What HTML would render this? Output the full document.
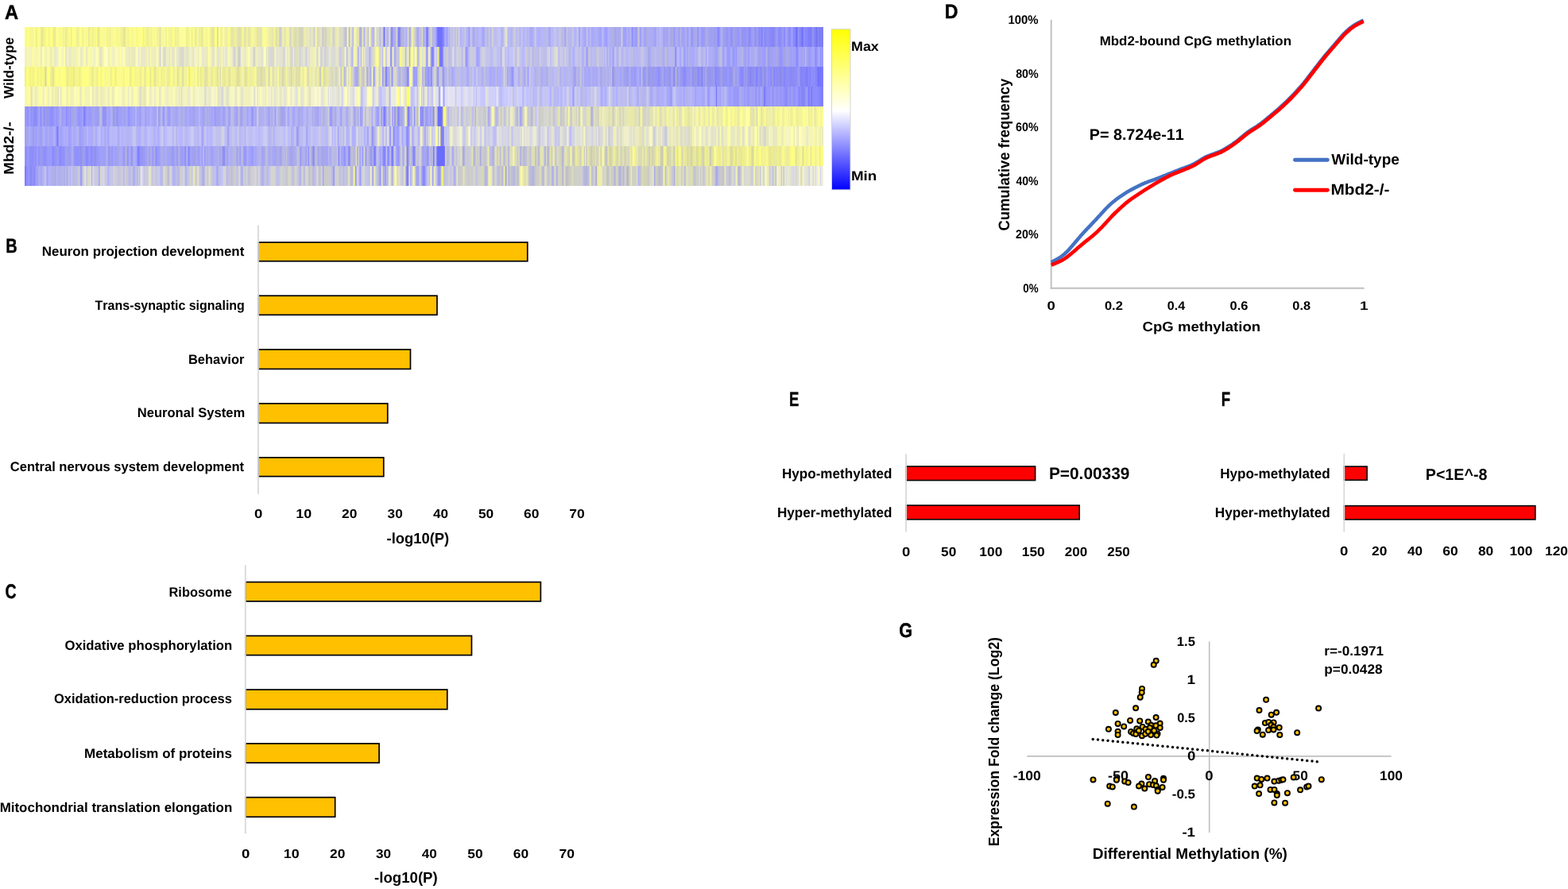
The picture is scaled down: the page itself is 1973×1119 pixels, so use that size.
<!DOCTYPE html>
<html><head><meta charset="utf-8"><title>Figure</title>
<style>html,body{margin:0;padding:0;background:#fff;width:1973px;height:1119px;overflow:hidden;}svg{display:block;}</style></head>
<body><svg width="1973" height="1119" viewBox="0 0 1973 1119">
<rect width="1973" height="1119" fill="#fff"/>
<defs><linearGradient id="h0" x1="0" x2="1" y1="0" y2="0"><stop offset="0.0010" stop-color="#ffff86"/><stop offset="0.0025" stop-color="#f7f78d"/><stop offset="0.0035" stop-color="#fdfd84"/><stop offset="0.0052" stop-color="#ffff82"/><stop offset="0.0070" stop-color="#f6f695"/><stop offset="0.0080" stop-color="#f7f791"/><stop offset="0.0090" stop-color="#f5f597"/><stop offset="0.0099" stop-color="#f5f598"/><stop offset="0.0109" stop-color="#f4f498"/><stop offset="0.0127" stop-color="#ffff90"/><stop offset="0.0149" stop-color="#eded88"/><stop offset="0.0167" stop-color="#fcfc86"/><stop offset="0.0184" stop-color="#fdfd92"/><stop offset="0.0199" stop-color="#f6f691"/><stop offset="0.0219" stop-color="#e4e496"/><stop offset="0.0244" stop-color="#f2f28c"/><stop offset="0.0269" stop-color="#fbfb8a"/><stop offset="0.0288" stop-color="#ffff80"/><stop offset="0.0308" stop-color="#f3f38a"/><stop offset="0.0328" stop-color="#ffff88"/><stop offset="0.0348" stop-color="#ffff80"/><stop offset="0.0371" stop-color="#e6e693"/><stop offset="0.0385" stop-color="#efef94"/><stop offset="0.0405" stop-color="#ffff8d"/><stop offset="0.0428" stop-color="#fbfb95"/><stop offset="0.0443" stop-color="#f8f888"/><stop offset="0.0463" stop-color="#fefe8f"/><stop offset="0.0485" stop-color="#f1f191"/><stop offset="0.0500" stop-color="#fbfb97"/><stop offset="0.0512" stop-color="#e9e999"/><stop offset="0.0530" stop-color="#f0f091"/><stop offset="0.0555" stop-color="#fafa8b"/><stop offset="0.0575" stop-color="#fbfb83"/><stop offset="0.0589" stop-color="#ebeba2"/><stop offset="0.0602" stop-color="#ffff8a"/><stop offset="0.0617" stop-color="#ffff85"/><stop offset="0.0632" stop-color="#ffff85"/><stop offset="0.0652" stop-color="#f4f48d"/><stop offset="0.0676" stop-color="#eded98"/><stop offset="0.0694" stop-color="#ffff87"/><stop offset="0.0706" stop-color="#fdfd93"/><stop offset="0.0716" stop-color="#fafa94"/><stop offset="0.0729" stop-color="#f2f28f"/><stop offset="0.0746" stop-color="#f7f79b"/><stop offset="0.0764" stop-color="#ffff90"/><stop offset="0.0778" stop-color="#f5f587"/><stop offset="0.0791" stop-color="#ffff92"/><stop offset="0.0806" stop-color="#e4e49b"/><stop offset="0.0826" stop-color="#fafa8b"/><stop offset="0.0846" stop-color="#f4f486"/><stop offset="0.0861" stop-color="#eded99"/><stop offset="0.0870" stop-color="#fcfc90"/><stop offset="0.0883" stop-color="#f3f393"/><stop offset="0.0900" stop-color="#ffff80"/><stop offset="0.0925" stop-color="#e2e296"/><stop offset="0.0948" stop-color="#f9f98e"/><stop offset="0.0970" stop-color="#fcfc91"/><stop offset="0.1000" stop-color="#f8f897"/><stop offset="0.1022" stop-color="#ffff80"/><stop offset="0.1035" stop-color="#e9e9a2"/><stop offset="0.1047" stop-color="#fdfd91"/><stop offset="0.1064" stop-color="#ebeb9c"/><stop offset="0.1087" stop-color="#fafa90"/><stop offset="0.1114" stop-color="#f8f89f"/><stop offset="0.1137" stop-color="#ffff80"/><stop offset="0.1149" stop-color="#fbfb92"/><stop offset="0.1159" stop-color="#f3f398"/><stop offset="0.1179" stop-color="#fafa92"/><stop offset="0.1201" stop-color="#f6f68e"/><stop offset="0.1224" stop-color="#efef9f"/><stop offset="0.1253" stop-color="#e2e28d"/><stop offset="0.1276" stop-color="#f9f999"/><stop offset="0.1298" stop-color="#f1f197"/><stop offset="0.1323" stop-color="#ffff83"/><stop offset="0.1348" stop-color="#f7f78d"/><stop offset="0.1368" stop-color="#f8f89a"/><stop offset="0.1383" stop-color="#ffff96"/><stop offset="0.1403" stop-color="#f8f880"/><stop offset="0.1420" stop-color="#f9f994"/><stop offset="0.1435" stop-color="#ffff81"/><stop offset="0.1455" stop-color="#fefe8a"/><stop offset="0.1477" stop-color="#ffff80"/><stop offset="0.1492" stop-color="#ecec94"/><stop offset="0.1502" stop-color="#fcfc80"/><stop offset="0.1512" stop-color="#f9f98a"/><stop offset="0.1525" stop-color="#f3f38f"/><stop offset="0.1542" stop-color="#ebeb96"/><stop offset="0.1567" stop-color="#f7f795"/><stop offset="0.1589" stop-color="#f3f394"/><stop offset="0.1602" stop-color="#f9f993"/><stop offset="0.1612" stop-color="#ffff80"/><stop offset="0.1627" stop-color="#f6f695"/><stop offset="0.1641" stop-color="#fdfd8d"/><stop offset="0.1656" stop-color="#f4f49d"/><stop offset="0.1681" stop-color="#f1f197"/><stop offset="0.1701" stop-color="#dedeaa"/><stop offset="0.1714" stop-color="#fafa90"/><stop offset="0.1733" stop-color="#f6f69d"/><stop offset="0.1756" stop-color="#fbfba8"/><stop offset="0.1773" stop-color="#eded96"/><stop offset="0.1788" stop-color="#ffff87"/><stop offset="0.1808" stop-color="#f6f68f"/><stop offset="0.1830" stop-color="#f1f1a1"/><stop offset="0.1848" stop-color="#f6f689"/><stop offset="0.1865" stop-color="#ffff8a"/><stop offset="0.1885" stop-color="#f3f38f"/><stop offset="0.1900" stop-color="#ebeb9b"/><stop offset="0.1910" stop-color="#fcfc82"/><stop offset="0.1920" stop-color="#eeee95"/><stop offset="0.1930" stop-color="#f0f09e"/><stop offset="0.1947" stop-color="#ffff9a"/><stop offset="0.1970" stop-color="#fbfb9c"/><stop offset="0.1992" stop-color="#fdfd9e"/><stop offset="0.2010" stop-color="#ffff94"/><stop offset="0.2022" stop-color="#f6f691"/><stop offset="0.2034" stop-color="#ebeb96"/><stop offset="0.2044" stop-color="#f2f2a1"/><stop offset="0.2054" stop-color="#f2f296"/><stop offset="0.2064" stop-color="#f5f597"/><stop offset="0.2079" stop-color="#ffff95"/><stop offset="0.2097" stop-color="#efef8b"/><stop offset="0.2116" stop-color="#ffff80"/><stop offset="0.2134" stop-color="#f1f1a1"/><stop offset="0.2146" stop-color="#e9e993"/><stop offset="0.2161" stop-color="#f8f891"/><stop offset="0.2174" stop-color="#f8f89f"/><stop offset="0.2189" stop-color="#ebeb9c"/><stop offset="0.2206" stop-color="#f1f194"/><stop offset="0.2223" stop-color="#e3e3a1"/><stop offset="0.2248" stop-color="#fcfc8e"/><stop offset="0.2271" stop-color="#f6f693"/><stop offset="0.2288" stop-color="#f8f894"/><stop offset="0.2308" stop-color="#ffff92"/><stop offset="0.2333" stop-color="#eded9b"/><stop offset="0.2363" stop-color="#e2e2a1"/><stop offset="0.2390" stop-color="#ffff80"/><stop offset="0.2407" stop-color="#ffff80"/><stop offset="0.2417" stop-color="#ccccaa"/><stop offset="0.2432" stop-color="#ffff91"/><stop offset="0.2452" stop-color="#f9f989"/><stop offset="0.2470" stop-color="#ecec99"/><stop offset="0.2485" stop-color="#fbfba4"/><stop offset="0.2497" stop-color="#fbfba0"/><stop offset="0.2509" stop-color="#f1f1a1"/><stop offset="0.2532" stop-color="#ededa5"/><stop offset="0.2562" stop-color="#ffff87"/><stop offset="0.2592" stop-color="#e5e5a6"/><stop offset="0.2616" stop-color="#e6e6a6"/><stop offset="0.2639" stop-color="#f3f393"/><stop offset="0.2666" stop-color="#e4e4b0"/><stop offset="0.2696" stop-color="#dedead"/><stop offset="0.2718" stop-color="#e8e8a6"/><stop offset="0.2736" stop-color="#ffff8a"/><stop offset="0.2753" stop-color="#e2e2aa"/><stop offset="0.2771" stop-color="#e5e5b2"/><stop offset="0.2788" stop-color="#f8f88e"/><stop offset="0.2810" stop-color="#e0e0af"/><stop offset="0.2830" stop-color="#efef9d"/><stop offset="0.2850" stop-color="#f8f89e"/><stop offset="0.2880" stop-color="#f3f3a3"/><stop offset="0.2902" stop-color="#efef8f"/><stop offset="0.2925" stop-color="#e1e1aa"/><stop offset="0.2945" stop-color="#e6e6b6"/><stop offset="0.2960" stop-color="#ddddba"/><stop offset="0.2975" stop-color="#f2f29e"/><stop offset="0.2992" stop-color="#ffff82"/><stop offset="0.3014" stop-color="#fafaa0"/><stop offset="0.3039" stop-color="#f7f7a1"/><stop offset="0.3064" stop-color="#ededa7"/><stop offset="0.3086" stop-color="#ececa7"/><stop offset="0.3109" stop-color="#e5e5af"/><stop offset="0.3131" stop-color="#f8f898"/><stop offset="0.3149" stop-color="#e1e19c"/><stop offset="0.3161" stop-color="#e2e2ae"/><stop offset="0.3178" stop-color="#eeeea1"/><stop offset="0.3196" stop-color="#c8c8ce"/><stop offset="0.3211" stop-color="#d1d1c9"/><stop offset="0.3223" stop-color="#e4e4aa"/><stop offset="0.3238" stop-color="#f0f0cb"/><stop offset="0.3258" stop-color="#e3e3a8"/><stop offset="0.3283" stop-color="#f4f4a2"/><stop offset="0.3308" stop-color="#f1f1a9"/><stop offset="0.3323" stop-color="#dbdbb5"/><stop offset="0.3333" stop-color="#d1d1cf"/><stop offset="0.3348" stop-color="#ededb7"/><stop offset="0.3372" stop-color="#e1e1ad"/><stop offset="0.3397" stop-color="#dadab0"/><stop offset="0.3420" stop-color="#e4e4b6"/><stop offset="0.3437" stop-color="#d7d7b3"/><stop offset="0.3452" stop-color="#d4d4c0"/><stop offset="0.3467" stop-color="#d6d6b5"/><stop offset="0.3482" stop-color="#d1d1bb"/><stop offset="0.3497" stop-color="#e9e9b2"/><stop offset="0.3517" stop-color="#eeeeb1"/><stop offset="0.3544" stop-color="#e4e4bd"/><stop offset="0.3561" stop-color="#eeeebe"/><stop offset="0.3574" stop-color="#d7d7cb"/><stop offset="0.3591" stop-color="#e8e8c2"/><stop offset="0.3614" stop-color="#e1e1c3"/><stop offset="0.3631" stop-color="#cacad2"/><stop offset="0.3649" stop-color="#ffffa6"/><stop offset="0.3666" stop-color="#dbdbb8"/><stop offset="0.3686" stop-color="#ddddbb"/><stop offset="0.3708" stop-color="#e5e5cc"/><stop offset="0.3721" stop-color="#e2e2c4"/><stop offset="0.3736" stop-color="#c4c4ce"/><stop offset="0.3753" stop-color="#dcdcbc"/><stop offset="0.3768" stop-color="#cfcfc6"/><stop offset="0.3783" stop-color="#d8d8ca"/><stop offset="0.3795" stop-color="#e5e5b3"/><stop offset="0.3815" stop-color="#dedec2"/><stop offset="0.3835" stop-color="#ebebb0"/><stop offset="0.3847" stop-color="#e9e9bb"/><stop offset="0.3870" stop-color="#c8c8e2"/><stop offset="0.3890" stop-color="#e6e6b1"/><stop offset="0.3902" stop-color="#e6e6b7"/><stop offset="0.3920" stop-color="#f3f3a9"/><stop offset="0.3935" stop-color="#e4e4c6"/><stop offset="0.3949" stop-color="#dadac5"/><stop offset="0.3974" stop-color="#dedec1"/><stop offset="0.3997" stop-color="#cfcfd4"/><stop offset="0.4014" stop-color="#c0c0dc"/><stop offset="0.4029" stop-color="#c0c0d4"/><stop offset="0.4046" stop-color="#ffff9e"/><stop offset="0.4066" stop-color="#b8b8e2"/><stop offset="0.4086" stop-color="#eeeeb9"/><stop offset="0.4111" stop-color="#b7b7ee"/><stop offset="0.4131" stop-color="#f8f8a7"/><stop offset="0.4151" stop-color="#f3f3a7"/><stop offset="0.4171" stop-color="#dcdcbf"/><stop offset="0.4183" stop-color="#e9e9b1"/><stop offset="0.4196" stop-color="#afafe0"/><stop offset="0.4218" stop-color="#b3b3e2"/><stop offset="0.4238" stop-color="#f9f9b0"/><stop offset="0.4250" stop-color="#9e9eff"/><stop offset="0.4265" stop-color="#d9d9cf"/><stop offset="0.4285" stop-color="#dfdfc5"/><stop offset="0.4305" stop-color="#c2c2cf"/><stop offset="0.4318" stop-color="#ffffaa"/><stop offset="0.4332" stop-color="#e7e7b1"/><stop offset="0.4352" stop-color="#b9b9f0"/><stop offset="0.4375" stop-color="#b7b7f4"/><stop offset="0.4392" stop-color="#ffff80"/><stop offset="0.4412" stop-color="#d4d4e0"/><stop offset="0.4434" stop-color="#d7d7d4"/><stop offset="0.4452" stop-color="#b7b7e9"/><stop offset="0.4467" stop-color="#d6d6cb"/><stop offset="0.4482" stop-color="#d2d2dc"/><stop offset="0.4504" stop-color="#7171ff"/><stop offset="0.4521" stop-color="#d7d7af"/><stop offset="0.4534" stop-color="#b7b7fa"/><stop offset="0.4551" stop-color="#b3b3f4"/><stop offset="0.4571" stop-color="#e4e4c3"/><stop offset="0.4596" stop-color="#8080fa"/><stop offset="0.4621" stop-color="#b1b1ec"/><stop offset="0.4641" stop-color="#ababff"/><stop offset="0.4661" stop-color="#dbdbbe"/><stop offset="0.4681" stop-color="#8080ff"/><stop offset="0.4696" stop-color="#8080ff"/><stop offset="0.4711" stop-color="#a8a8da"/><stop offset="0.4730" stop-color="#b8b8e5"/><stop offset="0.4745" stop-color="#afafe6"/><stop offset="0.4760" stop-color="#c3c3ef"/><stop offset="0.4780" stop-color="#ababfd"/><stop offset="0.4795" stop-color="#cbcbd0"/><stop offset="0.4805" stop-color="#e2e2ba"/><stop offset="0.4820" stop-color="#a0a0ff"/><stop offset="0.4837" stop-color="#c4c4cf"/><stop offset="0.4852" stop-color="#f3f3ac"/><stop offset="0.4875" stop-color="#ddddbb"/><stop offset="0.4900" stop-color="#c3c3d8"/><stop offset="0.4924" stop-color="#a2a2ff"/><stop offset="0.4947" stop-color="#c4c4dd"/><stop offset="0.4967" stop-color="#c0c0db"/><stop offset="0.4984" stop-color="#e0e0bf"/><stop offset="0.4997" stop-color="#9a9aff"/><stop offset="0.5016" stop-color="#c5c5e1"/><stop offset="0.5039" stop-color="#6e6eff"/><stop offset="0.5064" stop-color="#babae7"/><stop offset="0.5094" stop-color="#d9d9c0"/><stop offset="0.5113" stop-color="#b0b0e3"/><stop offset="0.5128" stop-color="#b8b8f1"/><stop offset="0.5151" stop-color="#a7a7ff"/><stop offset="0.5173" stop-color="#7070ff"/><stop offset="0.5188" stop-color="#7070ff"/><stop offset="0.5200" stop-color="#7070ff"/><stop offset="0.5220" stop-color="#7070ff"/><stop offset="0.5248" stop-color="#8a8aff"/><stop offset="0.5270" stop-color="#b2b2f6"/><stop offset="0.5283" stop-color="#9f9fff"/><stop offset="0.5295" stop-color="#a0a0ff"/><stop offset="0.5307" stop-color="#bbbbfb"/><stop offset="0.5322" stop-color="#b4b4db"/><stop offset="0.5337" stop-color="#c9c9e9"/><stop offset="0.5355" stop-color="#bbbbe8"/><stop offset="0.5372" stop-color="#cfcfe0"/><stop offset="0.5382" stop-color="#c4c4f0"/><stop offset="0.5392" stop-color="#bcbcde"/><stop offset="0.5407" stop-color="#d1d1cd"/><stop offset="0.5422" stop-color="#bbbbf6"/><stop offset="0.5442" stop-color="#d5d5de"/><stop offset="0.5462" stop-color="#a9a9f2"/><stop offset="0.5474" stop-color="#bdbdfd"/><stop offset="0.5491" stop-color="#b8b8ef"/><stop offset="0.5506" stop-color="#c3c3e5"/><stop offset="0.5519" stop-color="#c6c6e5"/><stop offset="0.5536" stop-color="#b4b4f6"/><stop offset="0.5554" stop-color="#b3b3f4"/><stop offset="0.5566" stop-color="#9494ff"/><stop offset="0.5576" stop-color="#b5b5f9"/><stop offset="0.5593" stop-color="#c9c9e9"/><stop offset="0.5611" stop-color="#afaff2"/><stop offset="0.5623" stop-color="#a3a3f7"/><stop offset="0.5646" stop-color="#bcbce2"/><stop offset="0.5666" stop-color="#b0b0f1"/><stop offset="0.5685" stop-color="#b7b7ff"/><stop offset="0.5715" stop-color="#b9b9f6"/><stop offset="0.5740" stop-color="#a2a2ff"/><stop offset="0.5758" stop-color="#aeaee9"/><stop offset="0.5772" stop-color="#c1c1ff"/><stop offset="0.5790" stop-color="#b9b9e7"/><stop offset="0.5805" stop-color="#b9b9e2"/><stop offset="0.5817" stop-color="#cacae0"/><stop offset="0.5837" stop-color="#b5b5ee"/><stop offset="0.5860" stop-color="#d7d7c8"/><stop offset="0.5882" stop-color="#babaf9"/><stop offset="0.5909" stop-color="#bfbfe8"/><stop offset="0.5929" stop-color="#c3c3fc"/><stop offset="0.5947" stop-color="#c7c7ee"/><stop offset="0.5966" stop-color="#babafc"/><stop offset="0.5984" stop-color="#b0b0e9"/><stop offset="0.6001" stop-color="#c4c4f5"/><stop offset="0.6019" stop-color="#deded4"/><stop offset="0.6036" stop-color="#e4e4ca"/><stop offset="0.6049" stop-color="#c3c3e3"/><stop offset="0.6061" stop-color="#b5b5f4"/><stop offset="0.6076" stop-color="#bdbdf8"/><stop offset="0.6093" stop-color="#b0b0fa"/><stop offset="0.6111" stop-color="#bfbfea"/><stop offset="0.6123" stop-color="#bebef8"/><stop offset="0.6138" stop-color="#d5d5ca"/><stop offset="0.6158" stop-color="#b6b6f5"/><stop offset="0.6180" stop-color="#c6c6e7"/><stop offset="0.6205" stop-color="#b3b3f4"/><stop offset="0.6223" stop-color="#c5c5f2"/><stop offset="0.6235" stop-color="#bebef0"/><stop offset="0.6255" stop-color="#b1b1f7"/><stop offset="0.6275" stop-color="#c1c1f3"/><stop offset="0.6290" stop-color="#b4b4ec"/><stop offset="0.6310" stop-color="#babafa"/><stop offset="0.6332" stop-color="#ababf2"/><stop offset="0.6357" stop-color="#aaaaf9"/><stop offset="0.6382" stop-color="#bbbbe8"/><stop offset="0.6397" stop-color="#cdcdf0"/><stop offset="0.6409" stop-color="#b2b2f9"/><stop offset="0.6422" stop-color="#b9b9ed"/><stop offset="0.6432" stop-color="#ababff"/><stop offset="0.6451" stop-color="#b4b4f0"/><stop offset="0.6474" stop-color="#b3b3ff"/><stop offset="0.6486" stop-color="#b8b8ff"/><stop offset="0.6501" stop-color="#b7b7e4"/><stop offset="0.6526" stop-color="#babaf4"/><stop offset="0.6553" stop-color="#b8b8ec"/><stop offset="0.6571" stop-color="#a3a3ff"/><stop offset="0.6583" stop-color="#aeaefb"/><stop offset="0.6596" stop-color="#bbbbe8"/><stop offset="0.6616" stop-color="#b8b8ff"/><stop offset="0.6643" stop-color="#c8c8e2"/><stop offset="0.6665" stop-color="#b9b9f2"/><stop offset="0.6685" stop-color="#bdbdf0"/><stop offset="0.6703" stop-color="#c6c6e0"/><stop offset="0.6720" stop-color="#c0c0e0"/><stop offset="0.6737" stop-color="#b3b3ed"/><stop offset="0.6750" stop-color="#c0c0f0"/><stop offset="0.6767" stop-color="#9e9ef1"/><stop offset="0.6790" stop-color="#c7c7e4"/><stop offset="0.6810" stop-color="#b6b6e3"/><stop offset="0.6825" stop-color="#babaf1"/><stop offset="0.6842" stop-color="#b5b5f4"/><stop offset="0.6859" stop-color="#c5c5dd"/><stop offset="0.6869" stop-color="#c7c7f6"/><stop offset="0.6882" stop-color="#b2b2ff"/><stop offset="0.6894" stop-color="#b3b3e6"/><stop offset="0.6907" stop-color="#b9b9ea"/><stop offset="0.6919" stop-color="#c6c6e9"/><stop offset="0.6931" stop-color="#bfbff4"/><stop offset="0.6949" stop-color="#9898ff"/><stop offset="0.6964" stop-color="#c5c5f1"/><stop offset="0.6981" stop-color="#b4b4f2"/><stop offset="0.7001" stop-color="#ababf9"/><stop offset="0.7023" stop-color="#a4a4fc"/><stop offset="0.7043" stop-color="#c7c7e0"/><stop offset="0.7053" stop-color="#b5b5ef"/><stop offset="0.7066" stop-color="#a4a4fd"/><stop offset="0.7083" stop-color="#bebef7"/><stop offset="0.7098" stop-color="#ababee"/><stop offset="0.7113" stop-color="#a7a7ff"/><stop offset="0.7128" stop-color="#ababf4"/><stop offset="0.7148" stop-color="#b0b0fa"/><stop offset="0.7178" stop-color="#adadf6"/><stop offset="0.7198" stop-color="#a4a4f4"/><stop offset="0.7215" stop-color="#a1a1ff"/><stop offset="0.7237" stop-color="#bbbbf5"/><stop offset="0.7252" stop-color="#adadff"/><stop offset="0.7267" stop-color="#a1a1ff"/><stop offset="0.7287" stop-color="#9c9cff"/><stop offset="0.7309" stop-color="#b2b2fd"/><stop offset="0.7337" stop-color="#b0b0f1"/><stop offset="0.7364" stop-color="#b1b1dd"/><stop offset="0.7382" stop-color="#acacf0"/><stop offset="0.7394" stop-color="#a3a3eb"/><stop offset="0.7416" stop-color="#ababf2"/><stop offset="0.7444" stop-color="#ababe5"/><stop offset="0.7464" stop-color="#acacf1"/><stop offset="0.7479" stop-color="#d5d5d2"/><stop offset="0.7491" stop-color="#a7a7fb"/><stop offset="0.7508" stop-color="#9f9fff"/><stop offset="0.7531" stop-color="#a1a1fd"/><stop offset="0.7548" stop-color="#b6b6e0"/><stop offset="0.7566" stop-color="#a1a1f7"/><stop offset="0.7581" stop-color="#b9b9ec"/><stop offset="0.7596" stop-color="#a7a7ff"/><stop offset="0.7610" stop-color="#8a8aff"/><stop offset="0.7630" stop-color="#a9a9f9"/><stop offset="0.7655" stop-color="#9494ff"/><stop offset="0.7673" stop-color="#aaaaf1"/><stop offset="0.7688" stop-color="#cacad2"/><stop offset="0.7710" stop-color="#9898ff"/><stop offset="0.7737" stop-color="#babaeb"/><stop offset="0.7760" stop-color="#a1a1ff"/><stop offset="0.7782" stop-color="#a8a8e3"/><stop offset="0.7802" stop-color="#b0b0ed"/><stop offset="0.7819" stop-color="#adadf1"/><stop offset="0.7834" stop-color="#acacf3"/><stop offset="0.7854" stop-color="#adadee"/><stop offset="0.7877" stop-color="#a9a9fa"/><stop offset="0.7889" stop-color="#a0a0fa"/><stop offset="0.7904" stop-color="#a3a3f8"/><stop offset="0.7921" stop-color="#bdbdea"/><stop offset="0.7936" stop-color="#acacf5"/><stop offset="0.7949" stop-color="#bbbbe8"/><stop offset="0.7961" stop-color="#b8b8fc"/><stop offset="0.7981" stop-color="#b4b4f3"/><stop offset="0.8003" stop-color="#a1a1f3"/><stop offset="0.8023" stop-color="#a8a8ed"/><stop offset="0.8048" stop-color="#a3a3f9"/><stop offset="0.8073" stop-color="#b5b5e1"/><stop offset="0.8090" stop-color="#a3a3f2"/><stop offset="0.8113" stop-color="#adadd9"/><stop offset="0.8135" stop-color="#9797ff"/><stop offset="0.8150" stop-color="#aeaeec"/><stop offset="0.8165" stop-color="#a9a9f2"/><stop offset="0.8180" stop-color="#aeaee5"/><stop offset="0.8192" stop-color="#9999fb"/><stop offset="0.8212" stop-color="#b3b3e5"/><stop offset="0.8235" stop-color="#a1a1f5"/><stop offset="0.8252" stop-color="#a1a1f9"/><stop offset="0.8269" stop-color="#a5a5f9"/><stop offset="0.8282" stop-color="#b2b2f0"/><stop offset="0.8294" stop-color="#9f9feb"/><stop offset="0.8309" stop-color="#a0a0fb"/><stop offset="0.8329" stop-color="#b6b6f4"/><stop offset="0.8352" stop-color="#9292f4"/><stop offset="0.8376" stop-color="#a6a6eb"/><stop offset="0.8399" stop-color="#a9a9f3"/><stop offset="0.8416" stop-color="#ababe7"/><stop offset="0.8431" stop-color="#8c8cf7"/><stop offset="0.8441" stop-color="#a4a4e6"/><stop offset="0.8456" stop-color="#aeaefc"/><stop offset="0.8471" stop-color="#9d9df3"/><stop offset="0.8491" stop-color="#9797ff"/><stop offset="0.8511" stop-color="#9e9ef3"/><stop offset="0.8523" stop-color="#a2a2ee"/><stop offset="0.8536" stop-color="#b0b0e2"/><stop offset="0.8551" stop-color="#a9a9ea"/><stop offset="0.8568" stop-color="#a0a0f8"/><stop offset="0.8583" stop-color="#a1a1f0"/><stop offset="0.8600" stop-color="#9f9ff0"/><stop offset="0.8618" stop-color="#a3a3f5"/><stop offset="0.8638" stop-color="#9d9de5"/><stop offset="0.8662" stop-color="#a0a0ff"/><stop offset="0.8680" stop-color="#8787fd"/><stop offset="0.8695" stop-color="#8b8bfc"/><stop offset="0.8715" stop-color="#ababf8"/><stop offset="0.8732" stop-color="#b0b0e7"/><stop offset="0.8752" stop-color="#9c9cf7"/><stop offset="0.8772" stop-color="#a0a0ec"/><stop offset="0.8784" stop-color="#9797ef"/><stop offset="0.8804" stop-color="#9595ff"/><stop offset="0.8824" stop-color="#a3a3e9"/><stop offset="0.8839" stop-color="#9393ff"/><stop offset="0.8854" stop-color="#9393f0"/><stop offset="0.8864" stop-color="#9494f3"/><stop offset="0.8874" stop-color="#a7a7df"/><stop offset="0.8889" stop-color="#9f9fe9"/><stop offset="0.8914" stop-color="#9a9af1"/><stop offset="0.8941" stop-color="#9595fd"/><stop offset="0.8963" stop-color="#a3a3f6"/><stop offset="0.8986" stop-color="#9393eb"/><stop offset="0.9008" stop-color="#9494ff"/><stop offset="0.9026" stop-color="#9191f6"/><stop offset="0.9045" stop-color="#9d9def"/><stop offset="0.9065" stop-color="#8f8ff5"/><stop offset="0.9080" stop-color="#8a8af1"/><stop offset="0.9093" stop-color="#9393ff"/><stop offset="0.9110" stop-color="#9d9df7"/><stop offset="0.9130" stop-color="#a1a1eb"/><stop offset="0.9150" stop-color="#8d8df6"/><stop offset="0.9172" stop-color="#9e9ef8"/><stop offset="0.9197" stop-color="#8b8bf0"/><stop offset="0.9220" stop-color="#8f8ff8"/><stop offset="0.9232" stop-color="#7b7bff"/><stop offset="0.9249" stop-color="#9a9af6"/><stop offset="0.9267" stop-color="#8989f9"/><stop offset="0.9282" stop-color="#8c8cf4"/><stop offset="0.9304" stop-color="#9292f8"/><stop offset="0.9331" stop-color="#8a8af8"/><stop offset="0.9354" stop-color="#8989fb"/><stop offset="0.9371" stop-color="#8282f4"/><stop offset="0.9391" stop-color="#8e8eef"/><stop offset="0.9406" stop-color="#9595f1"/><stop offset="0.9421" stop-color="#9f9ff0"/><stop offset="0.9443" stop-color="#8787ff"/><stop offset="0.9468" stop-color="#8d8df9"/><stop offset="0.9496" stop-color="#9c9cef"/><stop offset="0.9516" stop-color="#8484fb"/><stop offset="0.9528" stop-color="#a5a5f2"/><stop offset="0.9550" stop-color="#9a9aff"/><stop offset="0.9570" stop-color="#8d8df0"/><stop offset="0.9585" stop-color="#8a8afb"/><stop offset="0.9605" stop-color="#a4a4fc"/><stop offset="0.9627" stop-color="#8a8aff"/><stop offset="0.9647" stop-color="#8787fc"/><stop offset="0.9660" stop-color="#7171f8"/><stop offset="0.9670" stop-color="#6b6bff"/><stop offset="0.9687" stop-color="#9696f8"/><stop offset="0.9707" stop-color="#8888eb"/><stop offset="0.9722" stop-color="#8484ff"/><stop offset="0.9737" stop-color="#6b6bff"/><stop offset="0.9759" stop-color="#9393fa"/><stop offset="0.9779" stop-color="#8585ff"/><stop offset="0.9792" stop-color="#8a8afe"/><stop offset="0.9809" stop-color="#7f7fff"/><stop offset="0.9824" stop-color="#7d7df8"/><stop offset="0.9834" stop-color="#8282f2"/><stop offset="0.9844" stop-color="#7a7aff"/><stop offset="0.9854" stop-color="#8484ee"/><stop offset="0.9864" stop-color="#9494f4"/><stop offset="0.9879" stop-color="#8d8df3"/><stop offset="0.9896" stop-color="#8383ff"/><stop offset="0.9916" stop-color="#7474f5"/><stop offset="0.9936" stop-color="#8484f4"/><stop offset="0.9948" stop-color="#8888f5"/><stop offset="0.9958" stop-color="#7171f8"/><stop offset="0.9968" stop-color="#8989f4"/><stop offset="0.9981" stop-color="#7777fc"/><stop offset="1.0000" stop-color="#8787ef"/></linearGradient><linearGradient id="h1" x1="0" x2="1" y1="0" y2="0"><stop offset="0.0007" stop-color="#f5f5b0"/><stop offset="0.0022" stop-color="#f1f1bc"/><stop offset="0.0037" stop-color="#f7f7ab"/><stop offset="0.0057" stop-color="#f5f5bf"/><stop offset="0.0085" stop-color="#f2f2b9"/><stop offset="0.0107" stop-color="#ffff96"/><stop offset="0.0129" stop-color="#f3f3bd"/><stop offset="0.0152" stop-color="#f9f9a5"/><stop offset="0.0164" stop-color="#f1f1bb"/><stop offset="0.0182" stop-color="#ffffa6"/><stop offset="0.0199" stop-color="#f2f2b6"/><stop offset="0.0211" stop-color="#eaeab3"/><stop offset="0.0229" stop-color="#ffffb7"/><stop offset="0.0249" stop-color="#f9f9ae"/><stop offset="0.0271" stop-color="#efefb2"/><stop offset="0.0291" stop-color="#fbfbb2"/><stop offset="0.0308" stop-color="#f7f7b5"/><stop offset="0.0333" stop-color="#ebebac"/><stop offset="0.0353" stop-color="#f4f4b2"/><stop offset="0.0366" stop-color="#f6f6b9"/><stop offset="0.0381" stop-color="#e5e5bf"/><stop offset="0.0393" stop-color="#ececc4"/><stop offset="0.0405" stop-color="#ececc6"/><stop offset="0.0425" stop-color="#f5f5c2"/><stop offset="0.0443" stop-color="#ffffb6"/><stop offset="0.0453" stop-color="#ffffb4"/><stop offset="0.0465" stop-color="#f4f4ba"/><stop offset="0.0482" stop-color="#f6f6ba"/><stop offset="0.0505" stop-color="#ffffad"/><stop offset="0.0522" stop-color="#ddddba"/><stop offset="0.0537" stop-color="#f6f6c5"/><stop offset="0.0562" stop-color="#e7e7c6"/><stop offset="0.0584" stop-color="#ededbe"/><stop offset="0.0602" stop-color="#f2f2b4"/><stop offset="0.0619" stop-color="#eeeec1"/><stop offset="0.0637" stop-color="#efefba"/><stop offset="0.0654" stop-color="#f5f5ab"/><stop offset="0.0669" stop-color="#f3f3bb"/><stop offset="0.0684" stop-color="#fcfcb5"/><stop offset="0.0699" stop-color="#efefc2"/><stop offset="0.0711" stop-color="#e7e7cb"/><stop offset="0.0724" stop-color="#ededc6"/><stop offset="0.0739" stop-color="#f5f5b2"/><stop offset="0.0754" stop-color="#ffffa5"/><stop offset="0.0766" stop-color="#f4f4c3"/><stop offset="0.0781" stop-color="#e5e5c3"/><stop offset="0.0796" stop-color="#fafab0"/><stop offset="0.0816" stop-color="#fafaab"/><stop offset="0.0841" stop-color="#f6f6af"/><stop offset="0.0858" stop-color="#f7f7be"/><stop offset="0.0870" stop-color="#efefc9"/><stop offset="0.0885" stop-color="#f1f1bf"/><stop offset="0.0900" stop-color="#fdfdc3"/><stop offset="0.0913" stop-color="#fdfdb2"/><stop offset="0.0928" stop-color="#f8f8ab"/><stop offset="0.0945" stop-color="#e2e2c0"/><stop offset="0.0962" stop-color="#e4e4bf"/><stop offset="0.0980" stop-color="#efefba"/><stop offset="0.1002" stop-color="#ffffac"/><stop offset="0.1030" stop-color="#fefed1"/><stop offset="0.1050" stop-color="#f2f2b5"/><stop offset="0.1067" stop-color="#f2f2ba"/><stop offset="0.1087" stop-color="#ffffa4"/><stop offset="0.1099" stop-color="#efefc8"/><stop offset="0.1114" stop-color="#f1f1bb"/><stop offset="0.1132" stop-color="#f6f6ba"/><stop offset="0.1154" stop-color="#fcfcc0"/><stop offset="0.1184" stop-color="#f5f5b4"/><stop offset="0.1206" stop-color="#ffffa3"/><stop offset="0.1219" stop-color="#f3f3c3"/><stop offset="0.1236" stop-color="#fcfcb5"/><stop offset="0.1258" stop-color="#fcfcbb"/><stop offset="0.1276" stop-color="#eaeab3"/><stop offset="0.1291" stop-color="#eeeec7"/><stop offset="0.1311" stop-color="#e8e8c0"/><stop offset="0.1333" stop-color="#f1f1b8"/><stop offset="0.1348" stop-color="#e9e9b2"/><stop offset="0.1360" stop-color="#e8e8c6"/><stop offset="0.1383" stop-color="#eaeab6"/><stop offset="0.1403" stop-color="#fdfdbc"/><stop offset="0.1415" stop-color="#fbfbbc"/><stop offset="0.1428" stop-color="#e6e6d9"/><stop offset="0.1447" stop-color="#f8f8bf"/><stop offset="0.1470" stop-color="#e2e2d2"/><stop offset="0.1482" stop-color="#ebebc1"/><stop offset="0.1495" stop-color="#e9e9c3"/><stop offset="0.1507" stop-color="#e7e7d5"/><stop offset="0.1522" stop-color="#efefb0"/><stop offset="0.1537" stop-color="#f3f3c0"/><stop offset="0.1552" stop-color="#efefc2"/><stop offset="0.1567" stop-color="#e5e5c2"/><stop offset="0.1577" stop-color="#fefeb6"/><stop offset="0.1589" stop-color="#eeeec2"/><stop offset="0.1612" stop-color="#eeeebe"/><stop offset="0.1636" stop-color="#ececb5"/><stop offset="0.1659" stop-color="#fafabf"/><stop offset="0.1681" stop-color="#efefbf"/><stop offset="0.1699" stop-color="#d0d0dd"/><stop offset="0.1719" stop-color="#ffffb9"/><stop offset="0.1746" stop-color="#d6d6cb"/><stop offset="0.1766" stop-color="#e0e0c4"/><stop offset="0.1778" stop-color="#ebebc5"/><stop offset="0.1796" stop-color="#f0f0c7"/><stop offset="0.1816" stop-color="#e5e5c1"/><stop offset="0.1833" stop-color="#f7f7b5"/><stop offset="0.1845" stop-color="#e7e7d3"/><stop offset="0.1863" stop-color="#e5e5be"/><stop offset="0.1883" stop-color="#efefbf"/><stop offset="0.1895" stop-color="#ffffbc"/><stop offset="0.1905" stop-color="#e3e3c4"/><stop offset="0.1918" stop-color="#ececca"/><stop offset="0.1935" stop-color="#ddddd1"/><stop offset="0.1957" stop-color="#ddddc4"/><stop offset="0.1985" stop-color="#d6d6d9"/><stop offset="0.2010" stop-color="#ededbc"/><stop offset="0.2034" stop-color="#e0e0c9"/><stop offset="0.2057" stop-color="#e8e8c9"/><stop offset="0.2074" stop-color="#f0f0cb"/><stop offset="0.2094" stop-color="#f0f0bb"/><stop offset="0.2112" stop-color="#e3e3c2"/><stop offset="0.2131" stop-color="#f2f2d3"/><stop offset="0.2154" stop-color="#f4f4bf"/><stop offset="0.2169" stop-color="#f3f3ca"/><stop offset="0.2179" stop-color="#e8e8bc"/><stop offset="0.2194" stop-color="#fafabf"/><stop offset="0.2209" stop-color="#fafab7"/><stop offset="0.2223" stop-color="#ebebc5"/><stop offset="0.2238" stop-color="#e3e3dd"/><stop offset="0.2253" stop-color="#ededc3"/><stop offset="0.2273" stop-color="#ebebb1"/><stop offset="0.2288" stop-color="#e6e6cf"/><stop offset="0.2306" stop-color="#ffffa5"/><stop offset="0.2328" stop-color="#f6f6b4"/><stop offset="0.2348" stop-color="#eaeac3"/><stop offset="0.2363" stop-color="#dfdfc8"/><stop offset="0.2375" stop-color="#e7e7d3"/><stop offset="0.2393" stop-color="#ffffa0"/><stop offset="0.2417" stop-color="#e1e1d1"/><stop offset="0.2442" stop-color="#eaeac4"/><stop offset="0.2462" stop-color="#ededb6"/><stop offset="0.2477" stop-color="#fafaba"/><stop offset="0.2490" stop-color="#e3e3cd"/><stop offset="0.2507" stop-color="#f2f2d3"/><stop offset="0.2524" stop-color="#dfdfd1"/><stop offset="0.2547" stop-color="#f7f7b9"/><stop offset="0.2572" stop-color="#f5f5c0"/><stop offset="0.2587" stop-color="#f2f2b3"/><stop offset="0.2604" stop-color="#e8e8d0"/><stop offset="0.2629" stop-color="#ccccd6"/><stop offset="0.2649" stop-color="#eaeac4"/><stop offset="0.2664" stop-color="#e6e6c2"/><stop offset="0.2681" stop-color="#cdcdc2"/><stop offset="0.2698" stop-color="#cbcbe0"/><stop offset="0.2713" stop-color="#f0f0c7"/><stop offset="0.2736" stop-color="#f0f0c4"/><stop offset="0.2766" stop-color="#e7e7c5"/><stop offset="0.2790" stop-color="#f8f8b2"/><stop offset="0.2813" stop-color="#ffffb4"/><stop offset="0.2830" stop-color="#ececc9"/><stop offset="0.2843" stop-color="#eeeec4"/><stop offset="0.2855" stop-color="#ececce"/><stop offset="0.2873" stop-color="#cececd"/><stop offset="0.2895" stop-color="#e9e9c6"/><stop offset="0.2910" stop-color="#f3f3ba"/><stop offset="0.2927" stop-color="#e7e7d7"/><stop offset="0.2950" stop-color="#eaeac3"/><stop offset="0.2967" stop-color="#e5e5ca"/><stop offset="0.2982" stop-color="#e0e0d9"/><stop offset="0.2999" stop-color="#ffffc3"/><stop offset="0.3017" stop-color="#ffffbe"/><stop offset="0.3029" stop-color="#e1e1c8"/><stop offset="0.3039" stop-color="#eeeec3"/><stop offset="0.3054" stop-color="#dfdfc7"/><stop offset="0.3079" stop-color="#d7d7db"/><stop offset="0.3104" stop-color="#d9d9d1"/><stop offset="0.3121" stop-color="#d8d8d1"/><stop offset="0.3136" stop-color="#f7f7c1"/><stop offset="0.3154" stop-color="#e5e5da"/><stop offset="0.3171" stop-color="#e3e3d0"/><stop offset="0.3183" stop-color="#e8e8c9"/><stop offset="0.3198" stop-color="#e3e3d6"/><stop offset="0.3223" stop-color="#e4e4cb"/><stop offset="0.3253" stop-color="#d2d2dd"/><stop offset="0.3275" stop-color="#f5f5ca"/><stop offset="0.3293" stop-color="#e5e5d4"/><stop offset="0.3313" stop-color="#f4f4b3"/><stop offset="0.3333" stop-color="#d7d7c5"/><stop offset="0.3353" stop-color="#d4d4dc"/><stop offset="0.3370" stop-color="#f3f3b5"/><stop offset="0.3385" stop-color="#cccce6"/><stop offset="0.3400" stop-color="#e7e7bc"/><stop offset="0.3412" stop-color="#d8d8ce"/><stop offset="0.3430" stop-color="#e5e5c6"/><stop offset="0.3447" stop-color="#cfcfd5"/><stop offset="0.3462" stop-color="#dbdbd2"/><stop offset="0.3487" stop-color="#e1e1d8"/><stop offset="0.3509" stop-color="#e4e4d0"/><stop offset="0.3527" stop-color="#cccce1"/><stop offset="0.3547" stop-color="#e8e8cf"/><stop offset="0.3561" stop-color="#ddddd3"/><stop offset="0.3576" stop-color="#ebebc7"/><stop offset="0.3601" stop-color="#ededba"/><stop offset="0.3624" stop-color="#efefae"/><stop offset="0.3641" stop-color="#f7f7c0"/><stop offset="0.3656" stop-color="#e1e1d6"/><stop offset="0.3671" stop-color="#d3d3d4"/><stop offset="0.3688" stop-color="#fcfcb6"/><stop offset="0.3701" stop-color="#ddddda"/><stop offset="0.3721" stop-color="#ceced8"/><stop offset="0.3741" stop-color="#e9e9be"/><stop offset="0.3758" stop-color="#cecedb"/><stop offset="0.3785" stop-color="#d7d7d5"/><stop offset="0.3805" stop-color="#dbdbe3"/><stop offset="0.3815" stop-color="#ebebc8"/><stop offset="0.3833" stop-color="#e2e2d2"/><stop offset="0.3850" stop-color="#dcdcd4"/><stop offset="0.3862" stop-color="#dadad6"/><stop offset="0.3880" stop-color="#d9d9d6"/><stop offset="0.3902" stop-color="#e5e5cf"/><stop offset="0.3920" stop-color="#e6e6cd"/><stop offset="0.3930" stop-color="#e0e0c3"/><stop offset="0.3940" stop-color="#d4d4d3"/><stop offset="0.3957" stop-color="#c9c9e6"/><stop offset="0.3979" stop-color="#d7d7cd"/><stop offset="0.3999" stop-color="#d6d6d3"/><stop offset="0.4019" stop-color="#fcfcb8"/><stop offset="0.4037" stop-color="#b9b9e7"/><stop offset="0.4049" stop-color="#dbdbd4"/><stop offset="0.4064" stop-color="#ebebc1"/><stop offset="0.4081" stop-color="#d8d8e7"/><stop offset="0.4104" stop-color="#b2b2f3"/><stop offset="0.4126" stop-color="#f4f4b5"/><stop offset="0.4138" stop-color="#f9f9a4"/><stop offset="0.4158" stop-color="#ececac"/><stop offset="0.4181" stop-color="#a8a8ff"/><stop offset="0.4198" stop-color="#ececcd"/><stop offset="0.4216" stop-color="#b4b4fa"/><stop offset="0.4228" stop-color="#fcfcb4"/><stop offset="0.4243" stop-color="#d3d3e4"/><stop offset="0.4258" stop-color="#ebebc4"/><stop offset="0.4278" stop-color="#cdcdd8"/><stop offset="0.4303" stop-color="#cfcfec"/><stop offset="0.4323" stop-color="#aeaeed"/><stop offset="0.4340" stop-color="#cecedc"/><stop offset="0.4357" stop-color="#d8d8c7"/><stop offset="0.4382" stop-color="#e2e2c4"/><stop offset="0.4410" stop-color="#ffff96"/><stop offset="0.4429" stop-color="#ffff80"/><stop offset="0.4447" stop-color="#cecedd"/><stop offset="0.4462" stop-color="#dbdbc9"/><stop offset="0.4472" stop-color="#dcdcc4"/><stop offset="0.4484" stop-color="#bbbbf5"/><stop offset="0.4497" stop-color="#f8f8b5"/><stop offset="0.4512" stop-color="#f3f3b5"/><stop offset="0.4529" stop-color="#bfbfe4"/><stop offset="0.4546" stop-color="#f1f1c9"/><stop offset="0.4561" stop-color="#e6e6d2"/><stop offset="0.4571" stop-color="#ffffa4"/><stop offset="0.4584" stop-color="#8989ff"/><stop offset="0.4599" stop-color="#aaaaf4"/><stop offset="0.4611" stop-color="#ffffb4"/><stop offset="0.4623" stop-color="#cfcfd6"/><stop offset="0.4638" stop-color="#a1a1ff"/><stop offset="0.4661" stop-color="#cdcdd0"/><stop offset="0.4686" stop-color="#bfbfe6"/><stop offset="0.4703" stop-color="#f7f78c"/><stop offset="0.4718" stop-color="#f7f78c"/><stop offset="0.4740" stop-color="#e7e7d1"/><stop offset="0.4763" stop-color="#e2e2c4"/><stop offset="0.4775" stop-color="#9e9eff"/><stop offset="0.4785" stop-color="#f6f6ac"/><stop offset="0.4795" stop-color="#d8d8d5"/><stop offset="0.4805" stop-color="#ffffa7"/><stop offset="0.4820" stop-color="#a4a4f5"/><stop offset="0.4837" stop-color="#ffff80"/><stop offset="0.4857" stop-color="#ffff94"/><stop offset="0.4877" stop-color="#dedec3"/><stop offset="0.4892" stop-color="#ffffab"/><stop offset="0.4904" stop-color="#ffff94"/><stop offset="0.4924" stop-color="#afaffa"/><stop offset="0.4944" stop-color="#d7d7c4"/><stop offset="0.4962" stop-color="#f8f8a7"/><stop offset="0.4982" stop-color="#e0e0d3"/><stop offset="0.5004" stop-color="#f1f1a8"/><stop offset="0.5024" stop-color="#d4d4e7"/><stop offset="0.5036" stop-color="#8383ff"/><stop offset="0.5054" stop-color="#d2d2e3"/><stop offset="0.5069" stop-color="#ffffa0"/><stop offset="0.5081" stop-color="#c8c8d2"/><stop offset="0.5103" stop-color="#7777ff"/><stop offset="0.5123" stop-color="#9696ff"/><stop offset="0.5138" stop-color="#dfdfd5"/><stop offset="0.5158" stop-color="#c4c4f9"/><stop offset="0.5178" stop-color="#fafa73"/><stop offset="0.5203" stop-color="#7373ff"/><stop offset="0.5228" stop-color="#7373ff"/><stop offset="0.5253" stop-color="#c4c4ef"/><stop offset="0.5278" stop-color="#c8c8d3"/><stop offset="0.5295" stop-color="#d0d0d5"/><stop offset="0.5310" stop-color="#bdbded"/><stop offset="0.5325" stop-color="#c1c1da"/><stop offset="0.5345" stop-color="#c0c0e9"/><stop offset="0.5365" stop-color="#e3e3e3"/><stop offset="0.5377" stop-color="#cecee4"/><stop offset="0.5397" stop-color="#bbbbfc"/><stop offset="0.5417" stop-color="#d9d9da"/><stop offset="0.5434" stop-color="#ccccd8"/><stop offset="0.5459" stop-color="#d1d1da"/><stop offset="0.5481" stop-color="#b6b6ef"/><stop offset="0.5504" stop-color="#dcdcdc"/><stop offset="0.5531" stop-color="#8f8fff"/><stop offset="0.5561" stop-color="#bcbcea"/><stop offset="0.5591" stop-color="#cecee0"/><stop offset="0.5616" stop-color="#c9c9dc"/><stop offset="0.5631" stop-color="#cdcde4"/><stop offset="0.5646" stop-color="#c3c3f3"/><stop offset="0.5661" stop-color="#a5a5fe"/><stop offset="0.5678" stop-color="#a4a4ff"/><stop offset="0.5700" stop-color="#b4b4eb"/><stop offset="0.5715" stop-color="#cdcdec"/><stop offset="0.5725" stop-color="#c8c8da"/><stop offset="0.5740" stop-color="#d5d5e2"/><stop offset="0.5760" stop-color="#cdcde5"/><stop offset="0.5785" stop-color="#c4c4e3"/><stop offset="0.5805" stop-color="#c5c5f3"/><stop offset="0.5825" stop-color="#c1c1e8"/><stop offset="0.5855" stop-color="#babaf6"/><stop offset="0.5879" stop-color="#cccce1"/><stop offset="0.5902" stop-color="#c9c9ef"/><stop offset="0.5927" stop-color="#bdbdf4"/><stop offset="0.5949" stop-color="#c3c3ec"/><stop offset="0.5969" stop-color="#ababf1"/><stop offset="0.5986" stop-color="#dcdce1"/><stop offset="0.6006" stop-color="#d4d4e9"/><stop offset="0.6026" stop-color="#babaff"/><stop offset="0.6039" stop-color="#cbcbee"/><stop offset="0.6054" stop-color="#b6b6f1"/><stop offset="0.6071" stop-color="#c5c5ef"/><stop offset="0.6091" stop-color="#c2c2ff"/><stop offset="0.6113" stop-color="#c4c4ff"/><stop offset="0.6128" stop-color="#d4d4e7"/><stop offset="0.6146" stop-color="#c0c0df"/><stop offset="0.6165" stop-color="#c7c7db"/><stop offset="0.6178" stop-color="#dddddf"/><stop offset="0.6195" stop-color="#cacae8"/><stop offset="0.6220" stop-color="#c0c0f4"/><stop offset="0.6243" stop-color="#b6b6ff"/><stop offset="0.6262" stop-color="#c0c0ff"/><stop offset="0.6282" stop-color="#cfcfdd"/><stop offset="0.6302" stop-color="#c0c0e3"/><stop offset="0.6327" stop-color="#c1c1e9"/><stop offset="0.6347" stop-color="#d4d4d5"/><stop offset="0.6359" stop-color="#b1b1e6"/><stop offset="0.6374" stop-color="#bebede"/><stop offset="0.6387" stop-color="#c1c1e6"/><stop offset="0.6402" stop-color="#bebeed"/><stop offset="0.6417" stop-color="#bcbcf7"/><stop offset="0.6434" stop-color="#bcbcdd"/><stop offset="0.6456" stop-color="#cdcde2"/><stop offset="0.6471" stop-color="#bfbff9"/><stop offset="0.6491" stop-color="#c1c1df"/><stop offset="0.6514" stop-color="#bebee9"/><stop offset="0.6526" stop-color="#babaf0"/><stop offset="0.6538" stop-color="#c7c7ed"/><stop offset="0.6556" stop-color="#cecef7"/><stop offset="0.6571" stop-color="#e2e2c8"/><stop offset="0.6583" stop-color="#bbbbf5"/><stop offset="0.6596" stop-color="#c8c8e3"/><stop offset="0.6606" stop-color="#cbcbec"/><stop offset="0.6616" stop-color="#cccce8"/><stop offset="0.6635" stop-color="#dadad3"/><stop offset="0.6665" stop-color="#e2e2db"/><stop offset="0.6690" stop-color="#babaf2"/><stop offset="0.6705" stop-color="#c9c9e6"/><stop offset="0.6723" stop-color="#ccccf0"/><stop offset="0.6747" stop-color="#c1c1e9"/><stop offset="0.6772" stop-color="#d2d2d6"/><stop offset="0.6790" stop-color="#bdbdee"/><stop offset="0.6800" stop-color="#cacae9"/><stop offset="0.6820" stop-color="#b0b0fa"/><stop offset="0.6842" stop-color="#bebee4"/><stop offset="0.6854" stop-color="#bdbdf1"/><stop offset="0.6874" stop-color="#acacff"/><stop offset="0.6904" stop-color="#c7c7f1"/><stop offset="0.6934" stop-color="#c0c0de"/><stop offset="0.6956" stop-color="#c2c2f4"/><stop offset="0.6971" stop-color="#c4c4df"/><stop offset="0.6986" stop-color="#adadff"/><stop offset="0.6999" stop-color="#b4b4e0"/><stop offset="0.7009" stop-color="#c1c1e9"/><stop offset="0.7021" stop-color="#c0c0ed"/><stop offset="0.7041" stop-color="#9797ff"/><stop offset="0.7058" stop-color="#bdbddd"/><stop offset="0.7073" stop-color="#c6c6d9"/><stop offset="0.7088" stop-color="#bfbfea"/><stop offset="0.7098" stop-color="#afaffb"/><stop offset="0.7108" stop-color="#c0c0f8"/><stop offset="0.7128" stop-color="#bcbced"/><stop offset="0.7148" stop-color="#bcbce2"/><stop offset="0.7160" stop-color="#c2c2dd"/><stop offset="0.7180" stop-color="#cbcbe0"/><stop offset="0.7203" stop-color="#bcbcf1"/><stop offset="0.7217" stop-color="#c1c1e4"/><stop offset="0.7232" stop-color="#bfbfdf"/><stop offset="0.7250" stop-color="#c0c0e9"/><stop offset="0.7265" stop-color="#b1b1f9"/><stop offset="0.7280" stop-color="#cecee3"/><stop offset="0.7292" stop-color="#a3a3ff"/><stop offset="0.7309" stop-color="#bebeee"/><stop offset="0.7332" stop-color="#aaaaf9"/><stop offset="0.7352" stop-color="#bdbded"/><stop offset="0.7369" stop-color="#9a9aff"/><stop offset="0.7392" stop-color="#c6c6f6"/><stop offset="0.7416" stop-color="#b5b5eb"/><stop offset="0.7431" stop-color="#aeaeef"/><stop offset="0.7446" stop-color="#cbcbdd"/><stop offset="0.7466" stop-color="#c3c3f1"/><stop offset="0.7486" stop-color="#b0b0f4"/><stop offset="0.7501" stop-color="#c0c0e9"/><stop offset="0.7513" stop-color="#c5c5e7"/><stop offset="0.7526" stop-color="#b8b8f5"/><stop offset="0.7536" stop-color="#bcbcf6"/><stop offset="0.7548" stop-color="#b3b3fd"/><stop offset="0.7566" stop-color="#bdbdf2"/><stop offset="0.7581" stop-color="#c3c3d9"/><stop offset="0.7593" stop-color="#b7b7fc"/><stop offset="0.7610" stop-color="#c2c2dd"/><stop offset="0.7625" stop-color="#b3b3f0"/><stop offset="0.7645" stop-color="#b6b6fb"/><stop offset="0.7675" stop-color="#b7b7eb"/><stop offset="0.7702" stop-color="#b8b8f4"/><stop offset="0.7720" stop-color="#c2c2ed"/><stop offset="0.7732" stop-color="#c7c7dc"/><stop offset="0.7747" stop-color="#c3c3f2"/><stop offset="0.7760" stop-color="#bbbbef"/><stop offset="0.7775" stop-color="#b6b6f5"/><stop offset="0.7789" stop-color="#babaef"/><stop offset="0.7799" stop-color="#b2b2f7"/><stop offset="0.7809" stop-color="#a8a8e6"/><stop offset="0.7824" stop-color="#a6a6f3"/><stop offset="0.7844" stop-color="#b0b0f1"/><stop offset="0.7862" stop-color="#bcbced"/><stop offset="0.7874" stop-color="#b3b3eb"/><stop offset="0.7891" stop-color="#bdbdef"/><stop offset="0.7914" stop-color="#b9b9ef"/><stop offset="0.7934" stop-color="#b4b4ef"/><stop offset="0.7949" stop-color="#babae3"/><stop offset="0.7966" stop-color="#b9b9e4"/><stop offset="0.7986" stop-color="#b1b1f2"/><stop offset="0.8003" stop-color="#a9a9f3"/><stop offset="0.8018" stop-color="#b9b9e9"/><stop offset="0.8036" stop-color="#bdbdd8"/><stop offset="0.8056" stop-color="#aaaafc"/><stop offset="0.8068" stop-color="#b8b8e8"/><stop offset="0.8088" stop-color="#b7b7f2"/><stop offset="0.8113" stop-color="#b7b7e8"/><stop offset="0.8128" stop-color="#bcbcd4"/><stop offset="0.8140" stop-color="#a7a7fe"/><stop offset="0.8153" stop-color="#8282ff"/><stop offset="0.8165" stop-color="#b2b2f6"/><stop offset="0.8182" stop-color="#bcbcfc"/><stop offset="0.8200" stop-color="#b3b3f3"/><stop offset="0.8212" stop-color="#9f9fff"/><stop offset="0.8225" stop-color="#babaf1"/><stop offset="0.8240" stop-color="#bcbceb"/><stop offset="0.8252" stop-color="#a7a7f3"/><stop offset="0.8267" stop-color="#9999ff"/><stop offset="0.8284" stop-color="#b0b0f8"/><stop offset="0.8299" stop-color="#a3a3ef"/><stop offset="0.8317" stop-color="#b6b6ec"/><stop offset="0.8332" stop-color="#a5a5ff"/><stop offset="0.8342" stop-color="#b2b2e1"/><stop offset="0.8362" stop-color="#a6a6ff"/><stop offset="0.8384" stop-color="#acacfa"/><stop offset="0.8399" stop-color="#b5b5ed"/><stop offset="0.8411" stop-color="#b0b0e9"/><stop offset="0.8431" stop-color="#b6b6f4"/><stop offset="0.8454" stop-color="#c8c8ee"/><stop offset="0.8473" stop-color="#b4b4e8"/><stop offset="0.8491" stop-color="#b3b3f1"/><stop offset="0.8503" stop-color="#b9b9f0"/><stop offset="0.8521" stop-color="#babaf5"/><stop offset="0.8536" stop-color="#a3a3fa"/><stop offset="0.8551" stop-color="#c8c8e9"/><stop offset="0.8565" stop-color="#ababfa"/><stop offset="0.8580" stop-color="#adadfc"/><stop offset="0.8600" stop-color="#aeaef6"/><stop offset="0.8625" stop-color="#ababed"/><stop offset="0.8655" stop-color="#9f9ffe"/><stop offset="0.8677" stop-color="#a4a4f9"/><stop offset="0.8697" stop-color="#b8b8d9"/><stop offset="0.8722" stop-color="#c0c0e4"/><stop offset="0.8745" stop-color="#a0a0f6"/><stop offset="0.8762" stop-color="#a5a5ff"/><stop offset="0.8777" stop-color="#b8b8ef"/><stop offset="0.8799" stop-color="#9a9aff"/><stop offset="0.8824" stop-color="#9b9bf4"/><stop offset="0.8849" stop-color="#adadff"/><stop offset="0.8876" stop-color="#9292f9"/><stop offset="0.8896" stop-color="#a5a5ff"/><stop offset="0.8911" stop-color="#9797f7"/><stop offset="0.8926" stop-color="#b4b4f5"/><stop offset="0.8939" stop-color="#a8a8f3"/><stop offset="0.8953" stop-color="#b5b5e4"/><stop offset="0.8968" stop-color="#a8a8f5"/><stop offset="0.8983" stop-color="#b9b9ee"/><stop offset="0.8998" stop-color="#aeaede"/><stop offset="0.9011" stop-color="#a4a4f7"/><stop offset="0.9028" stop-color="#9c9cf9"/><stop offset="0.9043" stop-color="#afaff0"/><stop offset="0.9053" stop-color="#a2a2ff"/><stop offset="0.9068" stop-color="#9d9df4"/><stop offset="0.9083" stop-color="#b0b0fe"/><stop offset="0.9098" stop-color="#a9a9f9"/><stop offset="0.9123" stop-color="#ababe8"/><stop offset="0.9152" stop-color="#b3b3f8"/><stop offset="0.9172" stop-color="#aeaef6"/><stop offset="0.9182" stop-color="#a3a3eb"/><stop offset="0.9202" stop-color="#a1a1f0"/><stop offset="0.9227" stop-color="#a5a5f6"/><stop offset="0.9244" stop-color="#9f9ffb"/><stop offset="0.9267" stop-color="#9999ff"/><stop offset="0.9292" stop-color="#b5b5e4"/><stop offset="0.9307" stop-color="#9d9dea"/><stop offset="0.9322" stop-color="#9898f9"/><stop offset="0.9341" stop-color="#a4a4f2"/><stop offset="0.9359" stop-color="#a1a1ea"/><stop offset="0.9371" stop-color="#a1a1f2"/><stop offset="0.9386" stop-color="#a4a4fe"/><stop offset="0.9401" stop-color="#a3a3f2"/><stop offset="0.9421" stop-color="#ababe5"/><stop offset="0.9451" stop-color="#9898f4"/><stop offset="0.9476" stop-color="#9393ff"/><stop offset="0.9496" stop-color="#9f9ffa"/><stop offset="0.9516" stop-color="#a3a3e4"/><stop offset="0.9533" stop-color="#a8a8e8"/><stop offset="0.9545" stop-color="#acacf5"/><stop offset="0.9555" stop-color="#a1a1e8"/><stop offset="0.9565" stop-color="#aeaee3"/><stop offset="0.9575" stop-color="#a1a1fc"/><stop offset="0.9593" stop-color="#9f9ff1"/><stop offset="0.9617" stop-color="#a1a1fd"/><stop offset="0.9645" stop-color="#a2a2f3"/><stop offset="0.9672" stop-color="#8585ff"/><stop offset="0.9695" stop-color="#a3a3fb"/><stop offset="0.9712" stop-color="#a7a7ff"/><stop offset="0.9729" stop-color="#9f9ff7"/><stop offset="0.9747" stop-color="#a8a8ed"/><stop offset="0.9764" stop-color="#9d9dff"/><stop offset="0.9779" stop-color="#c3c3da"/><stop offset="0.9789" stop-color="#a4a4f2"/><stop offset="0.9804" stop-color="#a3a3f2"/><stop offset="0.9826" stop-color="#9797f8"/><stop offset="0.9851" stop-color="#a4a4ff"/><stop offset="0.9871" stop-color="#a6a6f9"/><stop offset="0.9886" stop-color="#a4a4ff"/><stop offset="0.9904" stop-color="#8a8afb"/><stop offset="0.9923" stop-color="#9a9afa"/><stop offset="0.9941" stop-color="#ababf7"/><stop offset="0.9953" stop-color="#a7a7fd"/><stop offset="0.9968" stop-color="#9090fe"/><stop offset="0.9986" stop-color="#9d9dfd"/><stop offset="0.9998" stop-color="#9797f7"/></linearGradient><linearGradient id="h2" x1="0" x2="1" y1="0" y2="0"><stop offset="0.0007" stop-color="#efef81"/><stop offset="0.0020" stop-color="#f7f780"/><stop offset="0.0040" stop-color="#ffff80"/><stop offset="0.0070" stop-color="#f3f380"/><stop offset="0.0095" stop-color="#f8f884"/><stop offset="0.0109" stop-color="#f2f287"/><stop offset="0.0122" stop-color="#f7f780"/><stop offset="0.0134" stop-color="#fafa8b"/><stop offset="0.0152" stop-color="#fdfd80"/><stop offset="0.0172" stop-color="#efef8e"/><stop offset="0.0189" stop-color="#fefe80"/><stop offset="0.0204" stop-color="#f2f280"/><stop offset="0.0221" stop-color="#f9f980"/><stop offset="0.0246" stop-color="#f7f780"/><stop offset="0.0266" stop-color="#d2d2a8"/><stop offset="0.0286" stop-color="#ffff80"/><stop offset="0.0306" stop-color="#ffff80"/><stop offset="0.0318" stop-color="#ffff80"/><stop offset="0.0331" stop-color="#ebeb91"/><stop offset="0.0346" stop-color="#ebeb93"/><stop offset="0.0361" stop-color="#dddd96"/><stop offset="0.0378" stop-color="#f8f889"/><stop offset="0.0403" stop-color="#ffff80"/><stop offset="0.0425" stop-color="#fdfd87"/><stop offset="0.0440" stop-color="#f6f680"/><stop offset="0.0453" stop-color="#ffff8a"/><stop offset="0.0468" stop-color="#ffff83"/><stop offset="0.0492" stop-color="#ffff80"/><stop offset="0.0512" stop-color="#ffff80"/><stop offset="0.0527" stop-color="#eeee8c"/><stop offset="0.0547" stop-color="#ebeb89"/><stop offset="0.0565" stop-color="#f8f880"/><stop offset="0.0582" stop-color="#efef81"/><stop offset="0.0599" stop-color="#f7f780"/><stop offset="0.0614" stop-color="#e9e98b"/><stop offset="0.0637" stop-color="#f3f38a"/><stop offset="0.0667" stop-color="#f7f78a"/><stop offset="0.0686" stop-color="#f1f185"/><stop offset="0.0696" stop-color="#f0f086"/><stop offset="0.0714" stop-color="#f9f98f"/><stop offset="0.0731" stop-color="#ffff80"/><stop offset="0.0749" stop-color="#ffff80"/><stop offset="0.0766" stop-color="#fdfd83"/><stop offset="0.0783" stop-color="#ffff89"/><stop offset="0.0806" stop-color="#fdfd88"/><stop offset="0.0823" stop-color="#f5f585"/><stop offset="0.0836" stop-color="#f5f596"/><stop offset="0.0851" stop-color="#e7e788"/><stop offset="0.0870" stop-color="#f8f890"/><stop offset="0.0893" stop-color="#f6f692"/><stop offset="0.0910" stop-color="#f0f088"/><stop offset="0.0920" stop-color="#f3f384"/><stop offset="0.0933" stop-color="#ffff82"/><stop offset="0.0948" stop-color="#ffff80"/><stop offset="0.0962" stop-color="#f4f481"/><stop offset="0.0975" stop-color="#ffff80"/><stop offset="0.0985" stop-color="#fcfc8a"/><stop offset="0.0995" stop-color="#ffff91"/><stop offset="0.1005" stop-color="#f6f696"/><stop offset="0.1017" stop-color="#fafa87"/><stop offset="0.1030" stop-color="#fdfd81"/><stop offset="0.1042" stop-color="#f9f983"/><stop offset="0.1059" stop-color="#fbfb9d"/><stop offset="0.1082" stop-color="#f0f087"/><stop offset="0.1109" stop-color="#ffff80"/><stop offset="0.1132" stop-color="#f6f680"/><stop offset="0.1144" stop-color="#ecec90"/><stop offset="0.1164" stop-color="#ffff80"/><stop offset="0.1189" stop-color="#f8f893"/><stop offset="0.1204" stop-color="#ffff83"/><stop offset="0.1216" stop-color="#f9f98e"/><stop offset="0.1229" stop-color="#ffff8a"/><stop offset="0.1241" stop-color="#f1f198"/><stop offset="0.1263" stop-color="#ffff80"/><stop offset="0.1288" stop-color="#fdfd89"/><stop offset="0.1306" stop-color="#ffff8e"/><stop offset="0.1323" stop-color="#ebeb88"/><stop offset="0.1343" stop-color="#f7f780"/><stop offset="0.1363" stop-color="#ffff81"/><stop offset="0.1378" stop-color="#f8f880"/><stop offset="0.1393" stop-color="#f4f495"/><stop offset="0.1408" stop-color="#f6f690"/><stop offset="0.1418" stop-color="#f5f595"/><stop offset="0.1433" stop-color="#fcfc82"/><stop offset="0.1447" stop-color="#ecec97"/><stop offset="0.1462" stop-color="#f1f188"/><stop offset="0.1485" stop-color="#ffff92"/><stop offset="0.1507" stop-color="#e6e698"/><stop offset="0.1532" stop-color="#fafa8b"/><stop offset="0.1557" stop-color="#ffff80"/><stop offset="0.1574" stop-color="#e6e68e"/><stop offset="0.1592" stop-color="#f8f88e"/><stop offset="0.1607" stop-color="#fdfd80"/><stop offset="0.1619" stop-color="#eded95"/><stop offset="0.1636" stop-color="#e2e28e"/><stop offset="0.1654" stop-color="#f5f59d"/><stop offset="0.1671" stop-color="#f1f18f"/><stop offset="0.1696" stop-color="#fcfc8f"/><stop offset="0.1716" stop-color="#eeee82"/><stop offset="0.1726" stop-color="#f3f39b"/><stop offset="0.1746" stop-color="#f2f289"/><stop offset="0.1771" stop-color="#f7f79e"/><stop offset="0.1796" stop-color="#eaea9a"/><stop offset="0.1821" stop-color="#f4f484"/><stop offset="0.1843" stop-color="#ffff86"/><stop offset="0.1870" stop-color="#eded98"/><stop offset="0.1900" stop-color="#fbfb98"/><stop offset="0.1920" stop-color="#dcdc97"/><stop offset="0.1932" stop-color="#eded9a"/><stop offset="0.1947" stop-color="#f1f193"/><stop offset="0.1960" stop-color="#fefe8c"/><stop offset="0.1975" stop-color="#dedea5"/><stop offset="0.1992" stop-color="#e6e696"/><stop offset="0.2007" stop-color="#f7f79d"/><stop offset="0.2022" stop-color="#eeee9b"/><stop offset="0.2034" stop-color="#f7f798"/><stop offset="0.2049" stop-color="#ffff80"/><stop offset="0.2064" stop-color="#e2e28a"/><stop offset="0.2079" stop-color="#fefe80"/><stop offset="0.2097" stop-color="#f8f88f"/><stop offset="0.2112" stop-color="#fbfb80"/><stop offset="0.2129" stop-color="#f2f29e"/><stop offset="0.2144" stop-color="#fdfd83"/><stop offset="0.2154" stop-color="#ffff94"/><stop offset="0.2171" stop-color="#e3e399"/><stop offset="0.2189" stop-color="#fefe8b"/><stop offset="0.2201" stop-color="#e8e899"/><stop offset="0.2218" stop-color="#eeee95"/><stop offset="0.2236" stop-color="#f8f885"/><stop offset="0.2253" stop-color="#e5e5a4"/><stop offset="0.2276" stop-color="#e0e0a5"/><stop offset="0.2296" stop-color="#e9e99d"/><stop offset="0.2310" stop-color="#fafa95"/><stop offset="0.2333" stop-color="#ebeba4"/><stop offset="0.2353" stop-color="#ebeb8f"/><stop offset="0.2373" stop-color="#f7f793"/><stop offset="0.2395" stop-color="#eeee94"/><stop offset="0.2407" stop-color="#ecec9a"/><stop offset="0.2417" stop-color="#dadab1"/><stop offset="0.2430" stop-color="#efef91"/><stop offset="0.2442" stop-color="#f2f2a3"/><stop offset="0.2452" stop-color="#d2d2b7"/><stop offset="0.2465" stop-color="#fefe9c"/><stop offset="0.2477" stop-color="#ebeb9b"/><stop offset="0.2490" stop-color="#e9e9a1"/><stop offset="0.2509" stop-color="#e8e897"/><stop offset="0.2537" stop-color="#f5f595"/><stop offset="0.2559" stop-color="#e1e1a3"/><stop offset="0.2577" stop-color="#e7e79d"/><stop offset="0.2594" stop-color="#f7f792"/><stop offset="0.2606" stop-color="#eeee99"/><stop offset="0.2621" stop-color="#f3f39a"/><stop offset="0.2646" stop-color="#ebeb9b"/><stop offset="0.2676" stop-color="#dcdc99"/><stop offset="0.2706" stop-color="#eeee9b"/><stop offset="0.2726" stop-color="#efefaa"/><stop offset="0.2736" stop-color="#fafaa4"/><stop offset="0.2751" stop-color="#e9e99c"/><stop offset="0.2771" stop-color="#dddda3"/><stop offset="0.2790" stop-color="#eded96"/><stop offset="0.2808" stop-color="#f5f58e"/><stop offset="0.2823" stop-color="#ebeba9"/><stop offset="0.2843" stop-color="#f0f099"/><stop offset="0.2865" stop-color="#f1f198"/><stop offset="0.2890" stop-color="#fbfb95"/><stop offset="0.2912" stop-color="#e5e5a3"/><stop offset="0.2927" stop-color="#dddda8"/><stop offset="0.2942" stop-color="#e4e4b5"/><stop offset="0.2955" stop-color="#d8d8ae"/><stop offset="0.2970" stop-color="#dede9f"/><stop offset="0.2989" stop-color="#e2e2ad"/><stop offset="0.3012" stop-color="#e2e2af"/><stop offset="0.3029" stop-color="#f4f4a6"/><stop offset="0.3042" stop-color="#f0f0b3"/><stop offset="0.3064" stop-color="#d6d6ac"/><stop offset="0.3086" stop-color="#ffffa2"/><stop offset="0.3104" stop-color="#e3e3b9"/><stop offset="0.3119" stop-color="#dedeaa"/><stop offset="0.3134" stop-color="#efefa9"/><stop offset="0.3149" stop-color="#ededb4"/><stop offset="0.3159" stop-color="#dfdfac"/><stop offset="0.3171" stop-color="#ffff9d"/><stop offset="0.3193" stop-color="#e3e3a8"/><stop offset="0.3216" stop-color="#eaeab1"/><stop offset="0.3231" stop-color="#d3d3ac"/><stop offset="0.3251" stop-color="#e0e0af"/><stop offset="0.3268" stop-color="#ebeba1"/><stop offset="0.3283" stop-color="#f3f3a0"/><stop offset="0.3298" stop-color="#e9e9ae"/><stop offset="0.3310" stop-color="#e6e6b9"/><stop offset="0.3323" stop-color="#dcdcbd"/><stop offset="0.3333" stop-color="#e4e49b"/><stop offset="0.3345" stop-color="#d0d0bf"/><stop offset="0.3358" stop-color="#efefa1"/><stop offset="0.3367" stop-color="#e0e0b3"/><stop offset="0.3382" stop-color="#f0f0a4"/><stop offset="0.3405" stop-color="#dddda2"/><stop offset="0.3425" stop-color="#e2e2b0"/><stop offset="0.3442" stop-color="#dadaa8"/><stop offset="0.3457" stop-color="#efefa2"/><stop offset="0.3469" stop-color="#f3f3b4"/><stop offset="0.3489" stop-color="#ebeb94"/><stop offset="0.3517" stop-color="#ffff9b"/><stop offset="0.3539" stop-color="#e4e4b4"/><stop offset="0.3554" stop-color="#d7d7b6"/><stop offset="0.3571" stop-color="#f0f0a9"/><stop offset="0.3589" stop-color="#ececa1"/><stop offset="0.3606" stop-color="#ececaf"/><stop offset="0.3626" stop-color="#f3f3ae"/><stop offset="0.3646" stop-color="#e0e0b2"/><stop offset="0.3666" stop-color="#eeeeb0"/><stop offset="0.3686" stop-color="#e9e9a1"/><stop offset="0.3703" stop-color="#bfbfca"/><stop offset="0.3723" stop-color="#ffff80"/><stop offset="0.3750" stop-color="#d8d8b9"/><stop offset="0.3780" stop-color="#e7e79d"/><stop offset="0.3800" stop-color="#eaeaac"/><stop offset="0.3818" stop-color="#dfdfc3"/><stop offset="0.3838" stop-color="#dcdcbc"/><stop offset="0.3852" stop-color="#d8d8b1"/><stop offset="0.3867" stop-color="#dadacf"/><stop offset="0.3882" stop-color="#e3e3c5"/><stop offset="0.3900" stop-color="#d0d0ba"/><stop offset="0.3917" stop-color="#dadace"/><stop offset="0.3932" stop-color="#e4e4bf"/><stop offset="0.3947" stop-color="#f0f0b6"/><stop offset="0.3959" stop-color="#cacad7"/><stop offset="0.3972" stop-color="#cfcfb6"/><stop offset="0.3984" stop-color="#ffff8e"/><stop offset="0.4004" stop-color="#b4b4e9"/><stop offset="0.4029" stop-color="#d3d3ca"/><stop offset="0.4044" stop-color="#ffff98"/><stop offset="0.4059" stop-color="#d4d4cd"/><stop offset="0.4074" stop-color="#ffff88"/><stop offset="0.4089" stop-color="#d6d6c4"/><stop offset="0.4109" stop-color="#d8d8be"/><stop offset="0.4134" stop-color="#b1b1f7"/><stop offset="0.4163" stop-color="#a6a6e7"/><stop offset="0.4186" stop-color="#c3c3c8"/><stop offset="0.4201" stop-color="#e6e6ae"/><stop offset="0.4213" stop-color="#dadaa8"/><stop offset="0.4228" stop-color="#cccccf"/><stop offset="0.4248" stop-color="#bfbfd8"/><stop offset="0.4270" stop-color="#f2f29b"/><stop offset="0.4290" stop-color="#a1a1f8"/><stop offset="0.4305" stop-color="#c3c3df"/><stop offset="0.4318" stop-color="#c9c9c9"/><stop offset="0.4332" stop-color="#a5a5ee"/><stop offset="0.4355" stop-color="#f8f8b8"/><stop offset="0.4375" stop-color="#9797ff"/><stop offset="0.4390" stop-color="#cacad9"/><stop offset="0.4402" stop-color="#e4e4c7"/><stop offset="0.4420" stop-color="#f7f7b4"/><stop offset="0.4437" stop-color="#d9d9bf"/><stop offset="0.4452" stop-color="#d2d2b7"/><stop offset="0.4469" stop-color="#fdfd97"/><stop offset="0.4484" stop-color="#9696ff"/><stop offset="0.4507" stop-color="#d0d0cf"/><stop offset="0.4529" stop-color="#6b6bff"/><stop offset="0.4541" stop-color="#b0b0ef"/><stop offset="0.4556" stop-color="#aaaafd"/><stop offset="0.4574" stop-color="#b6b6ee"/><stop offset="0.4586" stop-color="#e0e0be"/><stop offset="0.4601" stop-color="#8585ff"/><stop offset="0.4616" stop-color="#cecec9"/><stop offset="0.4626" stop-color="#d7d7c0"/><stop offset="0.4638" stop-color="#dedecf"/><stop offset="0.4653" stop-color="#d5d5cb"/><stop offset="0.4676" stop-color="#babaf4"/><stop offset="0.4698" stop-color="#afafe7"/><stop offset="0.4718" stop-color="#c7c7cc"/><stop offset="0.4745" stop-color="#b5b5f4"/><stop offset="0.4775" stop-color="#b0b0da"/><stop offset="0.4803" stop-color="#8080ff"/><stop offset="0.4822" stop-color="#ededb0"/><stop offset="0.4840" stop-color="#ffffa3"/><stop offset="0.4857" stop-color="#ddddca"/><stop offset="0.4875" stop-color="#8e8eff"/><stop offset="0.4892" stop-color="#a7a7ff"/><stop offset="0.4904" stop-color="#9393ff"/><stop offset="0.4917" stop-color="#b5b5e4"/><stop offset="0.4934" stop-color="#dadac1"/><stop offset="0.4952" stop-color="#e3e3b0"/><stop offset="0.4969" stop-color="#f2f2a8"/><stop offset="0.4987" stop-color="#9d9dff"/><stop offset="0.4999" stop-color="#d5d5c0"/><stop offset="0.5019" stop-color="#a1a1f5"/><stop offset="0.5041" stop-color="#a3a3ed"/><stop offset="0.5061" stop-color="#9191ff"/><stop offset="0.5079" stop-color="#b2b2f2"/><stop offset="0.5091" stop-color="#8181ff"/><stop offset="0.5106" stop-color="#afaff3"/><stop offset="0.5123" stop-color="#cfcfd4"/><stop offset="0.5146" stop-color="#dadabe"/><stop offset="0.5168" stop-color="#9999f7"/><stop offset="0.5183" stop-color="#9999f7"/><stop offset="0.5193" stop-color="#c7c7d9"/><stop offset="0.5203" stop-color="#c7c7d9"/><stop offset="0.5213" stop-color="#c7c7d9"/><stop offset="0.5223" stop-color="#c7c7d9"/><stop offset="0.5238" stop-color="#9999f7"/><stop offset="0.5253" stop-color="#9999f7"/><stop offset="0.5263" stop-color="#bebee9"/><stop offset="0.5275" stop-color="#afaffe"/><stop offset="0.5297" stop-color="#cacace"/><stop offset="0.5322" stop-color="#adadfd"/><stop offset="0.5337" stop-color="#c1c1f0"/><stop offset="0.5347" stop-color="#a8a8ed"/><stop offset="0.5362" stop-color="#adadf3"/><stop offset="0.5382" stop-color="#b1b1fe"/><stop offset="0.5404" stop-color="#c0c0ea"/><stop offset="0.5424" stop-color="#babae3"/><stop offset="0.5437" stop-color="#c3c3da"/><stop offset="0.5452" stop-color="#b9b9ff"/><stop offset="0.5469" stop-color="#b9b9f3"/><stop offset="0.5481" stop-color="#b6b6e4"/><stop offset="0.5499" stop-color="#bcbce9"/><stop offset="0.5524" stop-color="#b8b8f5"/><stop offset="0.5546" stop-color="#a9a9f6"/><stop offset="0.5564" stop-color="#b1b1f2"/><stop offset="0.5581" stop-color="#c2c2e5"/><stop offset="0.5598" stop-color="#b7b7f3"/><stop offset="0.5613" stop-color="#cacaef"/><stop offset="0.5636" stop-color="#aeaef7"/><stop offset="0.5658" stop-color="#c5c5ee"/><stop offset="0.5673" stop-color="#c4c4eb"/><stop offset="0.5685" stop-color="#b2b2f5"/><stop offset="0.5700" stop-color="#bfbfe9"/><stop offset="0.5718" stop-color="#b5b5f0"/><stop offset="0.5738" stop-color="#acacf8"/><stop offset="0.5755" stop-color="#c3c3d6"/><stop offset="0.5768" stop-color="#bbbbeb"/><stop offset="0.5780" stop-color="#b3b3eb"/><stop offset="0.5795" stop-color="#b5b5f2"/><stop offset="0.5810" stop-color="#b3b3fd"/><stop offset="0.5830" stop-color="#a7a7ff"/><stop offset="0.5860" stop-color="#b1b1ec"/><stop offset="0.5884" stop-color="#a8a8ff"/><stop offset="0.5904" stop-color="#bfbfe3"/><stop offset="0.5919" stop-color="#a8a8f0"/><stop offset="0.5934" stop-color="#b2b2ff"/><stop offset="0.5959" stop-color="#ababf8"/><stop offset="0.5979" stop-color="#b7b7f5"/><stop offset="0.5991" stop-color="#b5b5eb"/><stop offset="0.6006" stop-color="#dadad7"/><stop offset="0.6019" stop-color="#b5b5f6"/><stop offset="0.6031" stop-color="#d1d1d4"/><stop offset="0.6044" stop-color="#a1a1fa"/><stop offset="0.6061" stop-color="#b3b3eb"/><stop offset="0.6086" stop-color="#a9a9f6"/><stop offset="0.6111" stop-color="#8f8fff"/><stop offset="0.6136" stop-color="#c2c2ed"/><stop offset="0.6158" stop-color="#c2c2ef"/><stop offset="0.6173" stop-color="#c5c5e5"/><stop offset="0.6183" stop-color="#aaaafb"/><stop offset="0.6193" stop-color="#b1b1f2"/><stop offset="0.6203" stop-color="#bbbbe2"/><stop offset="0.6218" stop-color="#c5c5da"/><stop offset="0.6238" stop-color="#b6b6f0"/><stop offset="0.6255" stop-color="#ababf1"/><stop offset="0.6267" stop-color="#aaaaf0"/><stop offset="0.6285" stop-color="#c4c4e9"/><stop offset="0.6302" stop-color="#a0a0fd"/><stop offset="0.6315" stop-color="#b2b2fb"/><stop offset="0.6327" stop-color="#d9d9e4"/><stop offset="0.6337" stop-color="#babaf3"/><stop offset="0.6349" stop-color="#bbbbf1"/><stop offset="0.6364" stop-color="#bdbdf8"/><stop offset="0.6382" stop-color="#b4b4f5"/><stop offset="0.6397" stop-color="#b0b0e9"/><stop offset="0.6412" stop-color="#b7b7e5"/><stop offset="0.6432" stop-color="#b8b8ee"/><stop offset="0.6456" stop-color="#b9b9ea"/><stop offset="0.6476" stop-color="#a8a8f5"/><stop offset="0.6486" stop-color="#b2b2f0"/><stop offset="0.6501" stop-color="#b3b3f3"/><stop offset="0.6526" stop-color="#b0b0f5"/><stop offset="0.6546" stop-color="#aeaedf"/><stop offset="0.6558" stop-color="#b9b9ee"/><stop offset="0.6576" stop-color="#bdbdde"/><stop offset="0.6596" stop-color="#babaeb"/><stop offset="0.6618" stop-color="#b6b6ff"/><stop offset="0.6640" stop-color="#c0c0f2"/><stop offset="0.6660" stop-color="#bdbded"/><stop offset="0.6675" stop-color="#c4c4d8"/><stop offset="0.6690" stop-color="#c5c5e7"/><stop offset="0.6708" stop-color="#b0b0f3"/><stop offset="0.6723" stop-color="#b4b4ec"/><stop offset="0.6735" stop-color="#bebeeb"/><stop offset="0.6755" stop-color="#b1b1ff"/><stop offset="0.6785" stop-color="#b6b6e6"/><stop offset="0.6812" stop-color="#b8b8fc"/><stop offset="0.6832" stop-color="#b6b6ef"/><stop offset="0.6849" stop-color="#b5b5f4"/><stop offset="0.6869" stop-color="#afafdf"/><stop offset="0.6889" stop-color="#9a9af8"/><stop offset="0.6914" stop-color="#b8b8e5"/><stop offset="0.6944" stop-color="#aeaeee"/><stop offset="0.6966" stop-color="#cacad6"/><stop offset="0.6984" stop-color="#aaaaf2"/><stop offset="0.6999" stop-color="#bfbfe8"/><stop offset="0.7011" stop-color="#a7a7ee"/><stop offset="0.7033" stop-color="#aaaaff"/><stop offset="0.7058" stop-color="#a8a8ff"/><stop offset="0.7073" stop-color="#a6a6ec"/><stop offset="0.7086" stop-color="#acacf2"/><stop offset="0.7101" stop-color="#b0b0fd"/><stop offset="0.7115" stop-color="#a8a8f0"/><stop offset="0.7138" stop-color="#ababfa"/><stop offset="0.7158" stop-color="#a9a9f0"/><stop offset="0.7175" stop-color="#acacfd"/><stop offset="0.7195" stop-color="#babae9"/><stop offset="0.7215" stop-color="#a3a3f1"/><stop offset="0.7242" stop-color="#b4b4e6"/><stop offset="0.7262" stop-color="#adadf2"/><stop offset="0.7272" stop-color="#b2b2ef"/><stop offset="0.7292" stop-color="#b5b5ed"/><stop offset="0.7312" stop-color="#aaaaec"/><stop offset="0.7324" stop-color="#bdbde8"/><stop offset="0.7337" stop-color="#ababe9"/><stop offset="0.7347" stop-color="#cececa"/><stop offset="0.7362" stop-color="#8d8df9"/><stop offset="0.7387" stop-color="#a7a7e2"/><stop offset="0.7411" stop-color="#ababf4"/><stop offset="0.7434" stop-color="#aaaaf4"/><stop offset="0.7456" stop-color="#a8a8fd"/><stop offset="0.7471" stop-color="#a1a1fc"/><stop offset="0.7486" stop-color="#b0b0e8"/><stop offset="0.7506" stop-color="#a1a1f1"/><stop offset="0.7526" stop-color="#a2a2e8"/><stop offset="0.7551" stop-color="#9999ff"/><stop offset="0.7578" stop-color="#afafde"/><stop offset="0.7596" stop-color="#9d9dff"/><stop offset="0.7610" stop-color="#9b9bfc"/><stop offset="0.7628" stop-color="#a2a2f5"/><stop offset="0.7643" stop-color="#9595f2"/><stop offset="0.7660" stop-color="#a3a3ff"/><stop offset="0.7685" stop-color="#aeaef6"/><stop offset="0.7710" stop-color="#9999ff"/><stop offset="0.7727" stop-color="#c2c2d4"/><stop offset="0.7742" stop-color="#9f9ff9"/><stop offset="0.7755" stop-color="#9595f6"/><stop offset="0.7770" stop-color="#9c9ced"/><stop offset="0.7794" stop-color="#aaaaee"/><stop offset="0.7819" stop-color="#9494e7"/><stop offset="0.7834" stop-color="#9e9eee"/><stop offset="0.7852" stop-color="#9b9bef"/><stop offset="0.7874" stop-color="#9898ef"/><stop offset="0.7891" stop-color="#9e9ef0"/><stop offset="0.7904" stop-color="#9797fc"/><stop offset="0.7924" stop-color="#9797fb"/><stop offset="0.7944" stop-color="#8b8bf4"/><stop offset="0.7956" stop-color="#9797fa"/><stop offset="0.7974" stop-color="#9d9df8"/><stop offset="0.7991" stop-color="#a9a9e5"/><stop offset="0.8013" stop-color="#9393f4"/><stop offset="0.8036" stop-color="#9e9efa"/><stop offset="0.8058" stop-color="#9b9be7"/><stop offset="0.8083" stop-color="#9292f5"/><stop offset="0.8100" stop-color="#aaaaeb"/><stop offset="0.8115" stop-color="#a1a1f3"/><stop offset="0.8133" stop-color="#8484ff"/><stop offset="0.8155" stop-color="#b8b8c6"/><stop offset="0.8175" stop-color="#9898eb"/><stop offset="0.8197" stop-color="#a5a5fa"/><stop offset="0.8217" stop-color="#9696f4"/><stop offset="0.8232" stop-color="#9696f5"/><stop offset="0.8247" stop-color="#9090f1"/><stop offset="0.8267" stop-color="#8888ff"/><stop offset="0.8287" stop-color="#9898ef"/><stop offset="0.8302" stop-color="#9a9afd"/><stop offset="0.8317" stop-color="#9c9cf2"/><stop offset="0.8327" stop-color="#9898f6"/><stop offset="0.8347" stop-color="#a6a6ec"/><stop offset="0.8366" stop-color="#8c8cfa"/><stop offset="0.8381" stop-color="#9c9cd7"/><stop offset="0.8399" stop-color="#9696f3"/><stop offset="0.8416" stop-color="#9999eb"/><stop offset="0.8431" stop-color="#8888fd"/><stop offset="0.8441" stop-color="#8c8cff"/><stop offset="0.8451" stop-color="#9191f7"/><stop offset="0.8463" stop-color="#9797ea"/><stop offset="0.8478" stop-color="#8080ff"/><stop offset="0.8491" stop-color="#9191ef"/><stop offset="0.8501" stop-color="#a1a1f2"/><stop offset="0.8513" stop-color="#9696f1"/><stop offset="0.8528" stop-color="#b1b1d2"/><stop offset="0.8543" stop-color="#9a9af9"/><stop offset="0.8558" stop-color="#9797e8"/><stop offset="0.8580" stop-color="#9595ee"/><stop offset="0.8605" stop-color="#9999f2"/><stop offset="0.8620" stop-color="#9999e6"/><stop offset="0.8633" stop-color="#a2a2ef"/><stop offset="0.8645" stop-color="#8686ff"/><stop offset="0.8657" stop-color="#8989f4"/><stop offset="0.8672" stop-color="#9090fe"/><stop offset="0.8692" stop-color="#9090f2"/><stop offset="0.8720" stop-color="#a0a0e9"/><stop offset="0.8750" stop-color="#9393f2"/><stop offset="0.8769" stop-color="#9494f3"/><stop offset="0.8789" stop-color="#9292ff"/><stop offset="0.8812" stop-color="#9a9af6"/><stop offset="0.8834" stop-color="#8f8ff9"/><stop offset="0.8859" stop-color="#9696ea"/><stop offset="0.8884" stop-color="#ababec"/><stop offset="0.8906" stop-color="#9b9be6"/><stop offset="0.8929" stop-color="#a2a2fe"/><stop offset="0.8951" stop-color="#9696ea"/><stop offset="0.8966" stop-color="#8585ff"/><stop offset="0.8981" stop-color="#8c8cfa"/><stop offset="0.8993" stop-color="#8181ff"/><stop offset="0.9008" stop-color="#9f9fed"/><stop offset="0.9023" stop-color="#9494ed"/><stop offset="0.9038" stop-color="#9b9bf7"/><stop offset="0.9055" stop-color="#9191f0"/><stop offset="0.9073" stop-color="#8a8af0"/><stop offset="0.9090" stop-color="#8686f2"/><stop offset="0.9105" stop-color="#8c8cff"/><stop offset="0.9123" stop-color="#8f8fe8"/><stop offset="0.9147" stop-color="#9595f3"/><stop offset="0.9167" stop-color="#7c7cff"/><stop offset="0.9182" stop-color="#9292ff"/><stop offset="0.9200" stop-color="#9393e4"/><stop offset="0.9222" stop-color="#8686ff"/><stop offset="0.9247" stop-color="#9d9dec"/><stop offset="0.9269" stop-color="#8b8be4"/><stop offset="0.9287" stop-color="#9999f9"/><stop offset="0.9299" stop-color="#9e9eeb"/><stop offset="0.9312" stop-color="#9191ff"/><stop offset="0.9322" stop-color="#8e8efa"/><stop offset="0.9331" stop-color="#9999fa"/><stop offset="0.9344" stop-color="#8585ff"/><stop offset="0.9366" stop-color="#9e9ee0"/><stop offset="0.9386" stop-color="#8080fc"/><stop offset="0.9401" stop-color="#9292ff"/><stop offset="0.9421" stop-color="#8989f5"/><stop offset="0.9436" stop-color="#9292f0"/><stop offset="0.9453" stop-color="#8888f8"/><stop offset="0.9476" stop-color="#8b8be9"/><stop offset="0.9493" stop-color="#9494f1"/><stop offset="0.9508" stop-color="#8383ff"/><stop offset="0.9530" stop-color="#8d8df1"/><stop offset="0.9555" stop-color="#8f8ff9"/><stop offset="0.9573" stop-color="#8e8ef1"/><stop offset="0.9585" stop-color="#8989fd"/><stop offset="0.9598" stop-color="#8888ff"/><stop offset="0.9620" stop-color="#8c8cf1"/><stop offset="0.9647" stop-color="#8d8df1"/><stop offset="0.9670" stop-color="#8f8ffa"/><stop offset="0.9695" stop-color="#9f9ff7"/><stop offset="0.9714" stop-color="#8484ff"/><stop offset="0.9729" stop-color="#8484f7"/><stop offset="0.9744" stop-color="#8888e7"/><stop offset="0.9759" stop-color="#8888f8"/><stop offset="0.9774" stop-color="#8484fa"/><stop offset="0.9794" stop-color="#7b7bff"/><stop offset="0.9819" stop-color="#8d8dfc"/><stop offset="0.9834" stop-color="#7f7ff9"/><stop offset="0.9849" stop-color="#9292ff"/><stop offset="0.9869" stop-color="#8b8bf6"/><stop offset="0.9884" stop-color="#8c8cff"/><stop offset="0.9894" stop-color="#9393fc"/><stop offset="0.9906" stop-color="#8080fd"/><stop offset="0.9921" stop-color="#8c8cf5"/><stop offset="0.9933" stop-color="#6b6bff"/><stop offset="0.9946" stop-color="#7979fc"/><stop offset="0.9966" stop-color="#7373ff"/><stop offset="0.9988" stop-color="#7e7eff"/><stop offset="1.0003" stop-color="#7979fb"/></linearGradient><linearGradient id="h3" x1="0" x2="1" y1="0" y2="0"><stop offset="0.0015" stop-color="#f9f9a7"/><stop offset="0.0040" stop-color="#f8f8b2"/><stop offset="0.0065" stop-color="#ffff98"/><stop offset="0.0092" stop-color="#dbdbb7"/><stop offset="0.0109" stop-color="#ffffae"/><stop offset="0.0127" stop-color="#f1f1b2"/><stop offset="0.0144" stop-color="#ececba"/><stop offset="0.0164" stop-color="#f2f2be"/><stop offset="0.0194" stop-color="#ffff9d"/><stop offset="0.0221" stop-color="#f9f9af"/><stop offset="0.0241" stop-color="#eaeac7"/><stop offset="0.0256" stop-color="#fdfdaf"/><stop offset="0.0269" stop-color="#ffff9e"/><stop offset="0.0286" stop-color="#f4f4bb"/><stop offset="0.0306" stop-color="#eeeebb"/><stop offset="0.0318" stop-color="#fefe9e"/><stop offset="0.0328" stop-color="#ffffaf"/><stop offset="0.0341" stop-color="#f3f3ae"/><stop offset="0.0353" stop-color="#ececb3"/><stop offset="0.0371" stop-color="#f5f5b9"/><stop offset="0.0393" stop-color="#eaeab3"/><stop offset="0.0410" stop-color="#f3f3a0"/><stop offset="0.0423" stop-color="#dedec6"/><stop offset="0.0435" stop-color="#fbfbb2"/><stop offset="0.0455" stop-color="#e7e7ca"/><stop offset="0.0473" stop-color="#fcfca9"/><stop offset="0.0487" stop-color="#fcfca9"/><stop offset="0.0510" stop-color="#fdfdb3"/><stop offset="0.0527" stop-color="#f4f4b5"/><stop offset="0.0537" stop-color="#eaeab7"/><stop offset="0.0557" stop-color="#fefea0"/><stop offset="0.0582" stop-color="#f1f1b5"/><stop offset="0.0607" stop-color="#f0f0b9"/><stop offset="0.0632" stop-color="#fefeb1"/><stop offset="0.0657" stop-color="#f7f7c5"/><stop offset="0.0679" stop-color="#ffff9b"/><stop offset="0.0691" stop-color="#f7f7a2"/><stop offset="0.0704" stop-color="#e4e4bd"/><stop offset="0.0719" stop-color="#f9f9b2"/><stop offset="0.0734" stop-color="#f8f8ac"/><stop offset="0.0749" stop-color="#ffffa8"/><stop offset="0.0761" stop-color="#efefb9"/><stop offset="0.0781" stop-color="#f4f4b3"/><stop offset="0.0801" stop-color="#f4f4b3"/><stop offset="0.0811" stop-color="#efefb5"/><stop offset="0.0823" stop-color="#fefeb9"/><stop offset="0.0843" stop-color="#fafab8"/><stop offset="0.0861" stop-color="#e2e2c3"/><stop offset="0.0873" stop-color="#f6f6be"/><stop offset="0.0893" stop-color="#ececbe"/><stop offset="0.0918" stop-color="#e3e3c8"/><stop offset="0.0935" stop-color="#ffffa2"/><stop offset="0.0950" stop-color="#e9e9b9"/><stop offset="0.0967" stop-color="#eeeeaf"/><stop offset="0.0987" stop-color="#ececc0"/><stop offset="0.1007" stop-color="#f3f3b0"/><stop offset="0.1020" stop-color="#f8f8b2"/><stop offset="0.1040" stop-color="#f1f1cc"/><stop offset="0.1059" stop-color="#e9e9bc"/><stop offset="0.1072" stop-color="#fdfdad"/><stop offset="0.1087" stop-color="#fafabc"/><stop offset="0.1102" stop-color="#e9e9b9"/><stop offset="0.1119" stop-color="#f0f0a8"/><stop offset="0.1139" stop-color="#fefec2"/><stop offset="0.1159" stop-color="#ffffaa"/><stop offset="0.1174" stop-color="#fbfbbb"/><stop offset="0.1191" stop-color="#f9f9bd"/><stop offset="0.1209" stop-color="#ffffae"/><stop offset="0.1221" stop-color="#f2f2be"/><stop offset="0.1244" stop-color="#eeeeb7"/><stop offset="0.1273" stop-color="#fbfbb1"/><stop offset="0.1293" stop-color="#f7f7ba"/><stop offset="0.1303" stop-color="#e6e6ca"/><stop offset="0.1323" stop-color="#ffffbb"/><stop offset="0.1343" stop-color="#eeeeb5"/><stop offset="0.1355" stop-color="#ededbc"/><stop offset="0.1368" stop-color="#f6f6c3"/><stop offset="0.1380" stop-color="#ffffaa"/><stop offset="0.1393" stop-color="#fcfcaa"/><stop offset="0.1408" stop-color="#fcfcb2"/><stop offset="0.1428" stop-color="#efefbd"/><stop offset="0.1452" stop-color="#dcdcca"/><stop offset="0.1480" stop-color="#f1f1b3"/><stop offset="0.1500" stop-color="#e5e5b7"/><stop offset="0.1515" stop-color="#e7e7c0"/><stop offset="0.1527" stop-color="#f8f8af"/><stop offset="0.1537" stop-color="#f9f9c4"/><stop offset="0.1549" stop-color="#ffffbc"/><stop offset="0.1569" stop-color="#ececbe"/><stop offset="0.1592" stop-color="#efefd2"/><stop offset="0.1612" stop-color="#fefeb4"/><stop offset="0.1629" stop-color="#ebebc7"/><stop offset="0.1646" stop-color="#f2f2cb"/><stop offset="0.1664" stop-color="#ffff9b"/><stop offset="0.1679" stop-color="#f8f8bc"/><stop offset="0.1696" stop-color="#e2e2c0"/><stop offset="0.1716" stop-color="#f6f6cd"/><stop offset="0.1736" stop-color="#ffff9b"/><stop offset="0.1761" stop-color="#f3f3ca"/><stop offset="0.1791" stop-color="#ececc2"/><stop offset="0.1813" stop-color="#f6f6b3"/><stop offset="0.1826" stop-color="#f8f8b9"/><stop offset="0.1838" stop-color="#efefcc"/><stop offset="0.1850" stop-color="#f2f2c4"/><stop offset="0.1865" stop-color="#fcfcad"/><stop offset="0.1885" stop-color="#f6f6b2"/><stop offset="0.1908" stop-color="#eeeebd"/><stop offset="0.1925" stop-color="#f3f3c5"/><stop offset="0.1935" stop-color="#e6e6c6"/><stop offset="0.1950" stop-color="#f4f4b2"/><stop offset="0.1967" stop-color="#dcdcd5"/><stop offset="0.1982" stop-color="#f3f3bc"/><stop offset="0.2000" stop-color="#f2f2c4"/><stop offset="0.2015" stop-color="#f5f5bc"/><stop offset="0.2024" stop-color="#f6f6b7"/><stop offset="0.2042" stop-color="#ebebc9"/><stop offset="0.2067" stop-color="#eaeace"/><stop offset="0.2087" stop-color="#f9f9c6"/><stop offset="0.2099" stop-color="#ffffb2"/><stop offset="0.2116" stop-color="#eaeac6"/><stop offset="0.2136" stop-color="#f3f3c4"/><stop offset="0.2156" stop-color="#f6f6cd"/><stop offset="0.2181" stop-color="#f7f7c3"/><stop offset="0.2209" stop-color="#f2f2c4"/><stop offset="0.2228" stop-color="#f1f1c8"/><stop offset="0.2243" stop-color="#f6f6b7"/><stop offset="0.2261" stop-color="#d6d6d4"/><stop offset="0.2278" stop-color="#e9e9cd"/><stop offset="0.2293" stop-color="#f0f0c7"/><stop offset="0.2306" stop-color="#e9e9c4"/><stop offset="0.2328" stop-color="#e9e9d6"/><stop offset="0.2350" stop-color="#f8f8c0"/><stop offset="0.2365" stop-color="#fbfbbb"/><stop offset="0.2378" stop-color="#eeeed1"/><stop offset="0.2393" stop-color="#f3f3d1"/><stop offset="0.2407" stop-color="#fafac0"/><stop offset="0.2427" stop-color="#e1e1bd"/><stop offset="0.2452" stop-color="#eaeacc"/><stop offset="0.2470" stop-color="#d5d5dd"/><stop offset="0.2485" stop-color="#dcdcd5"/><stop offset="0.2502" stop-color="#f4f4c6"/><stop offset="0.2522" stop-color="#e9e9cc"/><stop offset="0.2547" stop-color="#ddddca"/><stop offset="0.2569" stop-color="#f4f4c0"/><stop offset="0.2592" stop-color="#f6f6c5"/><stop offset="0.2621" stop-color="#f9f9bd"/><stop offset="0.2644" stop-color="#e3e3d4"/><stop offset="0.2661" stop-color="#eeeeca"/><stop offset="0.2679" stop-color="#ffffbf"/><stop offset="0.2701" stop-color="#f0f0c6"/><stop offset="0.2726" stop-color="#e0e0c5"/><stop offset="0.2746" stop-color="#f3f3c4"/><stop offset="0.2771" stop-color="#f1f1b7"/><stop offset="0.2790" stop-color="#f2f2bc"/><stop offset="0.2810" stop-color="#efefc0"/><stop offset="0.2838" stop-color="#f4f4ca"/><stop offset="0.2863" stop-color="#fcfcbb"/><stop offset="0.2880" stop-color="#d6d6d7"/><stop offset="0.2890" stop-color="#eeeec7"/><stop offset="0.2900" stop-color="#ffffd3"/><stop offset="0.2910" stop-color="#efefcb"/><stop offset="0.2920" stop-color="#ddddd8"/><stop offset="0.2930" stop-color="#fdfdc9"/><stop offset="0.2940" stop-color="#e8e8ca"/><stop offset="0.2950" stop-color="#ffffb6"/><stop offset="0.2970" stop-color="#f6f6c4"/><stop offset="0.2992" stop-color="#ededc7"/><stop offset="0.3004" stop-color="#f3f3c7"/><stop offset="0.3019" stop-color="#e9e9ba"/><stop offset="0.3039" stop-color="#fcfcc5"/><stop offset="0.3054" stop-color="#eeeec5"/><stop offset="0.3064" stop-color="#f1f1c3"/><stop offset="0.3074" stop-color="#f2f2d0"/><stop offset="0.3091" stop-color="#e6e6d6"/><stop offset="0.3111" stop-color="#f5f5bf"/><stop offset="0.3131" stop-color="#e3e3d4"/><stop offset="0.3156" stop-color="#ededc0"/><stop offset="0.3183" stop-color="#f3f3c6"/><stop offset="0.3208" stop-color="#e2e2cc"/><stop offset="0.3233" stop-color="#f2f2ca"/><stop offset="0.3256" stop-color="#e1e1da"/><stop offset="0.3278" stop-color="#e9e9c8"/><stop offset="0.3303" stop-color="#ffffbd"/><stop offset="0.3318" stop-color="#fbfbc7"/><stop offset="0.3338" stop-color="#e8e8ca"/><stop offset="0.3360" stop-color="#f8f8d2"/><stop offset="0.3372" stop-color="#f2f2c1"/><stop offset="0.3387" stop-color="#e9e9dc"/><stop offset="0.3410" stop-color="#dfdfda"/><stop offset="0.3437" stop-color="#ffffb3"/><stop offset="0.3462" stop-color="#e6e6d1"/><stop offset="0.3487" stop-color="#e4e4d1"/><stop offset="0.3514" stop-color="#fafabe"/><stop offset="0.3532" stop-color="#f6f6c4"/><stop offset="0.3544" stop-color="#f0f0ca"/><stop offset="0.3559" stop-color="#eaeac0"/><stop offset="0.3571" stop-color="#dcdcc7"/><stop offset="0.3584" stop-color="#ebebc5"/><stop offset="0.3596" stop-color="#f6f6c2"/><stop offset="0.3616" stop-color="#f1f1cf"/><stop offset="0.3639" stop-color="#f7f7dc"/><stop offset="0.3651" stop-color="#ffffc6"/><stop offset="0.3663" stop-color="#eeeed3"/><stop offset="0.3683" stop-color="#f9f9c9"/><stop offset="0.3703" stop-color="#f9f9d7"/><stop offset="0.3718" stop-color="#e2e2db"/><stop offset="0.3733" stop-color="#e2e2d9"/><stop offset="0.3748" stop-color="#ececca"/><stop offset="0.3768" stop-color="#f1f1c9"/><stop offset="0.3790" stop-color="#fbfbcd"/><stop offset="0.3805" stop-color="#d4d4e8"/><stop offset="0.3815" stop-color="#ffffb6"/><stop offset="0.3828" stop-color="#e4e4da"/><stop offset="0.3843" stop-color="#eaeadc"/><stop offset="0.3865" stop-color="#e0e0de"/><stop offset="0.3885" stop-color="#eaeadd"/><stop offset="0.3895" stop-color="#e9e9da"/><stop offset="0.3910" stop-color="#e4e4d9"/><stop offset="0.3930" stop-color="#dbdbd2"/><stop offset="0.3947" stop-color="#e4e4d0"/><stop offset="0.3959" stop-color="#f2f2da"/><stop offset="0.3977" stop-color="#cfcff6"/><stop offset="0.3999" stop-color="#f0f0cc"/><stop offset="0.4019" stop-color="#ffffcc"/><stop offset="0.4034" stop-color="#ffffb0"/><stop offset="0.4049" stop-color="#e2e2e2"/><stop offset="0.4069" stop-color="#fafac0"/><stop offset="0.4086" stop-color="#dcdcde"/><stop offset="0.4099" stop-color="#eaeae3"/><stop offset="0.4111" stop-color="#d5d5e4"/><stop offset="0.4129" stop-color="#e1e1e5"/><stop offset="0.4146" stop-color="#fcfcca"/><stop offset="0.4158" stop-color="#ececc6"/><stop offset="0.4171" stop-color="#ffffb1"/><stop offset="0.4186" stop-color="#ffffb0"/><stop offset="0.4201" stop-color="#efefd4"/><stop offset="0.4216" stop-color="#c4c4dd"/><stop offset="0.4228" stop-color="#bebeff"/><stop offset="0.4240" stop-color="#d3d3e5"/><stop offset="0.4255" stop-color="#d8d8f1"/><stop offset="0.4273" stop-color="#d6d6f8"/><stop offset="0.4290" stop-color="#f6f6c1"/><stop offset="0.4310" stop-color="#ffffbd"/><stop offset="0.4327" stop-color="#ffffb4"/><stop offset="0.4345" stop-color="#fbfbbf"/><stop offset="0.4367" stop-color="#c7c7f3"/><stop offset="0.4385" stop-color="#e1e1f2"/><stop offset="0.4400" stop-color="#e6e6de"/><stop offset="0.4417" stop-color="#f6f6b5"/><stop offset="0.4434" stop-color="#d2d2e5"/><stop offset="0.4457" stop-color="#bcbcfe"/><stop offset="0.4487" stop-color="#d1d1f6"/><stop offset="0.4514" stop-color="#cecef0"/><stop offset="0.4536" stop-color="#e9e9d3"/><stop offset="0.4556" stop-color="#e1e1cf"/><stop offset="0.4574" stop-color="#b3b3ff"/><stop offset="0.4591" stop-color="#ededd4"/><stop offset="0.4616" stop-color="#ebebec"/><stop offset="0.4641" stop-color="#ebebd5"/><stop offset="0.4656" stop-color="#fafad1"/><stop offset="0.4671" stop-color="#ffff96"/><stop offset="0.4688" stop-color="#ffff83"/><stop offset="0.4703" stop-color="#e8e8de"/><stop offset="0.4720" stop-color="#ffffc6"/><stop offset="0.4743" stop-color="#f7f7c2"/><stop offset="0.4770" stop-color="#dedee1"/><stop offset="0.4795" stop-color="#ffff66"/><stop offset="0.4810" stop-color="#ffff66"/><stop offset="0.4825" stop-color="#f2f2d0"/><stop offset="0.4842" stop-color="#c4c4f8"/><stop offset="0.4855" stop-color="#bdbdfa"/><stop offset="0.4875" stop-color="#c7c7f5"/><stop offset="0.4902" stop-color="#e1e1e7"/><stop offset="0.4919" stop-color="#b8b8ff"/><stop offset="0.4929" stop-color="#dadae4"/><stop offset="0.4947" stop-color="#ebebdc"/><stop offset="0.4964" stop-color="#ffffb6"/><stop offset="0.4974" stop-color="#acacff"/><stop offset="0.4984" stop-color="#ffffb4"/><stop offset="0.4994" stop-color="#ababff"/><stop offset="0.5004" stop-color="#e5e5c9"/><stop offset="0.5014" stop-color="#d6d6ed"/><stop offset="0.5026" stop-color="#fefec5"/><stop offset="0.5049" stop-color="#bfbfff"/><stop offset="0.5074" stop-color="#d8d8ee"/><stop offset="0.5091" stop-color="#d1d1e0"/><stop offset="0.5106" stop-color="#bebefa"/><stop offset="0.5128" stop-color="#f5f5d8"/><stop offset="0.5151" stop-color="#e4e4e7"/><stop offset="0.5163" stop-color="#dcdcf2"/><stop offset="0.5176" stop-color="#e6e6e2"/><stop offset="0.5195" stop-color="#8c8cff"/><stop offset="0.5213" stop-color="#f2f2f7"/><stop offset="0.5223" stop-color="#f2f2f7"/><stop offset="0.5233" stop-color="#f2f2f7"/><stop offset="0.5243" stop-color="#a6a6fa"/><stop offset="0.5255" stop-color="#a6a6fa"/><stop offset="0.5270" stop-color="#e6e6f1"/><stop offset="0.5285" stop-color="#d8d8f8"/><stop offset="0.5305" stop-color="#e8e8e9"/><stop offset="0.5330" stop-color="#e1e1f9"/><stop offset="0.5357" stop-color="#e2e2f5"/><stop offset="0.5382" stop-color="#e4e4ee"/><stop offset="0.5399" stop-color="#c8c8f6"/><stop offset="0.5414" stop-color="#e2e2eb"/><stop offset="0.5429" stop-color="#dcdcf9"/><stop offset="0.5444" stop-color="#e0e0f3"/><stop offset="0.5457" stop-color="#dbdbf7"/><stop offset="0.5472" stop-color="#c9c9ff"/><stop offset="0.5489" stop-color="#d7d7f5"/><stop offset="0.5504" stop-color="#e0e0e9"/><stop offset="0.5526" stop-color="#e1e1f9"/><stop offset="0.5546" stop-color="#dedef7"/><stop offset="0.5564" stop-color="#d6d6f2"/><stop offset="0.5583" stop-color="#d8d8e3"/><stop offset="0.5601" stop-color="#dedefe"/><stop offset="0.5616" stop-color="#dbdbf5"/><stop offset="0.5626" stop-color="#c4c4f9"/><stop offset="0.5641" stop-color="#dcdce9"/><stop offset="0.5656" stop-color="#bcbcff"/><stop offset="0.5668" stop-color="#d3d3f7"/><stop offset="0.5683" stop-color="#d5d5ed"/><stop offset="0.5698" stop-color="#d3d3f4"/><stop offset="0.5715" stop-color="#c8c8ff"/><stop offset="0.5735" stop-color="#c9c9ff"/><stop offset="0.5758" stop-color="#c3c3ff"/><stop offset="0.5777" stop-color="#e5e5d3"/><stop offset="0.5795" stop-color="#dcdceb"/><stop offset="0.5810" stop-color="#d7d7f0"/><stop offset="0.5825" stop-color="#cdcdf9"/><stop offset="0.5845" stop-color="#d2d2f5"/><stop offset="0.5865" stop-color="#d0d0f6"/><stop offset="0.5879" stop-color="#d3d3ff"/><stop offset="0.5894" stop-color="#c7c7ff"/><stop offset="0.5912" stop-color="#e1e1f8"/><stop offset="0.5924" stop-color="#e3e3f2"/><stop offset="0.5939" stop-color="#c7c7eb"/><stop offset="0.5964" stop-color="#b8b8fc"/><stop offset="0.5989" stop-color="#c4c4ff"/><stop offset="0.6011" stop-color="#cbcbff"/><stop offset="0.6034" stop-color="#c9c9f9"/><stop offset="0.6054" stop-color="#cfcffe"/><stop offset="0.6068" stop-color="#d5d5f1"/><stop offset="0.6083" stop-color="#c9c9f8"/><stop offset="0.6101" stop-color="#d9d9e5"/><stop offset="0.6116" stop-color="#c0c0ea"/><stop offset="0.6138" stop-color="#c6c6ff"/><stop offset="0.6158" stop-color="#ccccf4"/><stop offset="0.6168" stop-color="#d4d4e4"/><stop offset="0.6180" stop-color="#d3d3fd"/><stop offset="0.6193" stop-color="#ccccf7"/><stop offset="0.6205" stop-color="#ccccfc"/><stop offset="0.6223" stop-color="#d2d2f7"/><stop offset="0.6238" stop-color="#b2b2ff"/><stop offset="0.6250" stop-color="#c0c0ee"/><stop offset="0.6267" stop-color="#d0d0fb"/><stop offset="0.6290" stop-color="#bebeff"/><stop offset="0.6312" stop-color="#c5c5ff"/><stop offset="0.6327" stop-color="#c4c4dd"/><stop offset="0.6337" stop-color="#c1c1f2"/><stop offset="0.6352" stop-color="#c8c8f8"/><stop offset="0.6372" stop-color="#b4b4ff"/><stop offset="0.6389" stop-color="#bdbdff"/><stop offset="0.6407" stop-color="#b8b8ee"/><stop offset="0.6422" stop-color="#cbcbf2"/><stop offset="0.6437" stop-color="#cdcdee"/><stop offset="0.6454" stop-color="#bcbce1"/><stop offset="0.6476" stop-color="#b9b9ff"/><stop offset="0.6501" stop-color="#cacaf2"/><stop offset="0.6516" stop-color="#c0c0ff"/><stop offset="0.6531" stop-color="#c7c7eb"/><stop offset="0.6546" stop-color="#cacaf0"/><stop offset="0.6556" stop-color="#bfbfff"/><stop offset="0.6571" stop-color="#c4c4fb"/><stop offset="0.6588" stop-color="#a7a7fd"/><stop offset="0.6603" stop-color="#cecee1"/><stop offset="0.6618" stop-color="#bebeff"/><stop offset="0.6635" stop-color="#bbbbf0"/><stop offset="0.6650" stop-color="#b4b4f9"/><stop offset="0.6663" stop-color="#bebeed"/><stop offset="0.6675" stop-color="#b7b7fd"/><stop offset="0.6685" stop-color="#b2b2ff"/><stop offset="0.6695" stop-color="#c6c6fa"/><stop offset="0.6708" stop-color="#babafb"/><stop offset="0.6725" stop-color="#b3b3f8"/><stop offset="0.6742" stop-color="#c6c6f8"/><stop offset="0.6755" stop-color="#c7c7f7"/><stop offset="0.6772" stop-color="#b8b8fa"/><stop offset="0.6797" stop-color="#d5d5ee"/><stop offset="0.6817" stop-color="#c5c5f3"/><stop offset="0.6834" stop-color="#bbbbf5"/><stop offset="0.6852" stop-color="#c4c4ff"/><stop offset="0.6869" stop-color="#9595ff"/><stop offset="0.6889" stop-color="#c7c7f3"/><stop offset="0.6904" stop-color="#ccccec"/><stop offset="0.6914" stop-color="#c8c8e2"/><stop offset="0.6926" stop-color="#babaff"/><stop offset="0.6941" stop-color="#c8c8ff"/><stop offset="0.6956" stop-color="#bdbdf3"/><stop offset="0.6969" stop-color="#b9b9e8"/><stop offset="0.6979" stop-color="#adaded"/><stop offset="0.6991" stop-color="#c4c4e8"/><stop offset="0.7004" stop-color="#b0b0ff"/><stop offset="0.7014" stop-color="#c6c6ea"/><stop offset="0.7026" stop-color="#b0b0f8"/><stop offset="0.7038" stop-color="#bebee7"/><stop offset="0.7058" stop-color="#c0c0f9"/><stop offset="0.7078" stop-color="#bdbdf3"/><stop offset="0.7098" stop-color="#cccce6"/><stop offset="0.7123" stop-color="#c2c2f4"/><stop offset="0.7148" stop-color="#dcdce3"/><stop offset="0.7173" stop-color="#bebef6"/><stop offset="0.7190" stop-color="#c7c7f3"/><stop offset="0.7205" stop-color="#bfbfef"/><stop offset="0.7225" stop-color="#a6a6ff"/><stop offset="0.7252" stop-color="#bcbcfe"/><stop offset="0.7275" stop-color="#a8a8fd"/><stop offset="0.7290" stop-color="#c0c0f7"/><stop offset="0.7305" stop-color="#bbbbf2"/><stop offset="0.7322" stop-color="#dfdfe3"/><stop offset="0.7344" stop-color="#bfbff4"/><stop offset="0.7362" stop-color="#c2c2f0"/><stop offset="0.7377" stop-color="#adadfc"/><stop offset="0.7392" stop-color="#c7c7f2"/><stop offset="0.7406" stop-color="#ababff"/><stop offset="0.7429" stop-color="#bbbbee"/><stop offset="0.7449" stop-color="#c3c3f0"/><stop offset="0.7461" stop-color="#bbbbf3"/><stop offset="0.7474" stop-color="#bcbcee"/><stop offset="0.7489" stop-color="#bdbdf2"/><stop offset="0.7508" stop-color="#c1c1eb"/><stop offset="0.7526" stop-color="#b8b8fa"/><stop offset="0.7536" stop-color="#bcbcf8"/><stop offset="0.7551" stop-color="#d4d4de"/><stop offset="0.7573" stop-color="#b0b0f3"/><stop offset="0.7598" stop-color="#bcbced"/><stop offset="0.7623" stop-color="#c2c2f8"/><stop offset="0.7648" stop-color="#bcbcfc"/><stop offset="0.7668" stop-color="#b4b4f2"/><stop offset="0.7683" stop-color="#a6a6f2"/><stop offset="0.7695" stop-color="#babaee"/><stop offset="0.7705" stop-color="#c1c1f1"/><stop offset="0.7715" stop-color="#b5b5eb"/><stop offset="0.7730" stop-color="#b7b7f3"/><stop offset="0.7752" stop-color="#b5b5ec"/><stop offset="0.7775" stop-color="#b5b5f0"/><stop offset="0.7799" stop-color="#cccce9"/><stop offset="0.7822" stop-color="#babaef"/><stop offset="0.7844" stop-color="#a4a4f8"/><stop offset="0.7874" stop-color="#b5b5f7"/><stop offset="0.7896" stop-color="#b8b8f7"/><stop offset="0.7914" stop-color="#acacef"/><stop offset="0.7934" stop-color="#aaaafc"/><stop offset="0.7954" stop-color="#b1b1ea"/><stop offset="0.7976" stop-color="#afafff"/><stop offset="0.7996" stop-color="#adadff"/><stop offset="0.8016" stop-color="#b8b8ff"/><stop offset="0.8038" stop-color="#b1b1f3"/><stop offset="0.8053" stop-color="#a6a6ff"/><stop offset="0.8071" stop-color="#a7a7f6"/><stop offset="0.8098" stop-color="#9999f5"/><stop offset="0.8120" stop-color="#c1c1fa"/><stop offset="0.8143" stop-color="#c4c4e9"/><stop offset="0.8163" stop-color="#b4b4fb"/><stop offset="0.8180" stop-color="#b1b1fa"/><stop offset="0.8202" stop-color="#aeaefc"/><stop offset="0.8217" stop-color="#ababfb"/><stop offset="0.8230" stop-color="#b3b3f0"/><stop offset="0.8247" stop-color="#afafff"/><stop offset="0.8262" stop-color="#a3a3f3"/><stop offset="0.8274" stop-color="#b4b4f8"/><stop offset="0.8289" stop-color="#b0b0ef"/><stop offset="0.8304" stop-color="#b3b3f2"/><stop offset="0.8327" stop-color="#b5b5f3"/><stop offset="0.8352" stop-color="#b8b8f2"/><stop offset="0.8369" stop-color="#ababfe"/><stop offset="0.8381" stop-color="#b7b7ed"/><stop offset="0.8394" stop-color="#9f9fff"/><stop offset="0.8409" stop-color="#a9a9ff"/><stop offset="0.8426" stop-color="#aaaaf7"/><stop offset="0.8441" stop-color="#ababff"/><stop offset="0.8451" stop-color="#aeaefe"/><stop offset="0.8466" stop-color="#ababfa"/><stop offset="0.8486" stop-color="#a7a7fc"/><stop offset="0.8508" stop-color="#a6a6f0"/><stop offset="0.8531" stop-color="#bbbbff"/><stop offset="0.8548" stop-color="#acacf3"/><stop offset="0.8563" stop-color="#9393f4"/><stop offset="0.8580" stop-color="#aaaaff"/><stop offset="0.8605" stop-color="#b6b6f4"/><stop offset="0.8633" stop-color="#acacfc"/><stop offset="0.8650" stop-color="#b2b2ec"/><stop offset="0.8660" stop-color="#6b6bff"/><stop offset="0.8672" stop-color="#a3a3ff"/><stop offset="0.8695" stop-color="#acacf6"/><stop offset="0.8715" stop-color="#9f9ffb"/><stop offset="0.8727" stop-color="#b5b5f9"/><stop offset="0.8747" stop-color="#acace8"/><stop offset="0.8772" stop-color="#b9b9ff"/><stop offset="0.8797" stop-color="#ababf2"/><stop offset="0.8819" stop-color="#9e9eff"/><stop offset="0.8839" stop-color="#9d9dff"/><stop offset="0.8859" stop-color="#a5a5ff"/><stop offset="0.8884" stop-color="#9797fb"/><stop offset="0.8911" stop-color="#9999fc"/><stop offset="0.8931" stop-color="#9797ff"/><stop offset="0.8943" stop-color="#9c9cf2"/><stop offset="0.8958" stop-color="#aeaef0"/><stop offset="0.8973" stop-color="#aaaaec"/><stop offset="0.8986" stop-color="#a2a2f0"/><stop offset="0.9003" stop-color="#a4a4ff"/><stop offset="0.9018" stop-color="#9595fe"/><stop offset="0.9033" stop-color="#aaaaf5"/><stop offset="0.9050" stop-color="#9797ff"/><stop offset="0.9065" stop-color="#9898fe"/><stop offset="0.9083" stop-color="#a3a3ef"/><stop offset="0.9103" stop-color="#a4a4f2"/><stop offset="0.9123" stop-color="#9d9dfb"/><stop offset="0.9140" stop-color="#a4a4f6"/><stop offset="0.9155" stop-color="#8f8fff"/><stop offset="0.9167" stop-color="#9f9ffa"/><stop offset="0.9187" stop-color="#9f9ff0"/><stop offset="0.9207" stop-color="#9292fe"/><stop offset="0.9220" stop-color="#afaff6"/><stop offset="0.9234" stop-color="#9d9ddc"/><stop offset="0.9247" stop-color="#a1a1fe"/><stop offset="0.9262" stop-color="#6f6fff"/><stop offset="0.9282" stop-color="#9595fa"/><stop offset="0.9304" stop-color="#9696fa"/><stop offset="0.9329" stop-color="#9696ff"/><stop offset="0.9349" stop-color="#a3a3f2"/><stop offset="0.9369" stop-color="#9191f2"/><stop offset="0.9391" stop-color="#a1a1ff"/><stop offset="0.9414" stop-color="#9898f3"/><stop offset="0.9431" stop-color="#9999f7"/><stop offset="0.9446" stop-color="#9e9ef3"/><stop offset="0.9466" stop-color="#9595fc"/><stop offset="0.9491" stop-color="#9b9bfc"/><stop offset="0.9516" stop-color="#8e8eff"/><stop offset="0.9540" stop-color="#8989f8"/><stop offset="0.9568" stop-color="#9f9fef"/><stop offset="0.9585" stop-color="#8e8efb"/><stop offset="0.9595" stop-color="#9999fe"/><stop offset="0.9608" stop-color="#9f9fef"/><stop offset="0.9630" stop-color="#9090fc"/><stop offset="0.9652" stop-color="#9696fe"/><stop offset="0.9670" stop-color="#9d9dff"/><stop offset="0.9695" stop-color="#8686ff"/><stop offset="0.9717" stop-color="#8e8ef8"/><stop offset="0.9734" stop-color="#8484f6"/><stop offset="0.9759" stop-color="#8484ff"/><stop offset="0.9782" stop-color="#9999ec"/><stop offset="0.9797" stop-color="#9b9bfd"/><stop offset="0.9816" stop-color="#7d7dfd"/><stop offset="0.9839" stop-color="#8f8ffc"/><stop offset="0.9856" stop-color="#7777ff"/><stop offset="0.9869" stop-color="#8f8ffe"/><stop offset="0.9884" stop-color="#8a8af8"/><stop offset="0.9908" stop-color="#8f8fff"/><stop offset="0.9938" stop-color="#8888ff"/><stop offset="0.9963" stop-color="#8484ff"/><stop offset="0.9978" stop-color="#7b7bf9"/><stop offset="0.9993" stop-color="#8585f7"/></linearGradient><linearGradient id="h4" x1="0" x2="1" y1="0" y2="0"><stop offset="0.0007" stop-color="#9e9eec"/><stop offset="0.0027" stop-color="#9595ff"/><stop offset="0.0045" stop-color="#8d8dff"/><stop offset="0.0060" stop-color="#a6a6f4"/><stop offset="0.0075" stop-color="#9999fb"/><stop offset="0.0087" stop-color="#9090fe"/><stop offset="0.0099" stop-color="#9898f6"/><stop offset="0.0112" stop-color="#9292fb"/><stop offset="0.0129" stop-color="#8989f9"/><stop offset="0.0144" stop-color="#8c8cfe"/><stop offset="0.0154" stop-color="#8f8ff8"/><stop offset="0.0167" stop-color="#9797fe"/><stop offset="0.0179" stop-color="#a7a7f1"/><stop offset="0.0189" stop-color="#a4a4f4"/><stop offset="0.0204" stop-color="#8b8bff"/><stop offset="0.0226" stop-color="#a5a5f2"/><stop offset="0.0249" stop-color="#8e8ef9"/><stop offset="0.0266" stop-color="#9e9ee6"/><stop offset="0.0288" stop-color="#9696f6"/><stop offset="0.0311" stop-color="#9a9aef"/><stop offset="0.0326" stop-color="#8e8eff"/><stop offset="0.0343" stop-color="#8f8ffb"/><stop offset="0.0368" stop-color="#9595ff"/><stop offset="0.0390" stop-color="#a1a1ff"/><stop offset="0.0403" stop-color="#9696ee"/><stop offset="0.0423" stop-color="#9d9dfd"/><stop offset="0.0443" stop-color="#acacea"/><stop offset="0.0458" stop-color="#aeaef0"/><stop offset="0.0473" stop-color="#9a9af5"/><stop offset="0.0492" stop-color="#a0a0fe"/><stop offset="0.0512" stop-color="#a2a2f7"/><stop offset="0.0522" stop-color="#8a8aff"/><stop offset="0.0537" stop-color="#9898fa"/><stop offset="0.0552" stop-color="#9898f4"/><stop offset="0.0562" stop-color="#a5a5f8"/><stop offset="0.0575" stop-color="#9191ff"/><stop offset="0.0592" stop-color="#a8a8f3"/><stop offset="0.0607" stop-color="#a1a1e7"/><stop offset="0.0622" stop-color="#a9a9e7"/><stop offset="0.0637" stop-color="#a9a9ea"/><stop offset="0.0657" stop-color="#9f9ff9"/><stop offset="0.0681" stop-color="#9292ff"/><stop offset="0.0699" stop-color="#9999ff"/><stop offset="0.0714" stop-color="#9797ff"/><stop offset="0.0731" stop-color="#a6a6f8"/><stop offset="0.0749" stop-color="#7373ff"/><stop offset="0.0764" stop-color="#9696f6"/><stop offset="0.0776" stop-color="#9999fa"/><stop offset="0.0791" stop-color="#a1a1fa"/><stop offset="0.0811" stop-color="#9797ff"/><stop offset="0.0828" stop-color="#9b9bff"/><stop offset="0.0848" stop-color="#a0a0f0"/><stop offset="0.0865" stop-color="#a7a7f3"/><stop offset="0.0885" stop-color="#9f9ff9"/><stop offset="0.0908" stop-color="#9e9ef4"/><stop offset="0.0920" stop-color="#9898f5"/><stop offset="0.0938" stop-color="#aeaee6"/><stop offset="0.0960" stop-color="#c5c5d7"/><stop offset="0.0977" stop-color="#9999ff"/><stop offset="0.0990" stop-color="#9191f3"/><stop offset="0.1005" stop-color="#9494fb"/><stop offset="0.1020" stop-color="#9191f2"/><stop offset="0.1035" stop-color="#afaff3"/><stop offset="0.1050" stop-color="#a3a3f6"/><stop offset="0.1062" stop-color="#a0a0ff"/><stop offset="0.1082" stop-color="#afaff7"/><stop offset="0.1099" stop-color="#b3b3e7"/><stop offset="0.1109" stop-color="#9696ff"/><stop offset="0.1124" stop-color="#9e9eea"/><stop offset="0.1142" stop-color="#a4a4e0"/><stop offset="0.1159" stop-color="#9191ff"/><stop offset="0.1174" stop-color="#9b9bfe"/><stop offset="0.1184" stop-color="#a2a2ed"/><stop offset="0.1204" stop-color="#9d9dfe"/><stop offset="0.1231" stop-color="#a7a7f4"/><stop offset="0.1251" stop-color="#a0a0ec"/><stop offset="0.1266" stop-color="#a1a1ff"/><stop offset="0.1281" stop-color="#ababf8"/><stop offset="0.1303" stop-color="#9191ff"/><stop offset="0.1323" stop-color="#9d9dff"/><stop offset="0.1341" stop-color="#a1a1f8"/><stop offset="0.1365" stop-color="#a8a8f9"/><stop offset="0.1383" stop-color="#a0a0f1"/><stop offset="0.1395" stop-color="#c3c3f5"/><stop offset="0.1408" stop-color="#9d9dff"/><stop offset="0.1425" stop-color="#a8a8f5"/><stop offset="0.1447" stop-color="#9a9afa"/><stop offset="0.1462" stop-color="#a8a8f2"/><stop offset="0.1477" stop-color="#b0b0fb"/><stop offset="0.1502" stop-color="#acacf7"/><stop offset="0.1522" stop-color="#9a9af7"/><stop offset="0.1532" stop-color="#b0b0f3"/><stop offset="0.1552" stop-color="#a1a1f8"/><stop offset="0.1574" stop-color="#b1b1ff"/><stop offset="0.1589" stop-color="#adadf7"/><stop offset="0.1607" stop-color="#a6a6ff"/><stop offset="0.1627" stop-color="#a3a3f1"/><stop offset="0.1649" stop-color="#a9a9ef"/><stop offset="0.1669" stop-color="#c5c5d9"/><stop offset="0.1681" stop-color="#9090ff"/><stop offset="0.1696" stop-color="#aaaae9"/><stop offset="0.1721" stop-color="#babaf1"/><stop offset="0.1743" stop-color="#8c8cff"/><stop offset="0.1761" stop-color="#b9b9ff"/><stop offset="0.1781" stop-color="#b0b0e1"/><stop offset="0.1796" stop-color="#a0a0f8"/><stop offset="0.1816" stop-color="#9a9afe"/><stop offset="0.1835" stop-color="#b1b1ef"/><stop offset="0.1848" stop-color="#b1b1f6"/><stop offset="0.1860" stop-color="#a6a6f0"/><stop offset="0.1873" stop-color="#b0b0ed"/><stop offset="0.1890" stop-color="#a4a4f9"/><stop offset="0.1908" stop-color="#a3a3f1"/><stop offset="0.1923" stop-color="#aeaef8"/><stop offset="0.1937" stop-color="#afafeb"/><stop offset="0.1952" stop-color="#b4b4f3"/><stop offset="0.1965" stop-color="#a7a7e4"/><stop offset="0.1977" stop-color="#afafe8"/><stop offset="0.1997" stop-color="#afaff5"/><stop offset="0.2015" stop-color="#a7a7f3"/><stop offset="0.2029" stop-color="#a2a2f7"/><stop offset="0.2047" stop-color="#b0b0f1"/><stop offset="0.2069" stop-color="#a2a2fd"/><stop offset="0.2094" stop-color="#a7a7f7"/><stop offset="0.2116" stop-color="#a1a1ed"/><stop offset="0.2141" stop-color="#a7a7f5"/><stop offset="0.2164" stop-color="#ababfd"/><stop offset="0.2179" stop-color="#adadf2"/><stop offset="0.2194" stop-color="#bcbcef"/><stop offset="0.2209" stop-color="#a1a1f1"/><stop offset="0.2218" stop-color="#b0b0f2"/><stop offset="0.2233" stop-color="#9d9dff"/><stop offset="0.2258" stop-color="#aaaae7"/><stop offset="0.2278" stop-color="#b4b4ea"/><stop offset="0.2288" stop-color="#a5a5f0"/><stop offset="0.2303" stop-color="#b0b0e6"/><stop offset="0.2323" stop-color="#a9a9f7"/><stop offset="0.2338" stop-color="#a8a8f6"/><stop offset="0.2353" stop-color="#a2a2f9"/><stop offset="0.2368" stop-color="#b0b0f3"/><stop offset="0.2380" stop-color="#9898fc"/><stop offset="0.2398" stop-color="#a1a1f4"/><stop offset="0.2417" stop-color="#a6a6eb"/><stop offset="0.2442" stop-color="#a2a2f3"/><stop offset="0.2467" stop-color="#adadff"/><stop offset="0.2492" stop-color="#9f9fea"/><stop offset="0.2514" stop-color="#a7a7fc"/><stop offset="0.2529" stop-color="#b8b8f4"/><stop offset="0.2544" stop-color="#b3b3e4"/><stop offset="0.2557" stop-color="#a0a0ef"/><stop offset="0.2572" stop-color="#a1a1f5"/><stop offset="0.2587" stop-color="#bbbbf2"/><stop offset="0.2596" stop-color="#bcbcec"/><stop offset="0.2611" stop-color="#bbbbde"/><stop offset="0.2636" stop-color="#a8a8f5"/><stop offset="0.2661" stop-color="#9f9ffa"/><stop offset="0.2684" stop-color="#c1c1dc"/><stop offset="0.2711" stop-color="#9d9dec"/><stop offset="0.2741" stop-color="#b1b1f1"/><stop offset="0.2771" stop-color="#b5b5e6"/><stop offset="0.2795" stop-color="#a2a2ff"/><stop offset="0.2815" stop-color="#b3b3f8"/><stop offset="0.2830" stop-color="#afaff9"/><stop offset="0.2850" stop-color="#9191ff"/><stop offset="0.2878" stop-color="#b0b0ee"/><stop offset="0.2900" stop-color="#a4a4fb"/><stop offset="0.2915" stop-color="#d3d3da"/><stop offset="0.2935" stop-color="#b1b1e6"/><stop offset="0.2962" stop-color="#adadf1"/><stop offset="0.2982" stop-color="#b2b2f1"/><stop offset="0.2994" stop-color="#adadf4"/><stop offset="0.3007" stop-color="#bbbbef"/><stop offset="0.3019" stop-color="#b1b1f9"/><stop offset="0.3039" stop-color="#b1b1ed"/><stop offset="0.3064" stop-color="#9d9df1"/><stop offset="0.3079" stop-color="#b7b7f5"/><stop offset="0.3089" stop-color="#acace5"/><stop offset="0.3099" stop-color="#b0b0ee"/><stop offset="0.3109" stop-color="#b1b1ea"/><stop offset="0.3119" stop-color="#bcbcf2"/><stop offset="0.3131" stop-color="#adadf0"/><stop offset="0.3144" stop-color="#9898ff"/><stop offset="0.3156" stop-color="#c3c3fa"/><stop offset="0.3173" stop-color="#babae8"/><stop offset="0.3198" stop-color="#afafe1"/><stop offset="0.3223" stop-color="#a3a3e3"/><stop offset="0.3243" stop-color="#a2a2f9"/><stop offset="0.3263" stop-color="#a8a8fa"/><stop offset="0.3283" stop-color="#c5c5f2"/><stop offset="0.3300" stop-color="#a1a1fa"/><stop offset="0.3315" stop-color="#b1b1f7"/><stop offset="0.3328" stop-color="#bcbceb"/><stop offset="0.3340" stop-color="#bbbbe7"/><stop offset="0.3353" stop-color="#aeaef9"/><stop offset="0.3370" stop-color="#a2a2ff"/><stop offset="0.3397" stop-color="#b6b6ec"/><stop offset="0.3417" stop-color="#b0b0f9"/><stop offset="0.3435" stop-color="#a3a3f1"/><stop offset="0.3460" stop-color="#b0b0e9"/><stop offset="0.3477" stop-color="#a6a6f9"/><stop offset="0.3489" stop-color="#b2b2f3"/><stop offset="0.3502" stop-color="#b6b6f7"/><stop offset="0.3517" stop-color="#bcbcee"/><stop offset="0.3539" stop-color="#ababf2"/><stop offset="0.3557" stop-color="#b8b8f6"/><stop offset="0.3576" stop-color="#babaeb"/><stop offset="0.3596" stop-color="#b8b8fa"/><stop offset="0.3609" stop-color="#aaaae8"/><stop offset="0.3621" stop-color="#b9b9e8"/><stop offset="0.3636" stop-color="#a8a8ee"/><stop offset="0.3654" stop-color="#acacf3"/><stop offset="0.3671" stop-color="#a0a0f8"/><stop offset="0.3691" stop-color="#b3b3f5"/><stop offset="0.3708" stop-color="#b1b1f7"/><stop offset="0.3723" stop-color="#bebee3"/><stop offset="0.3746" stop-color="#aeaee4"/><stop offset="0.3773" stop-color="#bcbcd9"/><stop offset="0.3793" stop-color="#b8b8fb"/><stop offset="0.3805" stop-color="#d6d6db"/><stop offset="0.3818" stop-color="#aeaef5"/><stop offset="0.3835" stop-color="#9494fd"/><stop offset="0.3857" stop-color="#adade9"/><stop offset="0.3875" stop-color="#b8b8e5"/><stop offset="0.3892" stop-color="#a6a6f2"/><stop offset="0.3917" stop-color="#c0c0f0"/><stop offset="0.3942" stop-color="#bdbde8"/><stop offset="0.3962" stop-color="#9d9dfa"/><stop offset="0.3977" stop-color="#b5b5f3"/><stop offset="0.3997" stop-color="#c4c4d8"/><stop offset="0.4017" stop-color="#babaf2"/><stop offset="0.4032" stop-color="#ababfb"/><stop offset="0.4044" stop-color="#a8a8fd"/><stop offset="0.4056" stop-color="#bdbddd"/><stop offset="0.4069" stop-color="#bdbde8"/><stop offset="0.4081" stop-color="#c3c3e7"/><stop offset="0.4096" stop-color="#d0d0d8"/><stop offset="0.4116" stop-color="#b8b8f2"/><stop offset="0.4136" stop-color="#a0a0eb"/><stop offset="0.4151" stop-color="#bfbfe7"/><stop offset="0.4168" stop-color="#b3b3eb"/><stop offset="0.4183" stop-color="#b4b4e4"/><stop offset="0.4196" stop-color="#c9c9d3"/><stop offset="0.4211" stop-color="#8a8aff"/><stop offset="0.4223" stop-color="#b3b3f9"/><stop offset="0.4235" stop-color="#ababfe"/><stop offset="0.4250" stop-color="#f0f0b6"/><stop offset="0.4263" stop-color="#aeaef3"/><stop offset="0.4280" stop-color="#d2d2db"/><stop offset="0.4303" stop-color="#d2d2d7"/><stop offset="0.4318" stop-color="#c8c8cf"/><stop offset="0.4335" stop-color="#c9c9e2"/><stop offset="0.4355" stop-color="#adadf6"/><stop offset="0.4375" stop-color="#d0d0d7"/><stop offset="0.4397" stop-color="#b0b0fc"/><stop offset="0.4420" stop-color="#9999ff"/><stop offset="0.4439" stop-color="#aaaaf8"/><stop offset="0.4454" stop-color="#ccccda"/><stop offset="0.4469" stop-color="#9393ff"/><stop offset="0.4484" stop-color="#b5b5f3"/><stop offset="0.4504" stop-color="#7777ff"/><stop offset="0.4526" stop-color="#9f9feb"/><stop offset="0.4546" stop-color="#d0d0cd"/><stop offset="0.4561" stop-color="#ababf0"/><stop offset="0.4576" stop-color="#b6b6ec"/><stop offset="0.4591" stop-color="#e1e1b9"/><stop offset="0.4601" stop-color="#b4b4f9"/><stop offset="0.4611" stop-color="#9292f5"/><stop offset="0.4621" stop-color="#d4d4c6"/><stop offset="0.4636" stop-color="#8282ff"/><stop offset="0.4656" stop-color="#c9c9cb"/><stop offset="0.4678" stop-color="#8080ff"/><stop offset="0.4703" stop-color="#a7a7f0"/><stop offset="0.4725" stop-color="#a7a7e1"/><stop offset="0.4748" stop-color="#b6b6e8"/><stop offset="0.4775" stop-color="#fcfca9"/><stop offset="0.4805" stop-color="#7373ff"/><stop offset="0.4830" stop-color="#b1b1e8"/><stop offset="0.4850" stop-color="#acacff"/><stop offset="0.4867" stop-color="#e9e9bf"/><stop offset="0.4880" stop-color="#8686ff"/><stop offset="0.4897" stop-color="#d4d4c8"/><stop offset="0.4924" stop-color="#b8b8d2"/><stop offset="0.4944" stop-color="#ffffaa"/><stop offset="0.4957" stop-color="#8383ff"/><stop offset="0.4972" stop-color="#9393f6"/><stop offset="0.4989" stop-color="#8787ff"/><stop offset="0.5004" stop-color="#bdbde7"/><stop offset="0.5019" stop-color="#9f9ff2"/><stop offset="0.5041" stop-color="#9c9cf5"/><stop offset="0.5066" stop-color="#afaff7"/><stop offset="0.5089" stop-color="#9c9cf8"/><stop offset="0.5103" stop-color="#bfbfd7"/><stop offset="0.5118" stop-color="#7e7eff"/><stop offset="0.5141" stop-color="#dadac3"/><stop offset="0.5163" stop-color="#c7c7cf"/><stop offset="0.5178" stop-color="#6b6bff"/><stop offset="0.5188" stop-color="#6b6bff"/><stop offset="0.5198" stop-color="#6b6bff"/><stop offset="0.5208" stop-color="#6b6bff"/><stop offset="0.5225" stop-color="#6b6bff"/><stop offset="0.5248" stop-color="#fafa80"/><stop offset="0.5268" stop-color="#fafa80"/><stop offset="0.5292" stop-color="#c2c2df"/><stop offset="0.5312" stop-color="#b5b5f3"/><stop offset="0.5325" stop-color="#d0d0d1"/><stop offset="0.5345" stop-color="#c5c5e0"/><stop offset="0.5365" stop-color="#dadada"/><stop offset="0.5377" stop-color="#cacadb"/><stop offset="0.5392" stop-color="#d2d2e5"/><stop offset="0.5412" stop-color="#d4d4cf"/><stop offset="0.5427" stop-color="#bdbdf2"/><stop offset="0.5447" stop-color="#e4e4d1"/><stop offset="0.5472" stop-color="#b9b9e2"/><stop offset="0.5489" stop-color="#c2c2e7"/><stop offset="0.5509" stop-color="#d7d7d2"/><stop offset="0.5536" stop-color="#c8c8e0"/><stop offset="0.5559" stop-color="#d0d0d9"/><stop offset="0.5571" stop-color="#cbcbe4"/><stop offset="0.5581" stop-color="#dadabe"/><stop offset="0.5596" stop-color="#cecee2"/><stop offset="0.5613" stop-color="#b7b7f1"/><stop offset="0.5631" stop-color="#d7d7ca"/><stop offset="0.5646" stop-color="#acacec"/><stop offset="0.5656" stop-color="#dadac6"/><stop offset="0.5668" stop-color="#d8d8c9"/><stop offset="0.5690" stop-color="#cbcbd8"/><stop offset="0.5718" stop-color="#cdcdd5"/><stop offset="0.5735" stop-color="#d1d1cd"/><stop offset="0.5748" stop-color="#c7c7d9"/><stop offset="0.5765" stop-color="#c7c7ce"/><stop offset="0.5780" stop-color="#c9c9e0"/><stop offset="0.5790" stop-color="#e1e1c6"/><stop offset="0.5805" stop-color="#a8a8ec"/><stop offset="0.5830" stop-color="#bcbce8"/><stop offset="0.5850" stop-color="#efefbd"/><stop offset="0.5865" stop-color="#ffffa0"/><stop offset="0.5882" stop-color="#e4e4b9"/><stop offset="0.5899" stop-color="#b4b4f0"/><stop offset="0.5924" stop-color="#bbbbe7"/><stop offset="0.5949" stop-color="#e1e1b2"/><stop offset="0.5966" stop-color="#c9c9c5"/><stop offset="0.5981" stop-color="#d6d6d3"/><stop offset="0.5994" stop-color="#d9d9d0"/><stop offset="0.6004" stop-color="#bfbfe4"/><stop offset="0.6024" stop-color="#ccccd0"/><stop offset="0.6046" stop-color="#e6e6b3"/><stop offset="0.6066" stop-color="#c9c9da"/><stop offset="0.6088" stop-color="#efefcc"/><stop offset="0.6113" stop-color="#eaeabd"/><stop offset="0.6133" stop-color="#d7d7d4"/><stop offset="0.6151" stop-color="#c4c4ca"/><stop offset="0.6173" stop-color="#b2b2e7"/><stop offset="0.6188" stop-color="#dcdcd3"/><stop offset="0.6208" stop-color="#9d9df9"/><stop offset="0.6230" stop-color="#bfbfd0"/><stop offset="0.6248" stop-color="#d0d0db"/><stop offset="0.6265" stop-color="#f1f1b5"/><stop offset="0.6282" stop-color="#f9f9b5"/><stop offset="0.6297" stop-color="#ceced0"/><stop offset="0.6307" stop-color="#c6c6c9"/><stop offset="0.6325" stop-color="#cbcbd9"/><stop offset="0.6352" stop-color="#b4b4da"/><stop offset="0.6377" stop-color="#ddddbb"/><stop offset="0.6402" stop-color="#c0c0fe"/><stop offset="0.6424" stop-color="#dbdbce"/><stop offset="0.6444" stop-color="#c7c7de"/><stop offset="0.6464" stop-color="#cfcfcb"/><stop offset="0.6486" stop-color="#cfcfc5"/><stop offset="0.6514" stop-color="#d7d7d2"/><stop offset="0.6534" stop-color="#d2d2d7"/><stop offset="0.6546" stop-color="#dedec1"/><stop offset="0.6561" stop-color="#d3d3c7"/><stop offset="0.6581" stop-color="#cfcfcc"/><stop offset="0.6601" stop-color="#dcdcc7"/><stop offset="0.6626" stop-color="#c3c3d0"/><stop offset="0.6650" stop-color="#cdcde6"/><stop offset="0.6673" stop-color="#dadabd"/><stop offset="0.6693" stop-color="#e9e9ad"/><stop offset="0.6715" stop-color="#c0c0db"/><stop offset="0.6737" stop-color="#d3d3b9"/><stop offset="0.6757" stop-color="#c8c8cc"/><stop offset="0.6775" stop-color="#eaeac6"/><stop offset="0.6792" stop-color="#cfcfcc"/><stop offset="0.6815" stop-color="#fcfca2"/><stop offset="0.6834" stop-color="#cdcdc7"/><stop offset="0.6852" stop-color="#cccccb"/><stop offset="0.6864" stop-color="#ebebba"/><stop offset="0.6877" stop-color="#ddddbb"/><stop offset="0.6894" stop-color="#e0e0c6"/><stop offset="0.6912" stop-color="#d2d2c2"/><stop offset="0.6924" stop-color="#eaeac0"/><stop offset="0.6944" stop-color="#c4c4c6"/><stop offset="0.6964" stop-color="#f0f0ab"/><stop offset="0.6974" stop-color="#fdfdb7"/><stop offset="0.6984" stop-color="#e3e3bc"/><stop offset="0.7004" stop-color="#d1d1e4"/><stop offset="0.7031" stop-color="#dadaba"/><stop offset="0.7056" stop-color="#e8e8b2"/><stop offset="0.7078" stop-color="#e1e1b3"/><stop offset="0.7103" stop-color="#a7a7ea"/><stop offset="0.7130" stop-color="#dfdfb9"/><stop offset="0.7150" stop-color="#d9d9bc"/><stop offset="0.7168" stop-color="#d5d5c8"/><stop offset="0.7188" stop-color="#cfcfbf"/><stop offset="0.7203" stop-color="#f2f2bc"/><stop offset="0.7217" stop-color="#dfdfb1"/><stop offset="0.7235" stop-color="#eeeec0"/><stop offset="0.7257" stop-color="#ebebb9"/><stop offset="0.7285" stop-color="#e5e5b6"/><stop offset="0.7307" stop-color="#e7e7ab"/><stop offset="0.7322" stop-color="#d5d5c5"/><stop offset="0.7332" stop-color="#e6e6b7"/><stop offset="0.7349" stop-color="#e6e6b5"/><stop offset="0.7369" stop-color="#ccccbe"/><stop offset="0.7389" stop-color="#dedebe"/><stop offset="0.7411" stop-color="#efefba"/><stop offset="0.7429" stop-color="#e3e3af"/><stop offset="0.7441" stop-color="#e5e5b9"/><stop offset="0.7456" stop-color="#d1d1bc"/><stop offset="0.7476" stop-color="#e7e7b4"/><stop offset="0.7494" stop-color="#d2d2c0"/><stop offset="0.7508" stop-color="#e2e2bc"/><stop offset="0.7528" stop-color="#e5e5b7"/><stop offset="0.7556" stop-color="#e6e6ba"/><stop offset="0.7576" stop-color="#e9e9ad"/><stop offset="0.7588" stop-color="#eaea9b"/><stop offset="0.7605" stop-color="#eaeaa6"/><stop offset="0.7623" stop-color="#e5e5bd"/><stop offset="0.7638" stop-color="#e4e4ae"/><stop offset="0.7653" stop-color="#dfdfad"/><stop offset="0.7665" stop-color="#e0e0bd"/><stop offset="0.7675" stop-color="#e7e7af"/><stop offset="0.7688" stop-color="#dbdbc3"/><stop offset="0.7700" stop-color="#cdcdbb"/><stop offset="0.7710" stop-color="#ececad"/><stop offset="0.7722" stop-color="#ffff98"/><stop offset="0.7737" stop-color="#ddddaf"/><stop offset="0.7760" stop-color="#d0d0cc"/><stop offset="0.7789" stop-color="#dadaca"/><stop offset="0.7819" stop-color="#d6d6be"/><stop offset="0.7842" stop-color="#e6e6b1"/><stop offset="0.7862" stop-color="#dcdcba"/><stop offset="0.7879" stop-color="#fbfbac"/><stop offset="0.7891" stop-color="#eaeab5"/><stop offset="0.7909" stop-color="#e4e4ba"/><stop offset="0.7934" stop-color="#f9f995"/><stop offset="0.7956" stop-color="#dadabe"/><stop offset="0.7979" stop-color="#e4e4b3"/><stop offset="0.8001" stop-color="#f2f29f"/><stop offset="0.8016" stop-color="#e3e3bb"/><stop offset="0.8028" stop-color="#e1e1ac"/><stop offset="0.8038" stop-color="#f2f2a7"/><stop offset="0.8051" stop-color="#f4f4ad"/><stop offset="0.8068" stop-color="#f0f0a1"/><stop offset="0.8083" stop-color="#ececb0"/><stop offset="0.8095" stop-color="#f1f1b2"/><stop offset="0.8113" stop-color="#eeeea7"/><stop offset="0.8133" stop-color="#e0e0bb"/><stop offset="0.8150" stop-color="#ffff9c"/><stop offset="0.8165" stop-color="#eaea9e"/><stop offset="0.8182" stop-color="#ededaa"/><stop offset="0.8207" stop-color="#dcdcbb"/><stop offset="0.8230" stop-color="#ebebad"/><stop offset="0.8242" stop-color="#fdfda1"/><stop offset="0.8252" stop-color="#f4f4b0"/><stop offset="0.8262" stop-color="#f5f59b"/><stop offset="0.8272" stop-color="#ebeba1"/><stop offset="0.8287" stop-color="#f0f0a1"/><stop offset="0.8312" stop-color="#e3e39d"/><stop offset="0.8334" stop-color="#e8e8b3"/><stop offset="0.8347" stop-color="#ebebad"/><stop offset="0.8359" stop-color="#e5e5b9"/><stop offset="0.8371" stop-color="#ffff9d"/><stop offset="0.8384" stop-color="#e7e7b4"/><stop offset="0.8399" stop-color="#f1f1ab"/><stop offset="0.8414" stop-color="#f7f7a5"/><stop offset="0.8431" stop-color="#f7f7a0"/><stop offset="0.8449" stop-color="#e4e4a3"/><stop offset="0.8461" stop-color="#f3f3b5"/><stop offset="0.8473" stop-color="#f5f5a9"/><stop offset="0.8491" stop-color="#f6f69d"/><stop offset="0.8508" stop-color="#e6e6ae"/><stop offset="0.8526" stop-color="#f4f498"/><stop offset="0.8548" stop-color="#fafa95"/><stop offset="0.8570" stop-color="#e4e4b6"/><stop offset="0.8590" stop-color="#ffff9a"/><stop offset="0.8615" stop-color="#eaeaa6"/><stop offset="0.8635" stop-color="#ededa4"/><stop offset="0.8645" stop-color="#f9f9a2"/><stop offset="0.8657" stop-color="#f5f5a8"/><stop offset="0.8675" stop-color="#e3e3a6"/><stop offset="0.8700" stop-color="#efefa9"/><stop offset="0.8722" stop-color="#ededa0"/><stop offset="0.8735" stop-color="#eaeaa2"/><stop offset="0.8745" stop-color="#f7f7ad"/><stop offset="0.8764" stop-color="#ffff8c"/><stop offset="0.8792" stop-color="#ebeb91"/><stop offset="0.8809" stop-color="#ffff88"/><stop offset="0.8824" stop-color="#ffff9d"/><stop offset="0.8839" stop-color="#f5f5a9"/><stop offset="0.8851" stop-color="#f1f1a7"/><stop offset="0.8874" stop-color="#ffff80"/><stop offset="0.8896" stop-color="#f0f09a"/><stop offset="0.8914" stop-color="#f6f6a0"/><stop offset="0.8931" stop-color="#e9e999"/><stop offset="0.8951" stop-color="#f0f0a5"/><stop offset="0.8971" stop-color="#ffff9a"/><stop offset="0.8983" stop-color="#ffff80"/><stop offset="0.8998" stop-color="#f3f3a8"/><stop offset="0.9018" stop-color="#f3f3a6"/><stop offset="0.9040" stop-color="#ffffa3"/><stop offset="0.9058" stop-color="#ffffa1"/><stop offset="0.9073" stop-color="#ffff9f"/><stop offset="0.9090" stop-color="#e7e79e"/><stop offset="0.9110" stop-color="#e2e2bd"/><stop offset="0.9133" stop-color="#e6e696"/><stop offset="0.9150" stop-color="#f5f59e"/><stop offset="0.9167" stop-color="#d6d6b5"/><stop offset="0.9187" stop-color="#ffff98"/><stop offset="0.9202" stop-color="#f8f898"/><stop offset="0.9212" stop-color="#f6f6a7"/><stop offset="0.9225" stop-color="#dcdc99"/><stop offset="0.9237" stop-color="#f2f293"/><stop offset="0.9247" stop-color="#e9e9a7"/><stop offset="0.9257" stop-color="#f5f5a3"/><stop offset="0.9272" stop-color="#f9f996"/><stop offset="0.9292" stop-color="#ebeb9b"/><stop offset="0.9312" stop-color="#f1f1a9"/><stop offset="0.9331" stop-color="#eaeaa4"/><stop offset="0.9346" stop-color="#f6f6a4"/><stop offset="0.9364" stop-color="#e9e9a4"/><stop offset="0.9381" stop-color="#ebeba1"/><stop offset="0.9391" stop-color="#ebeba4"/><stop offset="0.9409" stop-color="#fbfb9d"/><stop offset="0.9431" stop-color="#f1f192"/><stop offset="0.9451" stop-color="#fafa85"/><stop offset="0.9466" stop-color="#f8f8a5"/><stop offset="0.9476" stop-color="#ffff9a"/><stop offset="0.9488" stop-color="#f0f09f"/><stop offset="0.9506" stop-color="#f0f096"/><stop offset="0.9525" stop-color="#ffff92"/><stop offset="0.9543" stop-color="#f3f3a4"/><stop offset="0.9555" stop-color="#ffff92"/><stop offset="0.9565" stop-color="#eeee9c"/><stop offset="0.9578" stop-color="#f8f8a0"/><stop offset="0.9595" stop-color="#eded96"/><stop offset="0.9613" stop-color="#f0f09e"/><stop offset="0.9635" stop-color="#ffff8c"/><stop offset="0.9655" stop-color="#f4f4a7"/><stop offset="0.9665" stop-color="#f1f189"/><stop offset="0.9685" stop-color="#f0f09c"/><stop offset="0.9712" stop-color="#f5f59a"/><stop offset="0.9729" stop-color="#f2f296"/><stop offset="0.9747" stop-color="#fcfc9e"/><stop offset="0.9767" stop-color="#ffff8d"/><stop offset="0.9787" stop-color="#f8f89c"/><stop offset="0.9804" stop-color="#fefea9"/><stop offset="0.9814" stop-color="#efef98"/><stop offset="0.9824" stop-color="#eded9d"/><stop offset="0.9836" stop-color="#f7f792"/><stop offset="0.9856" stop-color="#eeee9c"/><stop offset="0.9874" stop-color="#fefe99"/><stop offset="0.9894" stop-color="#e6e6a6"/><stop offset="0.9923" stop-color="#f5f599"/><stop offset="0.9948" stop-color="#ffff97"/><stop offset="0.9968" stop-color="#f3f39a"/><stop offset="0.9983" stop-color="#fbfb95"/><stop offset="0.9998" stop-color="#ffff93"/></linearGradient><linearGradient id="h5" x1="0" x2="1" y1="0" y2="0"><stop offset="0.0010" stop-color="#a0a0fc"/><stop offset="0.0027" stop-color="#a4a4f0"/><stop offset="0.0040" stop-color="#a4a4fa"/><stop offset="0.0055" stop-color="#adadf2"/><stop offset="0.0077" stop-color="#a8a8fb"/><stop offset="0.0099" stop-color="#a2a2f3"/><stop offset="0.0117" stop-color="#9b9bef"/><stop offset="0.0132" stop-color="#a7a7ff"/><stop offset="0.0147" stop-color="#9c9cff"/><stop offset="0.0167" stop-color="#acacf1"/><stop offset="0.0194" stop-color="#a0a0f5"/><stop offset="0.0214" stop-color="#9e9ef8"/><stop offset="0.0229" stop-color="#acacf1"/><stop offset="0.0249" stop-color="#b0b0fd"/><stop offset="0.0264" stop-color="#a3a3f9"/><stop offset="0.0281" stop-color="#a4a4f9"/><stop offset="0.0301" stop-color="#ababf0"/><stop offset="0.0318" stop-color="#a3a3fd"/><stop offset="0.0338" stop-color="#a2a2fa"/><stop offset="0.0356" stop-color="#a7a7ff"/><stop offset="0.0368" stop-color="#afaffa"/><stop offset="0.0381" stop-color="#b3b3ec"/><stop offset="0.0398" stop-color="#9393ff"/><stop offset="0.0418" stop-color="#7878ff"/><stop offset="0.0435" stop-color="#ababff"/><stop offset="0.0453" stop-color="#a3a3f0"/><stop offset="0.0478" stop-color="#a6a6fc"/><stop offset="0.0502" stop-color="#b3b3ff"/><stop offset="0.0520" stop-color="#a3a3ff"/><stop offset="0.0535" stop-color="#b7b7f5"/><stop offset="0.0552" stop-color="#9f9fff"/><stop offset="0.0577" stop-color="#a2a2ff"/><stop offset="0.0604" stop-color="#b4b4f3"/><stop offset="0.0624" stop-color="#a5a5fb"/><stop offset="0.0642" stop-color="#aeaefa"/><stop offset="0.0659" stop-color="#b4b4fa"/><stop offset="0.0674" stop-color="#b3b3ee"/><stop offset="0.0694" stop-color="#9c9cff"/><stop offset="0.0719" stop-color="#a4a4fc"/><stop offset="0.0741" stop-color="#a6a6f3"/><stop offset="0.0759" stop-color="#b4b4fd"/><stop offset="0.0771" stop-color="#a2a2fc"/><stop offset="0.0783" stop-color="#bebeec"/><stop offset="0.0796" stop-color="#aaaaff"/><stop offset="0.0811" stop-color="#afafff"/><stop offset="0.0833" stop-color="#ababf7"/><stop offset="0.0851" stop-color="#adadf5"/><stop offset="0.0863" stop-color="#b3b3f6"/><stop offset="0.0878" stop-color="#bdbdf3"/><stop offset="0.0895" stop-color="#a8a8f4"/><stop offset="0.0920" stop-color="#b9b9ff"/><stop offset="0.0943" stop-color="#c2c2ff"/><stop offset="0.0955" stop-color="#b2b2f5"/><stop offset="0.0970" stop-color="#adadf6"/><stop offset="0.0985" stop-color="#b9b9fd"/><stop offset="0.0995" stop-color="#afafff"/><stop offset="0.1010" stop-color="#ababee"/><stop offset="0.1035" stop-color="#b3b3fe"/><stop offset="0.1055" stop-color="#9e9eff"/><stop offset="0.1064" stop-color="#babaf5"/><stop offset="0.1077" stop-color="#b8b8f3"/><stop offset="0.1092" stop-color="#b9b9ff"/><stop offset="0.1107" stop-color="#b5b5f5"/><stop offset="0.1129" stop-color="#b9b9f3"/><stop offset="0.1152" stop-color="#babaff"/><stop offset="0.1166" stop-color="#adadff"/><stop offset="0.1179" stop-color="#a9a9f2"/><stop offset="0.1191" stop-color="#b6b6f1"/><stop offset="0.1206" stop-color="#bcbcfc"/><stop offset="0.1219" stop-color="#b2b2f8"/><stop offset="0.1231" stop-color="#b5b5fc"/><stop offset="0.1249" stop-color="#b7b7fb"/><stop offset="0.1268" stop-color="#b7b7ed"/><stop offset="0.1293" stop-color="#b3b3f8"/><stop offset="0.1318" stop-color="#b6b6ef"/><stop offset="0.1336" stop-color="#b6b6fb"/><stop offset="0.1348" stop-color="#bbbbf0"/><stop offset="0.1360" stop-color="#c3c3f3"/><stop offset="0.1380" stop-color="#cacaf7"/><stop offset="0.1405" stop-color="#b2b2f0"/><stop offset="0.1423" stop-color="#b2b2fd"/><stop offset="0.1435" stop-color="#acacff"/><stop offset="0.1455" stop-color="#b4b4ff"/><stop offset="0.1480" stop-color="#c3c3ed"/><stop offset="0.1505" stop-color="#b5b5f4"/><stop offset="0.1525" stop-color="#b2b2ff"/><stop offset="0.1547" stop-color="#c3c3f7"/><stop offset="0.1577" stop-color="#bebefa"/><stop offset="0.1597" stop-color="#babaf7"/><stop offset="0.1609" stop-color="#bcbcf2"/><stop offset="0.1632" stop-color="#acacfa"/><stop offset="0.1654" stop-color="#bfbffd"/><stop offset="0.1671" stop-color="#aaaaff"/><stop offset="0.1689" stop-color="#b5b5f8"/><stop offset="0.1704" stop-color="#c2c2f7"/><stop offset="0.1716" stop-color="#c5c5f3"/><stop offset="0.1726" stop-color="#d2d2f3"/><stop offset="0.1741" stop-color="#b8b8f3"/><stop offset="0.1763" stop-color="#b8b8ff"/><stop offset="0.1781" stop-color="#bebefd"/><stop offset="0.1791" stop-color="#c6c6f7"/><stop offset="0.1811" stop-color="#c5c5f9"/><stop offset="0.1840" stop-color="#c7c7f5"/><stop offset="0.1865" stop-color="#b5b5f7"/><stop offset="0.1885" stop-color="#cfcfee"/><stop offset="0.1900" stop-color="#b3b3eb"/><stop offset="0.1915" stop-color="#bbbbfa"/><stop offset="0.1930" stop-color="#bbbbf9"/><stop offset="0.1945" stop-color="#b7b7ff"/><stop offset="0.1962" stop-color="#b7b7fa"/><stop offset="0.1977" stop-color="#b8b8fe"/><stop offset="0.1992" stop-color="#c8c8e3"/><stop offset="0.2010" stop-color="#bbbbf3"/><stop offset="0.2032" stop-color="#b5b5fa"/><stop offset="0.2054" stop-color="#bebef5"/><stop offset="0.2074" stop-color="#c2c2f6"/><stop offset="0.2099" stop-color="#cdcdf3"/><stop offset="0.2121" stop-color="#c5c5f4"/><stop offset="0.2136" stop-color="#b5b5f6"/><stop offset="0.2154" stop-color="#c4c4fa"/><stop offset="0.2169" stop-color="#adadff"/><stop offset="0.2184" stop-color="#bfbfed"/><stop offset="0.2204" stop-color="#c5c5f5"/><stop offset="0.2228" stop-color="#9d9dff"/><stop offset="0.2251" stop-color="#c1c1e9"/><stop offset="0.2266" stop-color="#cacaeb"/><stop offset="0.2281" stop-color="#b4b4ff"/><stop offset="0.2293" stop-color="#b9b9ff"/><stop offset="0.2308" stop-color="#bbbbfd"/><stop offset="0.2330" stop-color="#b6b6fa"/><stop offset="0.2358" stop-color="#bfbff7"/><stop offset="0.2380" stop-color="#cdcdee"/><stop offset="0.2398" stop-color="#c0c0f3"/><stop offset="0.2420" stop-color="#c2c2ea"/><stop offset="0.2445" stop-color="#bfbff1"/><stop offset="0.2465" stop-color="#c9c9f4"/><stop offset="0.2482" stop-color="#d5d5d6"/><stop offset="0.2500" stop-color="#cfcff0"/><stop offset="0.2514" stop-color="#b8b8ff"/><stop offset="0.2527" stop-color="#c7c7ef"/><stop offset="0.2539" stop-color="#a7a7ff"/><stop offset="0.2557" stop-color="#a6a6f2"/><stop offset="0.2572" stop-color="#c2c2f2"/><stop offset="0.2584" stop-color="#babafd"/><stop offset="0.2606" stop-color="#c9c9e3"/><stop offset="0.2631" stop-color="#c1c1f6"/><stop offset="0.2646" stop-color="#bbbbfa"/><stop offset="0.2656" stop-color="#bbbbf0"/><stop offset="0.2674" stop-color="#cfcfec"/><stop offset="0.2696" stop-color="#b4b4fe"/><stop offset="0.2713" stop-color="#bdbded"/><stop offset="0.2731" stop-color="#bebef6"/><stop offset="0.2748" stop-color="#c0c0f4"/><stop offset="0.2763" stop-color="#b5b5f1"/><stop offset="0.2776" stop-color="#c3c3f1"/><stop offset="0.2790" stop-color="#c9c9ee"/><stop offset="0.2805" stop-color="#c0c0f6"/><stop offset="0.2823" stop-color="#bdbdf8"/><stop offset="0.2848" stop-color="#c1c1ec"/><stop offset="0.2875" stop-color="#c6c6fd"/><stop offset="0.2900" stop-color="#bfbff2"/><stop offset="0.2915" stop-color="#c1c1ff"/><stop offset="0.2932" stop-color="#b8b8ff"/><stop offset="0.2952" stop-color="#bebef7"/><stop offset="0.2972" stop-color="#bfbffe"/><stop offset="0.2997" stop-color="#cbcbf0"/><stop offset="0.3024" stop-color="#cfcff1"/><stop offset="0.3047" stop-color="#bebef7"/><stop offset="0.3059" stop-color="#b6b6f2"/><stop offset="0.3069" stop-color="#b8b8e8"/><stop offset="0.3084" stop-color="#b6b6f2"/><stop offset="0.3104" stop-color="#c6c6e9"/><stop offset="0.3121" stop-color="#aeaeff"/><stop offset="0.3134" stop-color="#bcbcff"/><stop offset="0.3154" stop-color="#c3c3e7"/><stop offset="0.3181" stop-color="#c4c4f4"/><stop offset="0.3208" stop-color="#c7c7f2"/><stop offset="0.3231" stop-color="#c5c5f4"/><stop offset="0.3248" stop-color="#bcbcff"/><stop offset="0.3263" stop-color="#bebeff"/><stop offset="0.3275" stop-color="#cdcdee"/><stop offset="0.3293" stop-color="#c7c7eb"/><stop offset="0.3313" stop-color="#b6b6fd"/><stop offset="0.3328" stop-color="#c5c5fa"/><stop offset="0.3340" stop-color="#b1b1df"/><stop offset="0.3358" stop-color="#adadff"/><stop offset="0.3375" stop-color="#babaf8"/><stop offset="0.3390" stop-color="#c7c7dc"/><stop offset="0.3402" stop-color="#b1b1f8"/><stop offset="0.3417" stop-color="#9090ff"/><stop offset="0.3435" stop-color="#b2b2e5"/><stop offset="0.3450" stop-color="#b8b8f6"/><stop offset="0.3462" stop-color="#c1c1f2"/><stop offset="0.3472" stop-color="#b7b7eb"/><stop offset="0.3487" stop-color="#c1c1fa"/><stop offset="0.3504" stop-color="#c4c4f6"/><stop offset="0.3519" stop-color="#c0c0ef"/><stop offset="0.3537" stop-color="#9b9bff"/><stop offset="0.3552" stop-color="#c1c1f1"/><stop offset="0.3566" stop-color="#b5b5fd"/><stop offset="0.3591" stop-color="#c8c8ee"/><stop offset="0.3621" stop-color="#bcbcff"/><stop offset="0.3646" stop-color="#bfbff6"/><stop offset="0.3666" stop-color="#c0c0f6"/><stop offset="0.3683" stop-color="#c7c7ef"/><stop offset="0.3698" stop-color="#cdcde5"/><stop offset="0.3711" stop-color="#c1c1e7"/><stop offset="0.3726" stop-color="#c0c0fc"/><stop offset="0.3741" stop-color="#bbbbfc"/><stop offset="0.3750" stop-color="#c0c0f0"/><stop offset="0.3765" stop-color="#c1c1eb"/><stop offset="0.3785" stop-color="#b4b4ff"/><stop offset="0.3810" stop-color="#cdcddc"/><stop offset="0.3835" stop-color="#dcdcf0"/><stop offset="0.3855" stop-color="#b7b7f7"/><stop offset="0.3870" stop-color="#cacaff"/><stop offset="0.3885" stop-color="#b7b7fd"/><stop offset="0.3907" stop-color="#cfcfec"/><stop offset="0.3930" stop-color="#a2a2ff"/><stop offset="0.3944" stop-color="#c8c8ec"/><stop offset="0.3959" stop-color="#bebee5"/><stop offset="0.3977" stop-color="#c9c9eb"/><stop offset="0.3994" stop-color="#b6b6fc"/><stop offset="0.4014" stop-color="#dadad1"/><stop offset="0.4034" stop-color="#b1b1ff"/><stop offset="0.4056" stop-color="#b5b5fe"/><stop offset="0.4074" stop-color="#c2c2f4"/><stop offset="0.4086" stop-color="#dddddd"/><stop offset="0.4101" stop-color="#b1b1ff"/><stop offset="0.4121" stop-color="#b2b2f7"/><stop offset="0.4143" stop-color="#b2b2ff"/><stop offset="0.4161" stop-color="#dfdfed"/><stop offset="0.4181" stop-color="#c6c6da"/><stop offset="0.4203" stop-color="#cacaec"/><stop offset="0.4221" stop-color="#bebeff"/><stop offset="0.4240" stop-color="#d1d1d5"/><stop offset="0.4260" stop-color="#aaaaff"/><stop offset="0.4275" stop-color="#c2c2fd"/><stop offset="0.4298" stop-color="#a1a1ff"/><stop offset="0.4323" stop-color="#d0d0da"/><stop offset="0.4340" stop-color="#bcbcf1"/><stop offset="0.4355" stop-color="#8f8fff"/><stop offset="0.4377" stop-color="#b4b4dc"/><stop offset="0.4407" stop-color="#c5c5f6"/><stop offset="0.4432" stop-color="#f7f7bd"/><stop offset="0.4449" stop-color="#d1d1dd"/><stop offset="0.4462" stop-color="#d7d7d7"/><stop offset="0.4477" stop-color="#c3c3f9"/><stop offset="0.4494" stop-color="#b7b7fb"/><stop offset="0.4509" stop-color="#e2e2df"/><stop offset="0.4526" stop-color="#b5b5f2"/><stop offset="0.4544" stop-color="#ddddd8"/><stop offset="0.4556" stop-color="#e5e5e0"/><stop offset="0.4566" stop-color="#b6b6f9"/><stop offset="0.4581" stop-color="#8d8dff"/><stop offset="0.4599" stop-color="#e7e7d8"/><stop offset="0.4621" stop-color="#8b8bff"/><stop offset="0.4648" stop-color="#ababff"/><stop offset="0.4676" stop-color="#9999ff"/><stop offset="0.4701" stop-color="#c3c3ee"/><stop offset="0.4715" stop-color="#cfcfe1"/><stop offset="0.4728" stop-color="#a5a5ff"/><stop offset="0.4745" stop-color="#b8b8f8"/><stop offset="0.4768" stop-color="#c0c0f8"/><stop offset="0.4785" stop-color="#8c8cfa"/><stop offset="0.4800" stop-color="#8c8cfa"/><stop offset="0.4817" stop-color="#a7a7ff"/><stop offset="0.4835" stop-color="#ececc1"/><stop offset="0.4857" stop-color="#a7a7ff"/><stop offset="0.4875" stop-color="#bcbcff"/><stop offset="0.4890" stop-color="#d2d2d9"/><stop offset="0.4914" stop-color="#ceceed"/><stop offset="0.4939" stop-color="#aeaeff"/><stop offset="0.4964" stop-color="#fdfdba"/><stop offset="0.4994" stop-color="#c7c7e2"/><stop offset="0.5019" stop-color="#a4a4ff"/><stop offset="0.5034" stop-color="#dbdbd3"/><stop offset="0.5044" stop-color="#b4b4f6"/><stop offset="0.5056" stop-color="#dddde1"/><stop offset="0.5069" stop-color="#d7d7e7"/><stop offset="0.5084" stop-color="#fbfbb7"/><stop offset="0.5103" stop-color="#c3c3f0"/><stop offset="0.5118" stop-color="#d5d5e6"/><stop offset="0.5133" stop-color="#ccccf7"/><stop offset="0.5153" stop-color="#fafab6"/><stop offset="0.5171" stop-color="#ffff73"/><stop offset="0.5183" stop-color="#b2b2f2"/><stop offset="0.5193" stop-color="#ffff73"/><stop offset="0.5203" stop-color="#ffff73"/><stop offset="0.5213" stop-color="#8080ff"/><stop offset="0.5230" stop-color="#8080ff"/><stop offset="0.5248" stop-color="#8080ff"/><stop offset="0.5258" stop-color="#d6d6dd"/><stop offset="0.5273" stop-color="#bcbcfe"/><stop offset="0.5295" stop-color="#cdcdf2"/><stop offset="0.5312" stop-color="#c6c6e3"/><stop offset="0.5325" stop-color="#e6e6d5"/><stop offset="0.5340" stop-color="#f5f5bc"/><stop offset="0.5355" stop-color="#ececd3"/><stop offset="0.5367" stop-color="#deded6"/><stop offset="0.5382" stop-color="#dbdbe1"/><stop offset="0.5399" stop-color="#d9d9da"/><stop offset="0.5417" stop-color="#e3e3df"/><stop offset="0.5439" stop-color="#e9e9d4"/><stop offset="0.5467" stop-color="#f8f8cb"/><stop offset="0.5486" stop-color="#d1d1f2"/><stop offset="0.5506" stop-color="#c2c2ee"/><stop offset="0.5526" stop-color="#d8d8da"/><stop offset="0.5546" stop-color="#dfdfca"/><stop offset="0.5571" stop-color="#ffffc7"/><stop offset="0.5591" stop-color="#c2c2ff"/><stop offset="0.5613" stop-color="#dbdbe4"/><stop offset="0.5633" stop-color="#c6c6f0"/><stop offset="0.5648" stop-color="#d1d1f6"/><stop offset="0.5668" stop-color="#dfdfdb"/><stop offset="0.5690" stop-color="#ebebd3"/><stop offset="0.5708" stop-color="#cbcbef"/><stop offset="0.5723" stop-color="#d5d5d8"/><stop offset="0.5740" stop-color="#f6f6d6"/><stop offset="0.5763" stop-color="#bebefc"/><stop offset="0.5787" stop-color="#d5d5db"/><stop offset="0.5815" stop-color="#cacaf0"/><stop offset="0.5842" stop-color="#d9d9de"/><stop offset="0.5867" stop-color="#c6c6f8"/><stop offset="0.5884" stop-color="#b8b8f8"/><stop offset="0.5904" stop-color="#c5c5ef"/><stop offset="0.5927" stop-color="#ebebd2"/><stop offset="0.5942" stop-color="#d6d6e5"/><stop offset="0.5959" stop-color="#e3e3e3"/><stop offset="0.5979" stop-color="#cfcff7"/><stop offset="0.6004" stop-color="#dadad4"/><stop offset="0.6026" stop-color="#d2d2ee"/><stop offset="0.6039" stop-color="#d9d9ef"/><stop offset="0.6054" stop-color="#cfcfdb"/><stop offset="0.6068" stop-color="#d2d2f1"/><stop offset="0.6086" stop-color="#e4e4d5"/><stop offset="0.6103" stop-color="#bbbbf9"/><stop offset="0.6121" stop-color="#d9d9d6"/><stop offset="0.6141" stop-color="#d6d6e3"/><stop offset="0.6155" stop-color="#dadada"/><stop offset="0.6178" stop-color="#d6d6e6"/><stop offset="0.6198" stop-color="#d1d1eb"/><stop offset="0.6208" stop-color="#ececcf"/><stop offset="0.6220" stop-color="#cdcde7"/><stop offset="0.6235" stop-color="#f6f6d4"/><stop offset="0.6252" stop-color="#dededa"/><stop offset="0.6275" stop-color="#e7e7d7"/><stop offset="0.6295" stop-color="#e1e1db"/><stop offset="0.6315" stop-color="#e6e6db"/><stop offset="0.6332" stop-color="#d7d7dc"/><stop offset="0.6352" stop-color="#dcdcdf"/><stop offset="0.6372" stop-color="#e8e8de"/><stop offset="0.6389" stop-color="#f0f0cf"/><stop offset="0.6409" stop-color="#e0e0d8"/><stop offset="0.6429" stop-color="#d3d3dc"/><stop offset="0.6449" stop-color="#bdbdf0"/><stop offset="0.6464" stop-color="#dddddb"/><stop offset="0.6481" stop-color="#d4d4e6"/><stop offset="0.6504" stop-color="#dadae6"/><stop offset="0.6531" stop-color="#ebebd4"/><stop offset="0.6553" stop-color="#c0c0fc"/><stop offset="0.6568" stop-color="#d8d8cf"/><stop offset="0.6588" stop-color="#d6d6de"/><stop offset="0.6606" stop-color="#e6e6d4"/><stop offset="0.6618" stop-color="#e6e6d1"/><stop offset="0.6635" stop-color="#d3d3e7"/><stop offset="0.6653" stop-color="#c0c0f7"/><stop offset="0.6665" stop-color="#d2d2dd"/><stop offset="0.6675" stop-color="#c6c6ff"/><stop offset="0.6695" stop-color="#cacadb"/><stop offset="0.6715" stop-color="#eaead6"/><stop offset="0.6728" stop-color="#e1e1d6"/><stop offset="0.6742" stop-color="#d9d9db"/><stop offset="0.6762" stop-color="#d7d7d3"/><stop offset="0.6780" stop-color="#cecef1"/><stop offset="0.6800" stop-color="#f7f7cb"/><stop offset="0.6829" stop-color="#b8b8ff"/><stop offset="0.6859" stop-color="#d4d4e5"/><stop offset="0.6887" stop-color="#d8d8df"/><stop offset="0.6904" stop-color="#efefca"/><stop offset="0.6914" stop-color="#dadad8"/><stop offset="0.6924" stop-color="#e2e2d4"/><stop offset="0.6936" stop-color="#dcdcda"/><stop offset="0.6956" stop-color="#dfdfee"/><stop offset="0.6974" stop-color="#eaeac9"/><stop offset="0.6986" stop-color="#ddddc5"/><stop offset="0.7009" stop-color="#f6f6c4"/><stop offset="0.7033" stop-color="#d2d2dd"/><stop offset="0.7048" stop-color="#d8d8e1"/><stop offset="0.7063" stop-color="#e0e0d0"/><stop offset="0.7086" stop-color="#dddde5"/><stop offset="0.7111" stop-color="#d1d1e5"/><stop offset="0.7138" stop-color="#e6e6cc"/><stop offset="0.7163" stop-color="#d2d2d9"/><stop offset="0.7178" stop-color="#f0f0ca"/><stop offset="0.7190" stop-color="#c3c3f5"/><stop offset="0.7203" stop-color="#dddddd"/><stop offset="0.7212" stop-color="#d6d6db"/><stop offset="0.7225" stop-color="#d6d6e5"/><stop offset="0.7242" stop-color="#e6e6c9"/><stop offset="0.7262" stop-color="#f1f1c1"/><stop offset="0.7280" stop-color="#d6d6d9"/><stop offset="0.7297" stop-color="#efefcf"/><stop offset="0.7314" stop-color="#c6c6de"/><stop offset="0.7337" stop-color="#d9d9d2"/><stop offset="0.7359" stop-color="#d3d3df"/><stop offset="0.7372" stop-color="#eeeebf"/><stop offset="0.7387" stop-color="#efefb5"/><stop offset="0.7404" stop-color="#f2f2c2"/><stop offset="0.7421" stop-color="#d5d5df"/><stop offset="0.7446" stop-color="#e7e7c5"/><stop offset="0.7469" stop-color="#dcdcbc"/><stop offset="0.7481" stop-color="#e4e4d2"/><stop offset="0.7496" stop-color="#e9e9cc"/><stop offset="0.7513" stop-color="#f1f1c4"/><stop offset="0.7531" stop-color="#ededcd"/><stop offset="0.7551" stop-color="#f1f1d0"/><stop offset="0.7576" stop-color="#e7e7c6"/><stop offset="0.7596" stop-color="#e0e0d8"/><stop offset="0.7610" stop-color="#eaeacb"/><stop offset="0.7628" stop-color="#dfdfcf"/><stop offset="0.7650" stop-color="#eaeac1"/><stop offset="0.7680" stop-color="#ececc4"/><stop offset="0.7705" stop-color="#e5e5a5"/><stop offset="0.7727" stop-color="#e0e0cd"/><stop offset="0.7750" stop-color="#d6d6d0"/><stop offset="0.7770" stop-color="#f4f4aa"/><stop offset="0.7789" stop-color="#dfdfda"/><stop offset="0.7809" stop-color="#e3e3c9"/><stop offset="0.7829" stop-color="#f8f8bf"/><stop offset="0.7852" stop-color="#fafac0"/><stop offset="0.7879" stop-color="#cacad7"/><stop offset="0.7904" stop-color="#d8d8e6"/><stop offset="0.7921" stop-color="#f5f5b8"/><stop offset="0.7936" stop-color="#e4e4c9"/><stop offset="0.7951" stop-color="#e1e1c7"/><stop offset="0.7964" stop-color="#e6e6c6"/><stop offset="0.7974" stop-color="#f1f1c7"/><stop offset="0.7988" stop-color="#d8d8d3"/><stop offset="0.8006" stop-color="#dbdbd0"/><stop offset="0.8021" stop-color="#c1c1f8"/><stop offset="0.8041" stop-color="#ceced0"/><stop offset="0.8058" stop-color="#f2f2b9"/><stop offset="0.8071" stop-color="#e0e0dc"/><stop offset="0.8088" stop-color="#ececb9"/><stop offset="0.8103" stop-color="#ececbc"/><stop offset="0.8113" stop-color="#efefbd"/><stop offset="0.8128" stop-color="#e3e3cd"/><stop offset="0.8143" stop-color="#eeeebf"/><stop offset="0.8155" stop-color="#e9e9b7"/><stop offset="0.8173" stop-color="#e3e3b8"/><stop offset="0.8197" stop-color="#f0f0bc"/><stop offset="0.8220" stop-color="#d8d8c9"/><stop offset="0.8242" stop-color="#e5e5c9"/><stop offset="0.8269" stop-color="#dedecb"/><stop offset="0.8297" stop-color="#dfdfd2"/><stop offset="0.8322" stop-color="#d8d8c0"/><stop offset="0.8339" stop-color="#e5e5c2"/><stop offset="0.8352" stop-color="#ddddb7"/><stop offset="0.8362" stop-color="#f8f8b0"/><stop offset="0.8376" stop-color="#eaeabd"/><stop offset="0.8394" stop-color="#ffffb5"/><stop offset="0.8416" stop-color="#e6e6c5"/><stop offset="0.8446" stop-color="#f4f4c1"/><stop offset="0.8466" stop-color="#ffffbb"/><stop offset="0.8476" stop-color="#ebebb7"/><stop offset="0.8488" stop-color="#e6e6cb"/><stop offset="0.8511" stop-color="#f2f2c3"/><stop offset="0.8538" stop-color="#ddddd0"/><stop offset="0.8558" stop-color="#eeeec0"/><stop offset="0.8575" stop-color="#f4f4ca"/><stop offset="0.8595" stop-color="#e5e5db"/><stop offset="0.8610" stop-color="#e1e1c1"/><stop offset="0.8623" stop-color="#e7e7c3"/><stop offset="0.8635" stop-color="#e5e5cb"/><stop offset="0.8653" stop-color="#e7e7c9"/><stop offset="0.8672" stop-color="#f4f4b8"/><stop offset="0.8690" stop-color="#dcdcc2"/><stop offset="0.8712" stop-color="#f8f8b8"/><stop offset="0.8737" stop-color="#dadac6"/><stop offset="0.8759" stop-color="#f3f3b2"/><stop offset="0.8774" stop-color="#e9e9c9"/><stop offset="0.8792" stop-color="#efefbe"/><stop offset="0.8819" stop-color="#ffffa9"/><stop offset="0.8849" stop-color="#eaeab8"/><stop offset="0.8876" stop-color="#e6e6cb"/><stop offset="0.8894" stop-color="#ebebb9"/><stop offset="0.8906" stop-color="#f5f5be"/><stop offset="0.8926" stop-color="#e2e2c5"/><stop offset="0.8948" stop-color="#e8e8a7"/><stop offset="0.8973" stop-color="#f9f9b6"/><stop offset="0.8996" stop-color="#d9d9d0"/><stop offset="0.9011" stop-color="#e6e6cd"/><stop offset="0.9028" stop-color="#ffff9c"/><stop offset="0.9050" stop-color="#fbfbb7"/><stop offset="0.9070" stop-color="#dfdfd4"/><stop offset="0.9083" stop-color="#e4e4c0"/><stop offset="0.9095" stop-color="#ededbe"/><stop offset="0.9108" stop-color="#f4f4a7"/><stop offset="0.9125" stop-color="#e2e2cf"/><stop offset="0.9147" stop-color="#ffffb0"/><stop offset="0.9165" stop-color="#ffff99"/><stop offset="0.9180" stop-color="#e4e4be"/><stop offset="0.9192" stop-color="#fdfdb8"/><stop offset="0.9207" stop-color="#dadac4"/><stop offset="0.9225" stop-color="#ececaf"/><stop offset="0.9239" stop-color="#e3e3cb"/><stop offset="0.9254" stop-color="#dfdfb9"/><stop offset="0.9274" stop-color="#cecee3"/><stop offset="0.9294" stop-color="#f0f0b5"/><stop offset="0.9309" stop-color="#dedec6"/><stop offset="0.9322" stop-color="#fcfcb5"/><stop offset="0.9331" stop-color="#ededdd"/><stop offset="0.9344" stop-color="#f4f4b2"/><stop offset="0.9361" stop-color="#f1f1b9"/><stop offset="0.9381" stop-color="#e3e3c3"/><stop offset="0.9399" stop-color="#e9e9c1"/><stop offset="0.9411" stop-color="#e4e4c5"/><stop offset="0.9431" stop-color="#f5f5b0"/><stop offset="0.9456" stop-color="#f9f9ac"/><stop offset="0.9478" stop-color="#ececc4"/><stop offset="0.9496" stop-color="#ececae"/><stop offset="0.9506" stop-color="#f7f7b2"/><stop offset="0.9523" stop-color="#f8f8b3"/><stop offset="0.9545" stop-color="#f5f5c6"/><stop offset="0.9568" stop-color="#f5f5c4"/><stop offset="0.9585" stop-color="#f7f7b4"/><stop offset="0.9605" stop-color="#fefeb7"/><stop offset="0.9625" stop-color="#fafaac"/><stop offset="0.9635" stop-color="#e6e6aa"/><stop offset="0.9645" stop-color="#fdfdb9"/><stop offset="0.9657" stop-color="#f9f9c3"/><stop offset="0.9672" stop-color="#efefbd"/><stop offset="0.9687" stop-color="#e7e7bd"/><stop offset="0.9700" stop-color="#ffffc3"/><stop offset="0.9712" stop-color="#ffffb6"/><stop offset="0.9732" stop-color="#f7f7c8"/><stop offset="0.9757" stop-color="#f7f7b1"/><stop offset="0.9779" stop-color="#f6f6ba"/><stop offset="0.9794" stop-color="#e5e5cf"/><stop offset="0.9809" stop-color="#f0f0bc"/><stop offset="0.9834" stop-color="#f6f6b1"/><stop offset="0.9859" stop-color="#f3f3c3"/><stop offset="0.9881" stop-color="#fcfca3"/><stop offset="0.9908" stop-color="#eeeeb6"/><stop offset="0.9931" stop-color="#f9f9ae"/><stop offset="0.9946" stop-color="#f3f3b5"/><stop offset="0.9963" stop-color="#f0f0a6"/><stop offset="0.9981" stop-color="#f4f4c4"/><stop offset="0.9996" stop-color="#e6e6bb"/></linearGradient><linearGradient id="h6" x1="0" x2="1" y1="0" y2="0"><stop offset="0.0007" stop-color="#9696fe"/><stop offset="0.0025" stop-color="#8b8bfd"/><stop offset="0.0040" stop-color="#9f9fed"/><stop offset="0.0050" stop-color="#9494fa"/><stop offset="0.0060" stop-color="#9494ff"/><stop offset="0.0070" stop-color="#8f8ff2"/><stop offset="0.0087" stop-color="#8d8dff"/><stop offset="0.0109" stop-color="#8d8dff"/><stop offset="0.0127" stop-color="#9797f1"/><stop offset="0.0144" stop-color="#8c8cff"/><stop offset="0.0162" stop-color="#a6a6f5"/><stop offset="0.0177" stop-color="#8d8dff"/><stop offset="0.0196" stop-color="#9999ee"/><stop offset="0.0216" stop-color="#9898fb"/><stop offset="0.0229" stop-color="#9595f0"/><stop offset="0.0241" stop-color="#9191f8"/><stop offset="0.0256" stop-color="#8f8ff8"/><stop offset="0.0269" stop-color="#8f8fff"/><stop offset="0.0288" stop-color="#9a9af2"/><stop offset="0.0313" stop-color="#9a9afd"/><stop offset="0.0336" stop-color="#9a9aff"/><stop offset="0.0353" stop-color="#8b8bfe"/><stop offset="0.0366" stop-color="#8a8afb"/><stop offset="0.0378" stop-color="#9595fc"/><stop offset="0.0390" stop-color="#9292f2"/><stop offset="0.0405" stop-color="#9a9aed"/><stop offset="0.0423" stop-color="#9a9afc"/><stop offset="0.0448" stop-color="#8686ff"/><stop offset="0.0473" stop-color="#9494fc"/><stop offset="0.0490" stop-color="#8e8eff"/><stop offset="0.0502" stop-color="#9494f6"/><stop offset="0.0517" stop-color="#a2a2f7"/><stop offset="0.0537" stop-color="#9f9fef"/><stop offset="0.0557" stop-color="#9b9bf2"/><stop offset="0.0577" stop-color="#9d9df5"/><stop offset="0.0602" stop-color="#b0b0ec"/><stop offset="0.0624" stop-color="#9494fa"/><stop offset="0.0647" stop-color="#9090ff"/><stop offset="0.0676" stop-color="#9292fb"/><stop offset="0.0696" stop-color="#9393f8"/><stop offset="0.0709" stop-color="#8e8eec"/><stop offset="0.0726" stop-color="#9c9cea"/><stop offset="0.0751" stop-color="#9e9ef3"/><stop offset="0.0771" stop-color="#8c8cff"/><stop offset="0.0786" stop-color="#8a8af9"/><stop offset="0.0811" stop-color="#9999ff"/><stop offset="0.0841" stop-color="#8b8bfb"/><stop offset="0.0861" stop-color="#9797ff"/><stop offset="0.0880" stop-color="#8f8fe6"/><stop offset="0.0910" stop-color="#9797fe"/><stop offset="0.0940" stop-color="#9e9ef7"/><stop offset="0.0965" stop-color="#a0a0fb"/><stop offset="0.0985" stop-color="#9e9efd"/><stop offset="0.1010" stop-color="#a0a0f3"/><stop offset="0.1035" stop-color="#b3b3ec"/><stop offset="0.1050" stop-color="#9d9dee"/><stop offset="0.1059" stop-color="#9393ff"/><stop offset="0.1079" stop-color="#a4a4f3"/><stop offset="0.1099" stop-color="#9494f9"/><stop offset="0.1114" stop-color="#a9a9f7"/><stop offset="0.1134" stop-color="#9f9fff"/><stop offset="0.1159" stop-color="#a3a3ea"/><stop offset="0.1186" stop-color="#a8a8f2"/><stop offset="0.1214" stop-color="#aaaafc"/><stop offset="0.1234" stop-color="#a2a2f5"/><stop offset="0.1249" stop-color="#9595f8"/><stop offset="0.1271" stop-color="#b8b8d5"/><stop offset="0.1293" stop-color="#9191f1"/><stop offset="0.1308" stop-color="#a3a3fd"/><stop offset="0.1326" stop-color="#acacf9"/><stop offset="0.1343" stop-color="#8b8bfe"/><stop offset="0.1353" stop-color="#9f9fe3"/><stop offset="0.1365" stop-color="#b0b0f7"/><stop offset="0.1388" stop-color="#adadf5"/><stop offset="0.1408" stop-color="#9e9eff"/><stop offset="0.1423" stop-color="#7777ff"/><stop offset="0.1447" stop-color="#9393ff"/><stop offset="0.1477" stop-color="#9898f3"/><stop offset="0.1502" stop-color="#9a9af9"/><stop offset="0.1520" stop-color="#a2a2f6"/><stop offset="0.1532" stop-color="#a3a3ea"/><stop offset="0.1549" stop-color="#adadf0"/><stop offset="0.1567" stop-color="#9999f6"/><stop offset="0.1577" stop-color="#b0b0e4"/><stop offset="0.1589" stop-color="#a8a8f5"/><stop offset="0.1609" stop-color="#9797ff"/><stop offset="0.1627" stop-color="#b1b1e4"/><stop offset="0.1646" stop-color="#8c8cfe"/><stop offset="0.1671" stop-color="#9c9cfe"/><stop offset="0.1694" stop-color="#9d9dff"/><stop offset="0.1711" stop-color="#aeaee9"/><stop offset="0.1729" stop-color="#acace9"/><stop offset="0.1748" stop-color="#a7a7ed"/><stop offset="0.1768" stop-color="#acacf8"/><stop offset="0.1788" stop-color="#a7a7ef"/><stop offset="0.1806" stop-color="#a5a5fa"/><stop offset="0.1823" stop-color="#a4a4e6"/><stop offset="0.1840" stop-color="#a1a1f6"/><stop offset="0.1860" stop-color="#9696f8"/><stop offset="0.1878" stop-color="#a4a4f4"/><stop offset="0.1893" stop-color="#ababf3"/><stop offset="0.1905" stop-color="#a0a0ef"/><stop offset="0.1915" stop-color="#9393ff"/><stop offset="0.1930" stop-color="#b8b8ea"/><stop offset="0.1947" stop-color="#a4a4ee"/><stop offset="0.1960" stop-color="#a2a2ec"/><stop offset="0.1972" stop-color="#9898f7"/><stop offset="0.1992" stop-color="#a7a7f5"/><stop offset="0.2015" stop-color="#8b8bfd"/><stop offset="0.2029" stop-color="#b0b0ed"/><stop offset="0.2042" stop-color="#aaaae9"/><stop offset="0.2057" stop-color="#8282ff"/><stop offset="0.2072" stop-color="#9c9cff"/><stop offset="0.2087" stop-color="#a7a7f3"/><stop offset="0.2099" stop-color="#a1a1ee"/><stop offset="0.2114" stop-color="#a1a1f6"/><stop offset="0.2131" stop-color="#a0a0e7"/><stop offset="0.2154" stop-color="#a8a8f3"/><stop offset="0.2176" stop-color="#9f9ff2"/><stop offset="0.2194" stop-color="#9f9fff"/><stop offset="0.2211" stop-color="#b5b5e7"/><stop offset="0.2226" stop-color="#9898ff"/><stop offset="0.2241" stop-color="#c7c7e8"/><stop offset="0.2256" stop-color="#9898ff"/><stop offset="0.2268" stop-color="#a4a4f7"/><stop offset="0.2278" stop-color="#b0b0ec"/><stop offset="0.2291" stop-color="#a2a2f1"/><stop offset="0.2306" stop-color="#afaff6"/><stop offset="0.2323" stop-color="#a7a7f1"/><stop offset="0.2343" stop-color="#a1a1fa"/><stop offset="0.2358" stop-color="#a1a1fa"/><stop offset="0.2375" stop-color="#aaaaf3"/><stop offset="0.2393" stop-color="#ababec"/><stop offset="0.2410" stop-color="#ababf3"/><stop offset="0.2427" stop-color="#aeaeec"/><stop offset="0.2437" stop-color="#b1b1f2"/><stop offset="0.2447" stop-color="#9f9fee"/><stop offset="0.2462" stop-color="#b1b1ec"/><stop offset="0.2482" stop-color="#9696ef"/><stop offset="0.2500" stop-color="#8686ff"/><stop offset="0.2517" stop-color="#adade5"/><stop offset="0.2532" stop-color="#acace4"/><stop offset="0.2544" stop-color="#9f9ffc"/><stop offset="0.2559" stop-color="#b5b5f7"/><stop offset="0.2582" stop-color="#adadf5"/><stop offset="0.2611" stop-color="#b5b5e2"/><stop offset="0.2641" stop-color="#b8b8e1"/><stop offset="0.2664" stop-color="#9f9ffa"/><stop offset="0.2681" stop-color="#b5b5e8"/><stop offset="0.2701" stop-color="#9a9af9"/><stop offset="0.2718" stop-color="#bebee7"/><stop offset="0.2733" stop-color="#b6b6df"/><stop offset="0.2748" stop-color="#9797ef"/><stop offset="0.2768" stop-color="#9898ff"/><stop offset="0.2793" stop-color="#b0b0f4"/><stop offset="0.2810" stop-color="#a3a3fe"/><stop offset="0.2825" stop-color="#a3a3ff"/><stop offset="0.2843" stop-color="#9c9cfd"/><stop offset="0.2858" stop-color="#9999f7"/><stop offset="0.2873" stop-color="#a9a9fc"/><stop offset="0.2895" stop-color="#a5a5ff"/><stop offset="0.2915" stop-color="#afafe9"/><stop offset="0.2925" stop-color="#b5b5e8"/><stop offset="0.2935" stop-color="#b1b1f0"/><stop offset="0.2955" stop-color="#b6b6eb"/><stop offset="0.2980" stop-color="#9f9fff"/><stop offset="0.2999" stop-color="#aaaadb"/><stop offset="0.3014" stop-color="#acacee"/><stop offset="0.3024" stop-color="#c2c2e2"/><stop offset="0.3039" stop-color="#b7b7ea"/><stop offset="0.3062" stop-color="#a7a7fb"/><stop offset="0.3079" stop-color="#adade3"/><stop offset="0.3091" stop-color="#b1b1ec"/><stop offset="0.3104" stop-color="#a7a7f2"/><stop offset="0.3119" stop-color="#a9a9fb"/><stop offset="0.3139" stop-color="#a0a0fb"/><stop offset="0.3159" stop-color="#aeaee1"/><stop offset="0.3181" stop-color="#acacec"/><stop offset="0.3201" stop-color="#a5a5f3"/><stop offset="0.3213" stop-color="#a0a0ec"/><stop offset="0.3226" stop-color="#b6b6e4"/><stop offset="0.3248" stop-color="#bbbbdf"/><stop offset="0.3268" stop-color="#afaffd"/><stop offset="0.3280" stop-color="#c2c2d8"/><stop offset="0.3295" stop-color="#aeaef0"/><stop offset="0.3310" stop-color="#afafe7"/><stop offset="0.3328" stop-color="#a3a3ef"/><stop offset="0.3350" stop-color="#a5a5ed"/><stop offset="0.3375" stop-color="#acace5"/><stop offset="0.3400" stop-color="#aeaef0"/><stop offset="0.3420" stop-color="#c5c5d9"/><stop offset="0.3440" stop-color="#b8b8e1"/><stop offset="0.3457" stop-color="#9696f8"/><stop offset="0.3472" stop-color="#afafeb"/><stop offset="0.3487" stop-color="#afafe7"/><stop offset="0.3504" stop-color="#b3b3f3"/><stop offset="0.3522" stop-color="#9e9ef4"/><stop offset="0.3532" stop-color="#aaaae6"/><stop offset="0.3544" stop-color="#b6b6f2"/><stop offset="0.3559" stop-color="#8c8cff"/><stop offset="0.3571" stop-color="#cbcbd3"/><stop offset="0.3584" stop-color="#b5b5e4"/><stop offset="0.3601" stop-color="#adaddf"/><stop offset="0.3616" stop-color="#8181ff"/><stop offset="0.3629" stop-color="#a0a0ee"/><stop offset="0.3649" stop-color="#c3c3d4"/><stop offset="0.3676" stop-color="#a6a6ef"/><stop offset="0.3703" stop-color="#b1b1ef"/><stop offset="0.3726" stop-color="#a2a2ea"/><stop offset="0.3743" stop-color="#a8a8e2"/><stop offset="0.3758" stop-color="#a7a7ea"/><stop offset="0.3773" stop-color="#a6a6f7"/><stop offset="0.3790" stop-color="#a2a2fd"/><stop offset="0.3808" stop-color="#babae9"/><stop offset="0.3823" stop-color="#a9a9f5"/><stop offset="0.3840" stop-color="#b0b0f3"/><stop offset="0.3860" stop-color="#c0c0dd"/><stop offset="0.3880" stop-color="#b7b7e7"/><stop offset="0.3902" stop-color="#b9b9e3"/><stop offset="0.3922" stop-color="#c6c6e2"/><stop offset="0.3935" stop-color="#7e7eff"/><stop offset="0.3947" stop-color="#b8b8f3"/><stop offset="0.3967" stop-color="#a8a8ef"/><stop offset="0.3992" stop-color="#a1a1ff"/><stop offset="0.4009" stop-color="#8b8bff"/><stop offset="0.4024" stop-color="#aaaaf0"/><stop offset="0.4041" stop-color="#b4b4ee"/><stop offset="0.4064" stop-color="#8080ff"/><stop offset="0.4084" stop-color="#b5b5da"/><stop offset="0.4099" stop-color="#c2c2ca"/><stop offset="0.4121" stop-color="#b5b5e9"/><stop offset="0.4141" stop-color="#bbbbd6"/><stop offset="0.4156" stop-color="#e3e3c1"/><stop offset="0.4168" stop-color="#9f9ff6"/><stop offset="0.4183" stop-color="#d4d4ca"/><stop offset="0.4201" stop-color="#9d9dfb"/><stop offset="0.4218" stop-color="#c8c8e5"/><stop offset="0.4235" stop-color="#9595ff"/><stop offset="0.4253" stop-color="#deded6"/><stop offset="0.4273" stop-color="#9292f7"/><stop offset="0.4290" stop-color="#c1c1d0"/><stop offset="0.4313" stop-color="#b1b1e9"/><stop offset="0.4340" stop-color="#9696f0"/><stop offset="0.4362" stop-color="#b1b1e6"/><stop offset="0.4387" stop-color="#7070ff"/><stop offset="0.4410" stop-color="#c4c4e3"/><stop offset="0.4429" stop-color="#bebef1"/><stop offset="0.4454" stop-color="#a3a3f6"/><stop offset="0.4474" stop-color="#b2b2f3"/><stop offset="0.4494" stop-color="#8585ff"/><stop offset="0.4517" stop-color="#8585ff"/><stop offset="0.4531" stop-color="#c8c8f2"/><stop offset="0.4551" stop-color="#8080ff"/><stop offset="0.4581" stop-color="#bdbdee"/><stop offset="0.4606" stop-color="#6b6bff"/><stop offset="0.4631" stop-color="#d2d2d9"/><stop offset="0.4661" stop-color="#9e9eff"/><stop offset="0.4686" stop-color="#9494ff"/><stop offset="0.4706" stop-color="#c0c0dd"/><stop offset="0.4720" stop-color="#d7d7bf"/><stop offset="0.4730" stop-color="#b6b6e6"/><stop offset="0.4745" stop-color="#a8a8ef"/><stop offset="0.4770" stop-color="#e3e3c0"/><stop offset="0.4795" stop-color="#7373ff"/><stop offset="0.4815" stop-color="#b7b7d9"/><stop offset="0.4835" stop-color="#c8c8d0"/><stop offset="0.4855" stop-color="#ababee"/><stop offset="0.4875" stop-color="#7676ff"/><stop offset="0.4895" stop-color="#aeaeeb"/><stop offset="0.4909" stop-color="#d1d1d0"/><stop offset="0.4924" stop-color="#babaeb"/><stop offset="0.4942" stop-color="#cdcddb"/><stop offset="0.4959" stop-color="#d5d5d4"/><stop offset="0.4984" stop-color="#a2a2ec"/><stop offset="0.5011" stop-color="#a6a6fb"/><stop offset="0.5029" stop-color="#a6a6e8"/><stop offset="0.5049" stop-color="#9191ff"/><stop offset="0.5074" stop-color="#c1c1d3"/><stop offset="0.5094" stop-color="#aeaef6"/><stop offset="0.5108" stop-color="#c3c3df"/><stop offset="0.5123" stop-color="#6c6cff"/><stop offset="0.5143" stop-color="#d6d6cf"/><stop offset="0.5168" stop-color="#6b6bff"/><stop offset="0.5193" stop-color="#6b6bff"/><stop offset="0.5215" stop-color="#6b6bff"/><stop offset="0.5233" stop-color="#6b6bff"/><stop offset="0.5245" stop-color="#6b6bff"/><stop offset="0.5258" stop-color="#6b6bff"/><stop offset="0.5270" stop-color="#d4d4cc"/><stop offset="0.5285" stop-color="#c1c1d5"/><stop offset="0.5297" stop-color="#b8b8db"/><stop offset="0.5315" stop-color="#bebee1"/><stop offset="0.5337" stop-color="#dadacf"/><stop offset="0.5362" stop-color="#a3a3fd"/><stop offset="0.5382" stop-color="#c8c8d8"/><stop offset="0.5392" stop-color="#dedeb7"/><stop offset="0.5402" stop-color="#bfbfe0"/><stop offset="0.5414" stop-color="#c7c7d8"/><stop offset="0.5427" stop-color="#d1d1dd"/><stop offset="0.5447" stop-color="#d5d5cc"/><stop offset="0.5472" stop-color="#e2e2b8"/><stop offset="0.5494" stop-color="#9d9deb"/><stop offset="0.5514" stop-color="#c1c1dc"/><stop offset="0.5531" stop-color="#ceced2"/><stop offset="0.5554" stop-color="#c5c5e2"/><stop offset="0.5574" stop-color="#d0d0c8"/><stop offset="0.5588" stop-color="#cfcfcf"/><stop offset="0.5606" stop-color="#e7e7b2"/><stop offset="0.5626" stop-color="#b4b4d8"/><stop offset="0.5643" stop-color="#bdbdd4"/><stop offset="0.5661" stop-color="#dadac6"/><stop offset="0.5675" stop-color="#c4c4d3"/><stop offset="0.5690" stop-color="#d6d6c7"/><stop offset="0.5708" stop-color="#aaaadd"/><stop offset="0.5723" stop-color="#c5c5de"/><stop offset="0.5740" stop-color="#cececa"/><stop offset="0.5763" stop-color="#c2c2c8"/><stop offset="0.5780" stop-color="#c8c8d3"/><stop offset="0.5792" stop-color="#d4d4d0"/><stop offset="0.5807" stop-color="#eeeeae"/><stop offset="0.5825" stop-color="#bfbfd9"/><stop offset="0.5845" stop-color="#bebeed"/><stop offset="0.5869" stop-color="#adadd4"/><stop offset="0.5892" stop-color="#dadac9"/><stop offset="0.5904" stop-color="#e9e9b2"/><stop offset="0.5919" stop-color="#c1c1d3"/><stop offset="0.5934" stop-color="#dfdfbb"/><stop offset="0.5944" stop-color="#d6d6b4"/><stop offset="0.5959" stop-color="#bbbbdb"/><stop offset="0.5979" stop-color="#e7e7b9"/><stop offset="0.6004" stop-color="#b7b7db"/><stop offset="0.6029" stop-color="#d1d1c9"/><stop offset="0.6044" stop-color="#ddddb1"/><stop offset="0.6058" stop-color="#b1b1e0"/><stop offset="0.6081" stop-color="#e0e0be"/><stop offset="0.6103" stop-color="#dcdcc4"/><stop offset="0.6123" stop-color="#ffff85"/><stop offset="0.6141" stop-color="#d8d8c6"/><stop offset="0.6158" stop-color="#d9d9ca"/><stop offset="0.6175" stop-color="#c5c5d4"/><stop offset="0.6188" stop-color="#dedebc"/><stop offset="0.6198" stop-color="#cbcbd0"/><stop offset="0.6210" stop-color="#a6a6e7"/><stop offset="0.6228" stop-color="#d1d1c8"/><stop offset="0.6248" stop-color="#b6b6e0"/><stop offset="0.6267" stop-color="#bfbfcd"/><stop offset="0.6285" stop-color="#c3c3da"/><stop offset="0.6297" stop-color="#d2d2c1"/><stop offset="0.6310" stop-color="#d2d2c5"/><stop offset="0.6330" stop-color="#bfbfdb"/><stop offset="0.6357" stop-color="#e0e0b7"/><stop offset="0.6384" stop-color="#ddddb4"/><stop offset="0.6402" stop-color="#b7b7d1"/><stop offset="0.6414" stop-color="#dcdcbf"/><stop offset="0.6437" stop-color="#b2b2d1"/><stop offset="0.6459" stop-color="#e4e4ab"/><stop offset="0.6474" stop-color="#e6e6b2"/><stop offset="0.6494" stop-color="#e0e0bf"/><stop offset="0.6519" stop-color="#aaaae9"/><stop offset="0.6536" stop-color="#dfdfc2"/><stop offset="0.6551" stop-color="#ababd9"/><stop offset="0.6571" stop-color="#cfcfbc"/><stop offset="0.6588" stop-color="#e7e7a3"/><stop offset="0.6601" stop-color="#c5c5c8"/><stop offset="0.6621" stop-color="#f5f59f"/><stop offset="0.6640" stop-color="#d3d3be"/><stop offset="0.6653" stop-color="#c0c0de"/><stop offset="0.6670" stop-color="#e3e3ab"/><stop offset="0.6688" stop-color="#d2d2ca"/><stop offset="0.6703" stop-color="#d7d7bb"/><stop offset="0.6723" stop-color="#cacab9"/><stop offset="0.6740" stop-color="#b0b0de"/><stop offset="0.6757" stop-color="#d8d8c1"/><stop offset="0.6780" stop-color="#e7e7b2"/><stop offset="0.6805" stop-color="#d3d3b8"/><stop offset="0.6827" stop-color="#d4d4bb"/><stop offset="0.6842" stop-color="#fefe9c"/><stop offset="0.6859" stop-color="#ccccc1"/><stop offset="0.6879" stop-color="#c8c8b6"/><stop offset="0.6904" stop-color="#ededa0"/><stop offset="0.6926" stop-color="#e2e2a4"/><stop offset="0.6944" stop-color="#dcdcb7"/><stop offset="0.6959" stop-color="#ceceba"/><stop offset="0.6974" stop-color="#e2e2a2"/><stop offset="0.6994" stop-color="#fafaa3"/><stop offset="0.7009" stop-color="#c3c3cb"/><stop offset="0.7019" stop-color="#f6f6ae"/><stop offset="0.7028" stop-color="#d3d3b1"/><stop offset="0.7038" stop-color="#c9c9c8"/><stop offset="0.7051" stop-color="#e7e7a3"/><stop offset="0.7071" stop-color="#dcdcb0"/><stop offset="0.7096" stop-color="#c9c9b7"/><stop offset="0.7118" stop-color="#dadab5"/><stop offset="0.7135" stop-color="#d4d4a9"/><stop offset="0.7148" stop-color="#e3e3ad"/><stop offset="0.7165" stop-color="#d1d1c0"/><stop offset="0.7185" stop-color="#d6d6b8"/><stop offset="0.7198" stop-color="#f1f1b4"/><stop offset="0.7217" stop-color="#d1d1ad"/><stop offset="0.7240" stop-color="#fbfbae"/><stop offset="0.7255" stop-color="#eeeea7"/><stop offset="0.7270" stop-color="#cbcbba"/><stop offset="0.7282" stop-color="#bcbccc"/><stop offset="0.7297" stop-color="#d4d4c1"/><stop offset="0.7314" stop-color="#e9e9a1"/><stop offset="0.7329" stop-color="#d1d19f"/><stop offset="0.7352" stop-color="#d8d8ae"/><stop offset="0.7382" stop-color="#f1f19d"/><stop offset="0.7404" stop-color="#dfdfa7"/><stop offset="0.7419" stop-color="#d6d6ae"/><stop offset="0.7431" stop-color="#d9d9b0"/><stop offset="0.7446" stop-color="#ececa3"/><stop offset="0.7469" stop-color="#cecec4"/><stop offset="0.7494" stop-color="#e6e6b0"/><stop offset="0.7516" stop-color="#cfcfb1"/><stop offset="0.7533" stop-color="#d8d8b7"/><stop offset="0.7546" stop-color="#dedeba"/><stop offset="0.7561" stop-color="#d1d1c8"/><stop offset="0.7581" stop-color="#ecec9f"/><stop offset="0.7603" stop-color="#e1e1ad"/><stop offset="0.7620" stop-color="#fefea2"/><stop offset="0.7635" stop-color="#f6f688"/><stop offset="0.7655" stop-color="#e9e9a5"/><stop offset="0.7675" stop-color="#eaeab1"/><stop offset="0.7690" stop-color="#d4d4b9"/><stop offset="0.7705" stop-color="#dedeba"/><stop offset="0.7725" stop-color="#d3d3bb"/><stop offset="0.7740" stop-color="#f6f6a3"/><stop offset="0.7755" stop-color="#d1d1b9"/><stop offset="0.7770" stop-color="#e9e9a1"/><stop offset="0.7785" stop-color="#e9e9a3"/><stop offset="0.7799" stop-color="#d8d8a9"/><stop offset="0.7809" stop-color="#dfdfb9"/><stop offset="0.7822" stop-color="#c1c1c7"/><stop offset="0.7837" stop-color="#e5e5a9"/><stop offset="0.7859" stop-color="#d1d1b2"/><stop offset="0.7886" stop-color="#dcdcb0"/><stop offset="0.7904" stop-color="#e7e79d"/><stop offset="0.7919" stop-color="#f6f690"/><stop offset="0.7936" stop-color="#eaeaa3"/><stop offset="0.7949" stop-color="#eaeaaf"/><stop offset="0.7964" stop-color="#d2d2aa"/><stop offset="0.7986" stop-color="#c6c6b2"/><stop offset="0.8006" stop-color="#f6f691"/><stop offset="0.8028" stop-color="#f4f48d"/><stop offset="0.8053" stop-color="#ccccc2"/><stop offset="0.8068" stop-color="#dddd92"/><stop offset="0.8085" stop-color="#d6d6ae"/><stop offset="0.8108" stop-color="#eaeaac"/><stop offset="0.8133" stop-color="#c9c9bc"/><stop offset="0.8158" stop-color="#fcfc80"/><stop offset="0.8175" stop-color="#e0e098"/><stop offset="0.8190" stop-color="#f5f589"/><stop offset="0.8202" stop-color="#f9f996"/><stop offset="0.8215" stop-color="#f5f58c"/><stop offset="0.8230" stop-color="#dada9b"/><stop offset="0.8242" stop-color="#d7d7c4"/><stop offset="0.8255" stop-color="#ededa3"/><stop offset="0.8272" stop-color="#e8e890"/><stop offset="0.8289" stop-color="#e6e6a2"/><stop offset="0.8302" stop-color="#d5d5a9"/><stop offset="0.8319" stop-color="#e4e498"/><stop offset="0.8337" stop-color="#dcdc9f"/><stop offset="0.8352" stop-color="#cfcfa3"/><stop offset="0.8366" stop-color="#e5e59b"/><stop offset="0.8381" stop-color="#e6e69d"/><stop offset="0.8399" stop-color="#eded9c"/><stop offset="0.8419" stop-color="#d7d79d"/><stop offset="0.8436" stop-color="#e7e790"/><stop offset="0.8456" stop-color="#efef85"/><stop offset="0.8478" stop-color="#dddda8"/><stop offset="0.8498" stop-color="#cbcbbb"/><stop offset="0.8523" stop-color="#f3f380"/><stop offset="0.8551" stop-color="#e8e8a0"/><stop offset="0.8570" stop-color="#eeee9f"/><stop offset="0.8583" stop-color="#c5c5ae"/><stop offset="0.8603" stop-color="#dedeb0"/><stop offset="0.8623" stop-color="#e7e78d"/><stop offset="0.8640" stop-color="#ffff95"/><stop offset="0.8662" stop-color="#f4f498"/><stop offset="0.8682" stop-color="#eeee8d"/><stop offset="0.8700" stop-color="#eded80"/><stop offset="0.8717" stop-color="#eeee96"/><stop offset="0.8730" stop-color="#f2f2ab"/><stop offset="0.8742" stop-color="#ddddab"/><stop offset="0.8759" stop-color="#efef8d"/><stop offset="0.8782" stop-color="#e5e5a8"/><stop offset="0.8802" stop-color="#f4f490"/><stop offset="0.8819" stop-color="#f3f39d"/><stop offset="0.8834" stop-color="#e2e292"/><stop offset="0.8854" stop-color="#d8d8ae"/><stop offset="0.8879" stop-color="#ecec92"/><stop offset="0.8894" stop-color="#f5f586"/><stop offset="0.8904" stop-color="#d5d598"/><stop offset="0.8921" stop-color="#f0f08e"/><stop offset="0.8943" stop-color="#e8e89b"/><stop offset="0.8958" stop-color="#e6e6a4"/><stop offset="0.8968" stop-color="#e7e78b"/><stop offset="0.8986" stop-color="#eeee85"/><stop offset="0.9013" stop-color="#eeee92"/><stop offset="0.9033" stop-color="#f0f0a2"/><stop offset="0.9045" stop-color="#fcfc86"/><stop offset="0.9058" stop-color="#ffff85"/><stop offset="0.9070" stop-color="#ecec9e"/><stop offset="0.9085" stop-color="#f4f48e"/><stop offset="0.9100" stop-color="#e2e298"/><stop offset="0.9120" stop-color="#d6d69c"/><stop offset="0.9142" stop-color="#ffff85"/><stop offset="0.9160" stop-color="#f3f38e"/><stop offset="0.9177" stop-color="#f0f08c"/><stop offset="0.9197" stop-color="#f9f98f"/><stop offset="0.9215" stop-color="#fdfd83"/><stop offset="0.9230" stop-color="#f1f185"/><stop offset="0.9247" stop-color="#f3f397"/><stop offset="0.9267" stop-color="#f2f291"/><stop offset="0.9282" stop-color="#f5f590"/><stop offset="0.9297" stop-color="#fafa8c"/><stop offset="0.9314" stop-color="#eeee8e"/><stop offset="0.9331" stop-color="#e4e493"/><stop offset="0.9356" stop-color="#eeee88"/><stop offset="0.9381" stop-color="#e8e8a2"/><stop offset="0.9396" stop-color="#eaeaa2"/><stop offset="0.9409" stop-color="#e9e991"/><stop offset="0.9428" stop-color="#eeee93"/><stop offset="0.9448" stop-color="#eaea8f"/><stop offset="0.9466" stop-color="#e8e896"/><stop offset="0.9481" stop-color="#f7f789"/><stop offset="0.9501" stop-color="#fbfb96"/><stop offset="0.9523" stop-color="#f2f28e"/><stop offset="0.9535" stop-color="#eeee99"/><stop offset="0.9553" stop-color="#eded9a"/><stop offset="0.9570" stop-color="#eded98"/><stop offset="0.9590" stop-color="#fafa86"/><stop offset="0.9617" stop-color="#ffff80"/><stop offset="0.9640" stop-color="#fcfc88"/><stop offset="0.9657" stop-color="#e2e29b"/><stop offset="0.9680" stop-color="#f1f191"/><stop offset="0.9702" stop-color="#f2f293"/><stop offset="0.9724" stop-color="#fcfc95"/><stop offset="0.9749" stop-color="#dada99"/><stop offset="0.9764" stop-color="#ffff80"/><stop offset="0.9779" stop-color="#f0f097"/><stop offset="0.9804" stop-color="#f4f492"/><stop offset="0.9824" stop-color="#ffff89"/><stop offset="0.9844" stop-color="#e8e89b"/><stop offset="0.9864" stop-color="#ffff80"/><stop offset="0.9874" stop-color="#f7f79b"/><stop offset="0.9884" stop-color="#fdfd8d"/><stop offset="0.9904" stop-color="#f0f095"/><stop offset="0.9933" stop-color="#fdfd94"/><stop offset="0.9958" stop-color="#eeee83"/><stop offset="0.9978" stop-color="#fdfd80"/><stop offset="0.9996" stop-color="#fcfc8b"/></linearGradient><linearGradient id="h7" x1="0" x2="1" y1="0" y2="0"><stop offset="0.0010" stop-color="#7b7bff"/><stop offset="0.0030" stop-color="#8d8dfa"/><stop offset="0.0052" stop-color="#9898fb"/><stop offset="0.0075" stop-color="#8989f7"/><stop offset="0.0090" stop-color="#8989fe"/><stop offset="0.0104" stop-color="#9595f6"/><stop offset="0.0124" stop-color="#8787ff"/><stop offset="0.0144" stop-color="#a1a1f6"/><stop offset="0.0167" stop-color="#a3a3ee"/><stop offset="0.0189" stop-color="#b3b3ec"/><stop offset="0.0211" stop-color="#a3a3fd"/><stop offset="0.0236" stop-color="#b5b5ec"/><stop offset="0.0264" stop-color="#c2c2f1"/><stop offset="0.0286" stop-color="#a1a1f5"/><stop offset="0.0301" stop-color="#b1b1fb"/><stop offset="0.0323" stop-color="#b4b4f5"/><stop offset="0.0343" stop-color="#b0b0f0"/><stop offset="0.0353" stop-color="#adadec"/><stop offset="0.0368" stop-color="#b3b3e7"/><stop offset="0.0390" stop-color="#a7a7f3"/><stop offset="0.0408" stop-color="#bebee6"/><stop offset="0.0420" stop-color="#a8a8fd"/><stop offset="0.0433" stop-color="#b3b3ec"/><stop offset="0.0443" stop-color="#b0b0ed"/><stop offset="0.0455" stop-color="#b1b1e6"/><stop offset="0.0470" stop-color="#b5b5ee"/><stop offset="0.0487" stop-color="#b5b5e9"/><stop offset="0.0502" stop-color="#aaaaef"/><stop offset="0.0517" stop-color="#bfbfe2"/><stop offset="0.0537" stop-color="#a8a8f2"/><stop offset="0.0555" stop-color="#c7c7e4"/><stop offset="0.0572" stop-color="#aeaeff"/><stop offset="0.0587" stop-color="#c8c8e8"/><stop offset="0.0602" stop-color="#bdbdf0"/><stop offset="0.0617" stop-color="#b5b5ec"/><stop offset="0.0632" stop-color="#c2c2d8"/><stop offset="0.0652" stop-color="#b8b8e6"/><stop offset="0.0669" stop-color="#c8c8db"/><stop offset="0.0689" stop-color="#cacae7"/><stop offset="0.0709" stop-color="#8f8fff"/><stop offset="0.0721" stop-color="#b7b7e7"/><stop offset="0.0741" stop-color="#d3d3da"/><stop offset="0.0764" stop-color="#e5e5cf"/><stop offset="0.0781" stop-color="#c0c0e8"/><stop offset="0.0798" stop-color="#e1e1cf"/><stop offset="0.0811" stop-color="#d0d0d2"/><stop offset="0.0823" stop-color="#e9e9e0"/><stop offset="0.0841" stop-color="#b4b4eb"/><stop offset="0.0858" stop-color="#dedecf"/><stop offset="0.0878" stop-color="#c9c9ed"/><stop offset="0.0900" stop-color="#c9c9d7"/><stop offset="0.0920" stop-color="#c7c7ec"/><stop offset="0.0938" stop-color="#9f9ffa"/><stop offset="0.0953" stop-color="#ddddc2"/><stop offset="0.0975" stop-color="#cfcfe8"/><stop offset="0.0995" stop-color="#dddddb"/><stop offset="0.1010" stop-color="#c3c3ea"/><stop offset="0.1027" stop-color="#cecee8"/><stop offset="0.1045" stop-color="#b1b1f5"/><stop offset="0.1062" stop-color="#bebef8"/><stop offset="0.1077" stop-color="#c4c4ea"/><stop offset="0.1092" stop-color="#cacad9"/><stop offset="0.1104" stop-color="#c3c3eb"/><stop offset="0.1119" stop-color="#d4d4e0"/><stop offset="0.1142" stop-color="#ccccd4"/><stop offset="0.1161" stop-color="#c9c9e0"/><stop offset="0.1184" stop-color="#c3c3e3"/><stop offset="0.1209" stop-color="#cbcbdc"/><stop offset="0.1226" stop-color="#cfcfd8"/><stop offset="0.1244" stop-color="#b8b8eb"/><stop offset="0.1263" stop-color="#d0d0d6"/><stop offset="0.1278" stop-color="#c6c6da"/><stop offset="0.1291" stop-color="#cacad1"/><stop offset="0.1303" stop-color="#bcbceb"/><stop offset="0.1323" stop-color="#b9b9ea"/><stop offset="0.1343" stop-color="#c9c9db"/><stop offset="0.1358" stop-color="#b4b4e6"/><stop offset="0.1375" stop-color="#aaaaff"/><stop offset="0.1395" stop-color="#c4c4dd"/><stop offset="0.1418" stop-color="#b7b7ea"/><stop offset="0.1433" stop-color="#d3d3d0"/><stop offset="0.1442" stop-color="#b8b8f2"/><stop offset="0.1460" stop-color="#e9e9dd"/><stop offset="0.1480" stop-color="#d4d4f0"/><stop offset="0.1492" stop-color="#c7c7f0"/><stop offset="0.1505" stop-color="#c6c6de"/><stop offset="0.1520" stop-color="#ccccd9"/><stop offset="0.1542" stop-color="#c9c9da"/><stop offset="0.1569" stop-color="#ebebc9"/><stop offset="0.1597" stop-color="#c6c6dc"/><stop offset="0.1617" stop-color="#cacae5"/><stop offset="0.1627" stop-color="#d0d0dd"/><stop offset="0.1641" stop-color="#c7c7d4"/><stop offset="0.1666" stop-color="#c4c4f2"/><stop offset="0.1686" stop-color="#cdcde3"/><stop offset="0.1704" stop-color="#b8b8f5"/><stop offset="0.1726" stop-color="#b5b5ed"/><stop offset="0.1741" stop-color="#dfdfbf"/><stop offset="0.1753" stop-color="#d5d5d5"/><stop offset="0.1776" stop-color="#d1d1c5"/><stop offset="0.1803" stop-color="#b7b7e1"/><stop offset="0.1830" stop-color="#ddddd1"/><stop offset="0.1858" stop-color="#b3b3fd"/><stop offset="0.1880" stop-color="#b3b3ec"/><stop offset="0.1905" stop-color="#c2c2de"/><stop offset="0.1927" stop-color="#b3b3ea"/><stop offset="0.1950" stop-color="#cdcdd2"/><stop offset="0.1970" stop-color="#ceced9"/><stop offset="0.1982" stop-color="#cecedc"/><stop offset="0.1997" stop-color="#d6d6da"/><stop offset="0.2019" stop-color="#afafe9"/><stop offset="0.2042" stop-color="#c2c2f9"/><stop offset="0.2062" stop-color="#c8c8d7"/><stop offset="0.2082" stop-color="#dadac2"/><stop offset="0.2099" stop-color="#c2c2e6"/><stop offset="0.2116" stop-color="#e8e8cb"/><stop offset="0.2134" stop-color="#dfdfae"/><stop offset="0.2151" stop-color="#c2c2d6"/><stop offset="0.2171" stop-color="#e7e7ca"/><stop offset="0.2191" stop-color="#c6c6e4"/><stop offset="0.2213" stop-color="#c2c2dd"/><stop offset="0.2238" stop-color="#a8a8ef"/><stop offset="0.2258" stop-color="#c1c1e3"/><stop offset="0.2273" stop-color="#d9d9d4"/><stop offset="0.2288" stop-color="#c6c6d7"/><stop offset="0.2306" stop-color="#d4d4d0"/><stop offset="0.2318" stop-color="#e0e0c9"/><stop offset="0.2338" stop-color="#cbcbd6"/><stop offset="0.2365" stop-color="#bebeee"/><stop offset="0.2390" stop-color="#c5c5e5"/><stop offset="0.2412" stop-color="#a1a1ff"/><stop offset="0.2430" stop-color="#babae4"/><stop offset="0.2447" stop-color="#c1c1e8"/><stop offset="0.2472" stop-color="#c0c0fe"/><stop offset="0.2495" stop-color="#d3d3e1"/><stop offset="0.2512" stop-color="#d7d7cb"/><stop offset="0.2527" stop-color="#c7c7dd"/><stop offset="0.2537" stop-color="#b1b1e5"/><stop offset="0.2547" stop-color="#c4c4ee"/><stop offset="0.2559" stop-color="#bfbfe1"/><stop offset="0.2577" stop-color="#cacad3"/><stop offset="0.2592" stop-color="#b8b8ef"/><stop offset="0.2601" stop-color="#c5c5d3"/><stop offset="0.2616" stop-color="#c4c4d5"/><stop offset="0.2631" stop-color="#d0d0cc"/><stop offset="0.2644" stop-color="#cbcbdd"/><stop offset="0.2666" stop-color="#bfbfe2"/><stop offset="0.2693" stop-color="#dcdccd"/><stop offset="0.2716" stop-color="#a9a9ff"/><stop offset="0.2733" stop-color="#b8b8e5"/><stop offset="0.2746" stop-color="#d5d5cb"/><stop offset="0.2756" stop-color="#c9c9e0"/><stop offset="0.2766" stop-color="#c6c6d5"/><stop offset="0.2783" stop-color="#d3d3d6"/><stop offset="0.2810" stop-color="#bcbcdc"/><stop offset="0.2833" stop-color="#ccccce"/><stop offset="0.2850" stop-color="#ceceda"/><stop offset="0.2865" stop-color="#cecee8"/><stop offset="0.2878" stop-color="#d2d2d1"/><stop offset="0.2895" stop-color="#dbdbc8"/><stop offset="0.2915" stop-color="#c2c2e9"/><stop offset="0.2935" stop-color="#d9d9de"/><stop offset="0.2957" stop-color="#c0c0de"/><stop offset="0.2984" stop-color="#acacef"/><stop offset="0.3004" stop-color="#c2c2e9"/><stop offset="0.3024" stop-color="#c7c7db"/><stop offset="0.3047" stop-color="#b4b4e9"/><stop offset="0.3059" stop-color="#c6c6eb"/><stop offset="0.3069" stop-color="#c1c1fd"/><stop offset="0.3084" stop-color="#d0d0d3"/><stop offset="0.3106" stop-color="#d6d6cf"/><stop offset="0.3134" stop-color="#d4d4cf"/><stop offset="0.3156" stop-color="#c1c1e5"/><stop offset="0.3178" stop-color="#bdbdea"/><stop offset="0.3198" stop-color="#cacae9"/><stop offset="0.3218" stop-color="#d4d4c1"/><stop offset="0.3246" stop-color="#ccccdb"/><stop offset="0.3266" stop-color="#ccccce"/><stop offset="0.3285" stop-color="#c3c3d3"/><stop offset="0.3308" stop-color="#d7d7cc"/><stop offset="0.3333" stop-color="#d3d3ca"/><stop offset="0.3363" stop-color="#babae6"/><stop offset="0.3385" stop-color="#d4d4cc"/><stop offset="0.3402" stop-color="#d3d3d0"/><stop offset="0.3422" stop-color="#c7c7e2"/><stop offset="0.3437" stop-color="#bfbfe8"/><stop offset="0.3452" stop-color="#a9a9fb"/><stop offset="0.3469" stop-color="#d0d0c7"/><stop offset="0.3482" stop-color="#d6d6d4"/><stop offset="0.3502" stop-color="#b8b8e2"/><stop offset="0.3524" stop-color="#d6d6e2"/><stop offset="0.3537" stop-color="#d8d8c2"/><stop offset="0.3552" stop-color="#d0d0d0"/><stop offset="0.3569" stop-color="#bbbbde"/><stop offset="0.3586" stop-color="#d3d3c6"/><stop offset="0.3611" stop-color="#b8b8dd"/><stop offset="0.3634" stop-color="#bdbde1"/><stop offset="0.3651" stop-color="#c7c7e7"/><stop offset="0.3666" stop-color="#ddddce"/><stop offset="0.3676" stop-color="#cdcdd2"/><stop offset="0.3686" stop-color="#c4c4dd"/><stop offset="0.3701" stop-color="#bebed3"/><stop offset="0.3716" stop-color="#d5d5bd"/><stop offset="0.3726" stop-color="#d1d1d3"/><stop offset="0.3738" stop-color="#a2a2f6"/><stop offset="0.3755" stop-color="#cacacf"/><stop offset="0.3775" stop-color="#cbcbc6"/><stop offset="0.3798" stop-color="#c9c9cf"/><stop offset="0.3825" stop-color="#ccccd0"/><stop offset="0.3855" stop-color="#bbbbe4"/><stop offset="0.3875" stop-color="#9191ff"/><stop offset="0.3885" stop-color="#cbcbd0"/><stop offset="0.3897" stop-color="#cfcfd9"/><stop offset="0.3912" stop-color="#d4d4ce"/><stop offset="0.3932" stop-color="#cfcfc9"/><stop offset="0.3952" stop-color="#bdbde4"/><stop offset="0.3967" stop-color="#c8c8d9"/><stop offset="0.3984" stop-color="#c6c6da"/><stop offset="0.3999" stop-color="#b1b1fb"/><stop offset="0.4009" stop-color="#cacadb"/><stop offset="0.4029" stop-color="#c0c0de"/><stop offset="0.4049" stop-color="#cbcbd3"/><stop offset="0.4061" stop-color="#efefb7"/><stop offset="0.4079" stop-color="#bfbfd2"/><stop offset="0.4104" stop-color="#b6b6e0"/><stop offset="0.4129" stop-color="#ffff86"/><stop offset="0.4148" stop-color="#9090ff"/><stop offset="0.4168" stop-color="#e3e3c8"/><stop offset="0.4188" stop-color="#babaee"/><stop offset="0.4206" stop-color="#9898ff"/><stop offset="0.4221" stop-color="#cececf"/><stop offset="0.4235" stop-color="#d1d1e2"/><stop offset="0.4248" stop-color="#dadacd"/><stop offset="0.4258" stop-color="#cdcdda"/><stop offset="0.4268" stop-color="#c6c6eb"/><stop offset="0.4283" stop-color="#c6c6e5"/><stop offset="0.4305" stop-color="#bfbff0"/><stop offset="0.4323" stop-color="#c6c6d2"/><stop offset="0.4332" stop-color="#f2f2bd"/><stop offset="0.4347" stop-color="#ddddcd"/><stop offset="0.4362" stop-color="#8d8dff"/><stop offset="0.4372" stop-color="#e2e2c2"/><stop offset="0.4387" stop-color="#e3e3c1"/><stop offset="0.4407" stop-color="#c6c6e1"/><stop offset="0.4429" stop-color="#bdbddb"/><stop offset="0.4457" stop-color="#9393ff"/><stop offset="0.4477" stop-color="#ffff9e"/><stop offset="0.4487" stop-color="#aaaaf2"/><stop offset="0.4502" stop-color="#b3b3ef"/><stop offset="0.4519" stop-color="#9696ff"/><stop offset="0.4534" stop-color="#bcbce4"/><stop offset="0.4549" stop-color="#b3b3f5"/><stop offset="0.4566" stop-color="#f7f7ad"/><stop offset="0.4586" stop-color="#d8d8d7"/><stop offset="0.4604" stop-color="#adade6"/><stop offset="0.4621" stop-color="#d6d6c9"/><stop offset="0.4641" stop-color="#fefea4"/><stop offset="0.4658" stop-color="#efefb5"/><stop offset="0.4671" stop-color="#cecec8"/><stop offset="0.4681" stop-color="#e3e3c9"/><stop offset="0.4701" stop-color="#d6d6d6"/><stop offset="0.4725" stop-color="#c6c6e8"/><stop offset="0.4743" stop-color="#cbcbcd"/><stop offset="0.4760" stop-color="#eaeabf"/><stop offset="0.4785" stop-color="#8080ff"/><stop offset="0.4805" stop-color="#8080ff"/><stop offset="0.4817" stop-color="#ffff9e"/><stop offset="0.4835" stop-color="#a0a0ff"/><stop offset="0.4850" stop-color="#d6d6d0"/><stop offset="0.4860" stop-color="#d2d2d1"/><stop offset="0.4872" stop-color="#ffff9e"/><stop offset="0.4890" stop-color="#d1d1c4"/><stop offset="0.4907" stop-color="#a5a5f3"/><stop offset="0.4929" stop-color="#a0a0f8"/><stop offset="0.4954" stop-color="#d6d6d0"/><stop offset="0.4974" stop-color="#a3a3f1"/><stop offset="0.4999" stop-color="#8080ff"/><stop offset="0.5024" stop-color="#a5a5ff"/><stop offset="0.5049" stop-color="#cecedd"/><stop offset="0.5069" stop-color="#bebee1"/><stop offset="0.5089" stop-color="#ffffab"/><stop offset="0.5113" stop-color="#9c9cff"/><stop offset="0.5131" stop-color="#efefbb"/><stop offset="0.5143" stop-color="#ddddc9"/><stop offset="0.5158" stop-color="#c6c6ef"/><stop offset="0.5181" stop-color="#9999f7"/><stop offset="0.5203" stop-color="#9999f7"/><stop offset="0.5228" stop-color="#ffff61"/><stop offset="0.5253" stop-color="#c1c1dd"/><stop offset="0.5273" stop-color="#c5c5cd"/><stop offset="0.5290" stop-color="#c2c2f1"/><stop offset="0.5312" stop-color="#d1d1d0"/><stop offset="0.5340" stop-color="#c3c3e9"/><stop offset="0.5360" stop-color="#d3d3d2"/><stop offset="0.5375" stop-color="#b0b0fb"/><stop offset="0.5394" stop-color="#afaffb"/><stop offset="0.5417" stop-color="#ededae"/><stop offset="0.5432" stop-color="#c3c3cd"/><stop offset="0.5452" stop-color="#cacad9"/><stop offset="0.5472" stop-color="#cecebd"/><stop offset="0.5484" stop-color="#ccccc5"/><stop offset="0.5496" stop-color="#e6e6ba"/><stop offset="0.5506" stop-color="#ddddb7"/><stop offset="0.5519" stop-color="#ccccd8"/><stop offset="0.5531" stop-color="#d1d1cd"/><stop offset="0.5551" stop-color="#c7c7d5"/><stop offset="0.5574" stop-color="#ccccd5"/><stop offset="0.5586" stop-color="#d0d0c3"/><stop offset="0.5596" stop-color="#c8c8d9"/><stop offset="0.5611" stop-color="#cecec8"/><stop offset="0.5631" stop-color="#d7d7c7"/><stop offset="0.5646" stop-color="#cececd"/><stop offset="0.5658" stop-color="#c1c1ed"/><stop offset="0.5671" stop-color="#cbcbcd"/><stop offset="0.5690" stop-color="#d2d2cf"/><stop offset="0.5718" stop-color="#d2d2cd"/><stop offset="0.5735" stop-color="#dcdcb2"/><stop offset="0.5755" stop-color="#c8c8c8"/><stop offset="0.5777" stop-color="#b0b0e6"/><stop offset="0.5795" stop-color="#bcbcde"/><stop offset="0.5812" stop-color="#f5f5a2"/><stop offset="0.5830" stop-color="#f0f0ad"/><stop offset="0.5850" stop-color="#e5e5be"/><stop offset="0.5869" stop-color="#b7b7f0"/><stop offset="0.5887" stop-color="#d3d3bf"/><stop offset="0.5899" stop-color="#d8d8cb"/><stop offset="0.5917" stop-color="#c4c4e3"/><stop offset="0.5939" stop-color="#b9b9d9"/><stop offset="0.5962" stop-color="#d1d1c1"/><stop offset="0.5981" stop-color="#b0b0e0"/><stop offset="0.5994" stop-color="#cbcbd1"/><stop offset="0.6009" stop-color="#f5f59d"/><stop offset="0.6026" stop-color="#9c9ce6"/><stop offset="0.6041" stop-color="#e1e1b4"/><stop offset="0.6054" stop-color="#cacad9"/><stop offset="0.6063" stop-color="#a8a8e4"/><stop offset="0.6076" stop-color="#cdcdc5"/><stop offset="0.6096" stop-color="#bfbfd3"/><stop offset="0.6113" stop-color="#bdbdd4"/><stop offset="0.6131" stop-color="#b4b4eb"/><stop offset="0.6155" stop-color="#cccccb"/><stop offset="0.6178" stop-color="#bbbbcf"/><stop offset="0.6198" stop-color="#e0e0b9"/><stop offset="0.6215" stop-color="#f8f8ab"/><stop offset="0.6230" stop-color="#f8f895"/><stop offset="0.6245" stop-color="#e6e6b8"/><stop offset="0.6267" stop-color="#dcdcb6"/><stop offset="0.6292" stop-color="#ebebb4"/><stop offset="0.6317" stop-color="#c1c1ce"/><stop offset="0.6345" stop-color="#b8b8e2"/><stop offset="0.6369" stop-color="#b1b1e3"/><stop offset="0.6392" stop-color="#c5c5cd"/><stop offset="0.6417" stop-color="#d1d1bb"/><stop offset="0.6437" stop-color="#c8c8dc"/><stop offset="0.6449" stop-color="#dcdcba"/><stop offset="0.6469" stop-color="#d7d7b2"/><stop offset="0.6491" stop-color="#b0b0e8"/><stop offset="0.6509" stop-color="#d0d0ca"/><stop offset="0.6526" stop-color="#e5e5bc"/><stop offset="0.6548" stop-color="#c4c4d0"/><stop offset="0.6566" stop-color="#c4c4d2"/><stop offset="0.6586" stop-color="#d8d8c1"/><stop offset="0.6611" stop-color="#acacec"/><stop offset="0.6626" stop-color="#bebee6"/><stop offset="0.6643" stop-color="#e2e2b5"/><stop offset="0.6660" stop-color="#b2b2e3"/><stop offset="0.6670" stop-color="#b9b9df"/><stop offset="0.6688" stop-color="#d5d5bf"/><stop offset="0.6708" stop-color="#d5d5b6"/><stop offset="0.6720" stop-color="#d2d2c0"/><stop offset="0.6730" stop-color="#c1c1cf"/><stop offset="0.6740" stop-color="#b2b2de"/><stop offset="0.6760" stop-color="#e1e1c3"/><stop offset="0.6780" stop-color="#bfbfd0"/><stop offset="0.6792" stop-color="#c0c0ba"/><stop offset="0.6815" stop-color="#c9c9c7"/><stop offset="0.6842" stop-color="#d0d0c0"/><stop offset="0.6862" stop-color="#dadac0"/><stop offset="0.6879" stop-color="#cfcfc7"/><stop offset="0.6899" stop-color="#cecec6"/><stop offset="0.6924" stop-color="#d1d1c5"/><stop offset="0.6954" stop-color="#cbcbd5"/><stop offset="0.6974" stop-color="#d6d6c3"/><stop offset="0.6984" stop-color="#c6c6d9"/><stop offset="0.6999" stop-color="#bfbfdd"/><stop offset="0.7019" stop-color="#b6b6d3"/><stop offset="0.7043" stop-color="#b6b6e1"/><stop offset="0.7066" stop-color="#c2c2e1"/><stop offset="0.7086" stop-color="#f1f1ac"/><stop offset="0.7103" stop-color="#babad0"/><stop offset="0.7120" stop-color="#c9c9cf"/><stop offset="0.7140" stop-color="#cfcfdb"/><stop offset="0.7158" stop-color="#a5a5d8"/><stop offset="0.7175" stop-color="#f6f69f"/><stop offset="0.7188" stop-color="#eaeaa3"/><stop offset="0.7200" stop-color="#f0f09f"/><stop offset="0.7222" stop-color="#ececb2"/><stop offset="0.7250" stop-color="#cccce6"/><stop offset="0.7270" stop-color="#ddddb6"/><stop offset="0.7282" stop-color="#d1d1b8"/><stop offset="0.7302" stop-color="#bdbdcc"/><stop offset="0.7332" stop-color="#dbdbbb"/><stop offset="0.7354" stop-color="#c9c9cf"/><stop offset="0.7369" stop-color="#d1d1bc"/><stop offset="0.7389" stop-color="#afafe5"/><stop offset="0.7409" stop-color="#d4d4b7"/><stop offset="0.7426" stop-color="#d1d1cf"/><stop offset="0.7451" stop-color="#ababdd"/><stop offset="0.7479" stop-color="#cacac6"/><stop offset="0.7499" stop-color="#b5b5e2"/><stop offset="0.7511" stop-color="#c9c9dc"/><stop offset="0.7526" stop-color="#d7d7af"/><stop offset="0.7548" stop-color="#b1b1cc"/><stop offset="0.7576" stop-color="#d1d1c9"/><stop offset="0.7598" stop-color="#e9e9b3"/><stop offset="0.7615" stop-color="#cbcbc3"/><stop offset="0.7630" stop-color="#d8d8b0"/><stop offset="0.7640" stop-color="#cbcbcf"/><stop offset="0.7653" stop-color="#d2d2c4"/><stop offset="0.7670" stop-color="#dcdcd4"/><stop offset="0.7690" stop-color="#afaff6"/><stop offset="0.7705" stop-color="#cbcbc2"/><stop offset="0.7715" stop-color="#bcbcd6"/><stop offset="0.7727" stop-color="#dadac1"/><stop offset="0.7742" stop-color="#d6d6bd"/><stop offset="0.7762" stop-color="#d2d2ba"/><stop offset="0.7787" stop-color="#d5d5b2"/><stop offset="0.7812" stop-color="#c7c7c8"/><stop offset="0.7837" stop-color="#d9d9d1"/><stop offset="0.7857" stop-color="#dadac7"/><stop offset="0.7872" stop-color="#f0f0ac"/><stop offset="0.7886" stop-color="#ababed"/><stop offset="0.7899" stop-color="#c6c6c5"/><stop offset="0.7914" stop-color="#cfcfba"/><stop offset="0.7929" stop-color="#c7c7cc"/><stop offset="0.7946" stop-color="#babad3"/><stop offset="0.7971" stop-color="#c2c2ca"/><stop offset="0.7991" stop-color="#cacac2"/><stop offset="0.8006" stop-color="#fefe9d"/><stop offset="0.8021" stop-color="#bfbfc1"/><stop offset="0.8043" stop-color="#d9d9c8"/><stop offset="0.8063" stop-color="#e8e8ac"/><stop offset="0.8078" stop-color="#d9d9b6"/><stop offset="0.8095" stop-color="#d5d5bf"/><stop offset="0.8110" stop-color="#c2c2d9"/><stop offset="0.8123" stop-color="#cfcfd2"/><stop offset="0.8135" stop-color="#a7a7de"/><stop offset="0.8148" stop-color="#dfdfc2"/><stop offset="0.8163" stop-color="#dedeb4"/><stop offset="0.8180" stop-color="#d1d1cf"/><stop offset="0.8192" stop-color="#e7e79a"/><stop offset="0.8202" stop-color="#dedeb7"/><stop offset="0.8215" stop-color="#e0e0cc"/><stop offset="0.8227" stop-color="#c6c6c5"/><stop offset="0.8242" stop-color="#e6e6b4"/><stop offset="0.8267" stop-color="#bbbbe0"/><stop offset="0.8292" stop-color="#e9e9b0"/><stop offset="0.8309" stop-color="#d8d8c8"/><stop offset="0.8332" stop-color="#dbdbb3"/><stop offset="0.8357" stop-color="#dfdfac"/><stop offset="0.8371" stop-color="#cbcbd0"/><stop offset="0.8391" stop-color="#c1c1cf"/><stop offset="0.8416" stop-color="#d4d4c1"/><stop offset="0.8431" stop-color="#c9c9c8"/><stop offset="0.8441" stop-color="#dbdbe0"/><stop offset="0.8454" stop-color="#d9d9c0"/><stop offset="0.8468" stop-color="#c5c5d5"/><stop offset="0.8481" stop-color="#e1e1c7"/><stop offset="0.8493" stop-color="#c7c7d1"/><stop offset="0.8508" stop-color="#c7c7d9"/><stop offset="0.8531" stop-color="#ddddb7"/><stop offset="0.8551" stop-color="#ebebbc"/><stop offset="0.8563" stop-color="#d3d3b3"/><stop offset="0.8578" stop-color="#dedeb5"/><stop offset="0.8590" stop-color="#f2f2b0"/><stop offset="0.8608" stop-color="#d1d1bf"/><stop offset="0.8635" stop-color="#d0d0c4"/><stop offset="0.8665" stop-color="#a1a1f5"/><stop offset="0.8685" stop-color="#bfbfdd"/><stop offset="0.8705" stop-color="#c8c8c9"/><stop offset="0.8727" stop-color="#cacaca"/><stop offset="0.8745" stop-color="#bfbfc8"/><stop offset="0.8759" stop-color="#d1d1c9"/><stop offset="0.8774" stop-color="#eaeaba"/><stop offset="0.8792" stop-color="#c3c3d0"/><stop offset="0.8804" stop-color="#d2d2c2"/><stop offset="0.8822" stop-color="#bbbbe7"/><stop offset="0.8846" stop-color="#c9c9d9"/><stop offset="0.8864" stop-color="#ddddc9"/><stop offset="0.8876" stop-color="#d7d7ce"/><stop offset="0.8891" stop-color="#c5c5da"/><stop offset="0.8911" stop-color="#f5f5bc"/><stop offset="0.8939" stop-color="#b5b5d4"/><stop offset="0.8968" stop-color="#c9c9d2"/><stop offset="0.8993" stop-color="#f1f1c8"/><stop offset="0.9011" stop-color="#d6d6cc"/><stop offset="0.9028" stop-color="#d9d9db"/><stop offset="0.9050" stop-color="#dcdcc7"/><stop offset="0.9073" stop-color="#dadacb"/><stop offset="0.9090" stop-color="#d5d5d4"/><stop offset="0.9105" stop-color="#c7c7d5"/><stop offset="0.9120" stop-color="#d2d2e2"/><stop offset="0.9137" stop-color="#fafaa2"/><stop offset="0.9155" stop-color="#c5c5e2"/><stop offset="0.9167" stop-color="#e0e0bc"/><stop offset="0.9182" stop-color="#d2d2bf"/><stop offset="0.9197" stop-color="#ececb3"/><stop offset="0.9210" stop-color="#c5c5d8"/><stop offset="0.9230" stop-color="#f5f5b8"/><stop offset="0.9252" stop-color="#cdcde9"/><stop offset="0.9267" stop-color="#e8e8c9"/><stop offset="0.9282" stop-color="#ffffb2"/><stop offset="0.9297" stop-color="#ebebcc"/><stop offset="0.9309" stop-color="#e7e7b8"/><stop offset="0.9322" stop-color="#dedec1"/><stop offset="0.9331" stop-color="#c8c8dd"/><stop offset="0.9349" stop-color="#ddddd2"/><stop offset="0.9369" stop-color="#c0c0dc"/><stop offset="0.9386" stop-color="#e2e2c1"/><stop offset="0.9406" stop-color="#b9b9f7"/><stop offset="0.9423" stop-color="#ffffa2"/><stop offset="0.9436" stop-color="#eeeec5"/><stop offset="0.9451" stop-color="#eeeeba"/><stop offset="0.9466" stop-color="#e7e7cf"/><stop offset="0.9478" stop-color="#c5c5dd"/><stop offset="0.9493" stop-color="#f6f6c5"/><stop offset="0.9506" stop-color="#b1b1f1"/><stop offset="0.9518" stop-color="#f7f7b4"/><stop offset="0.9530" stop-color="#dfdfdd"/><stop offset="0.9545" stop-color="#e4e4d9"/><stop offset="0.9560" stop-color="#e9e9d6"/><stop offset="0.9575" stop-color="#e8e8cb"/><stop offset="0.9595" stop-color="#e0e0cc"/><stop offset="0.9620" stop-color="#d8d8e1"/><stop offset="0.9640" stop-color="#dddde8"/><stop offset="0.9660" stop-color="#d9d9c6"/><stop offset="0.9680" stop-color="#dededd"/><stop offset="0.9690" stop-color="#ddddde"/><stop offset="0.9702" stop-color="#ffffa6"/><stop offset="0.9724" stop-color="#cfcfd9"/><stop offset="0.9744" stop-color="#f8f8c0"/><stop offset="0.9757" stop-color="#eeeed1"/><stop offset="0.9777" stop-color="#e2e2d8"/><stop offset="0.9794" stop-color="#e4e4d8"/><stop offset="0.9809" stop-color="#dededb"/><stop offset="0.9826" stop-color="#d0d0e8"/><stop offset="0.9841" stop-color="#f6f6d2"/><stop offset="0.9859" stop-color="#eaeace"/><stop offset="0.9874" stop-color="#d6d6e8"/><stop offset="0.9889" stop-color="#f1f1cf"/><stop offset="0.9904" stop-color="#d7d7f3"/><stop offset="0.9918" stop-color="#ecece5"/><stop offset="0.9933" stop-color="#f1f1da"/><stop offset="0.9946" stop-color="#ffffb5"/><stop offset="0.9963" stop-color="#d7d7f3"/><stop offset="0.9983" stop-color="#f1f1d7"/><stop offset="1.0000" stop-color="#edede8"/></linearGradient><linearGradient id="cb" x1="0" x2="0" y1="0" y2="1"><stop offset="0" stop-color="#ffff00"/><stop offset="0.508" stop-color="#ffffff"/><stop offset="1" stop-color="#0000ff"/></linearGradient></defs>
<g shape-rendering="crispEdges"><rect x="30.8" y="34.40" width="1005.20" height="25.0" fill="url(#h0)"/><rect x="30.8" y="59.40" width="1005.20" height="25.0" fill="url(#h1)"/><rect x="30.8" y="84.40" width="1005.20" height="25.0" fill="url(#h2)"/><rect x="30.8" y="109.40" width="1005.20" height="25.0" fill="url(#h3)"/><rect x="30.8" y="134.40" width="1005.20" height="25.0" fill="url(#h4)"/><rect x="30.8" y="159.40" width="1005.20" height="25.0" fill="url(#h5)"/><rect x="30.8" y="184.40" width="1005.20" height="25.0" fill="url(#h6)"/><rect x="30.8" y="209.40" width="1005.20" height="25.0" fill="url(#h7)"/></g>
<rect x="1046.5" y="36.7" width="23.5" height="202.2" fill="url(#cb)" stroke="#d4d4d4" stroke-width="1"/>
<rect x="325.00" y="305.05" width="338.75" height="23.70" fill="#ffc000" stroke="#000" stroke-width="1.7"/>
<rect x="325.00" y="372.25" width="224.95" height="24.10" fill="#ffc000" stroke="#000" stroke-width="1.7"/>
<rect x="325.00" y="439.95" width="191.45" height="24.50" fill="#ffc000" stroke="#000" stroke-width="1.7"/>
<rect x="325.00" y="507.95" width="162.75" height="24.50" fill="#ffc000" stroke="#000" stroke-width="1.7"/>
<rect x="325.00" y="575.95" width="157.75" height="23.70" fill="#ffc000" stroke="#000" stroke-width="1.7"/>
<rect x="308.80" y="732.65" width="371.55" height="24.20" fill="#ffc000" stroke="#000" stroke-width="1.7"/>
<rect x="308.80" y="800.35" width="284.65" height="24.30" fill="#ffc000" stroke="#000" stroke-width="1.7"/>
<rect x="308.80" y="868.05" width="253.95" height="24.70" fill="#ffc000" stroke="#000" stroke-width="1.7"/>
<rect x="308.80" y="935.95" width="168.25" height="24.20" fill="#ffc000" stroke="#000" stroke-width="1.7"/>
<rect x="308.80" y="1003.65" width="112.85" height="24.60" fill="#ffc000" stroke="#000" stroke-width="1.7"/>
<rect x="1140.10" y="587.10" width="162.50" height="17.50" fill="#ff0000" stroke="#000" stroke-width="1.6"/>
<rect x="1140.10" y="636.10" width="218.10" height="17.70" fill="#ff0000" stroke="#000" stroke-width="1.6"/>
<rect x="1691.30" y="587.20" width="28.80" height="17.10" fill="#ff0000" stroke="#000" stroke-width="1.6"/>
<rect x="1691.30" y="636.70" width="240.50" height="17.20" fill="#ff0000" stroke="#000" stroke-width="1.6"/>
<line x1="325.0" y1="283.2" x2="325.0" y2="621.7" stroke="#d9d9d9" stroke-width="1.8"/>
<line x1="308.8" y1="711.2" x2="308.8" y2="1049.3" stroke="#d9d9d9" stroke-width="1.8"/>
<line x1="1140.1" y1="571.2" x2="1140.1" y2="669.5" stroke="#d9d9d9" stroke-width="1.8"/>
<line x1="1691.3" y1="571.1" x2="1691.3" y2="669.6" stroke="#d9d9d9" stroke-width="1.8"/>
<line x1="1322.7" y1="25.0" x2="1322.7" y2="363.6" stroke="#bfbfbf" stroke-width="1.9"/>
<line x1="1321.75" y1="362.7" x2="1716.6" y2="362.7" stroke="#bfbfbf" stroke-width="1.9"/>
<line x1="1521.7" y1="807.5" x2="1521.7" y2="1048.0" stroke="#bfbfbf" stroke-width="1.6"/>
<line x1="1292.3" y1="951.95" x2="1750.6" y2="951.95" stroke="#bfbfbf" stroke-width="1.7"/>
<path d="M1322.7,330.2 L1324.2,329.4 L1325.7,328.6 L1327.2,327.8 L1328.7,327.0 L1330.2,326.2 L1331.7,325.3 L1333.2,324.4 L1334.7,323.4 L1336.2,322.3 L1337.7,321.1 L1339.2,319.9 L1340.7,318.5 L1342.2,317.1 L1343.7,315.6 L1345.2,314.0 L1346.7,312.3 L1348.2,310.6 L1349.7,308.8 L1351.2,307.1 L1352.7,305.3 L1354.2,303.5 L1355.7,301.7 L1357.2,299.9 L1358.7,298.2 L1360.2,296.4 L1361.7,294.8 L1363.2,293.1 L1364.7,291.5 L1366.2,289.9 L1367.7,288.3 L1369.2,286.7 L1370.7,285.1 L1372.2,283.6 L1373.7,282.0 L1375.2,280.4 L1376.7,278.8 L1378.2,277.2 L1379.7,275.6 L1381.2,273.9 L1382.7,272.3 L1384.2,270.7 L1385.7,269.0 L1387.2,267.4 L1388.7,265.7 L1390.2,264.1 L1391.7,262.5 L1393.2,261.0 L1394.7,259.5 L1396.2,258.1 L1397.7,256.7 L1399.2,255.4 L1400.7,254.1 L1402.2,252.9 L1403.7,251.7 L1405.2,250.5 L1406.7,249.4 L1408.2,248.4 L1409.7,247.3 L1411.2,246.3 L1412.7,245.3 L1414.2,244.3 L1415.7,243.4 L1417.2,242.4 L1418.7,241.5 L1420.2,240.6 L1421.7,239.8 L1423.2,238.9 L1424.7,238.1 L1426.2,237.4 L1427.7,236.6 L1429.2,235.8 L1430.7,235.1 L1432.2,234.3 L1433.7,233.6 L1435.2,232.8 L1436.7,232.1 L1438.2,231.4 L1439.7,230.8 L1441.2,230.1 L1442.7,229.6 L1444.2,229.0 L1445.7,228.4 L1447.2,227.9 L1448.7,227.4 L1450.2,226.8 L1451.7,226.3 L1453.2,225.8 L1454.7,225.2 L1456.2,224.7 L1457.7,224.1 L1459.2,223.5 L1460.7,222.9 L1462.2,222.3 L1463.7,221.7 L1465.2,221.1 L1466.7,220.5 L1468.2,219.9 L1469.7,219.3 L1471.2,218.7 L1472.7,218.1 L1474.2,217.5 L1475.7,216.9 L1477.2,216.3 L1478.7,215.7 L1480.2,215.1 L1481.7,214.5 L1483.2,213.9 L1484.7,213.3 L1486.2,212.7 L1487.7,212.2 L1489.2,211.6 L1490.7,211.1 L1492.2,210.5 L1493.7,210.0 L1495.2,209.4 L1496.7,208.9 L1498.2,208.2 L1499.7,207.6 L1501.2,206.9 L1502.7,206.1 L1504.2,205.3 L1505.7,204.4 L1507.2,203.5 L1508.7,202.6 L1510.2,201.7 L1511.7,200.7 L1513.2,199.8 L1514.7,198.9 L1516.2,198.1 L1517.7,197.4 L1519.2,196.7 L1520.7,196.1 L1522.2,195.5 L1523.7,194.9 L1525.2,194.4 L1526.7,193.8 L1528.2,193.3 L1529.7,192.7 L1531.2,192.2 L1532.7,191.6 L1534.2,191.0 L1535.7,190.4 L1537.2,189.7 L1538.7,188.9 L1540.2,188.1 L1541.7,187.2 L1543.2,186.3 L1544.7,185.4 L1546.2,184.4 L1547.7,183.5 L1549.2,182.5 L1550.7,181.5 L1552.2,180.4 L1553.7,179.4 L1555.2,178.3 L1556.7,177.2 L1558.2,176.0 L1559.7,174.8 L1561.2,173.5 L1562.7,172.2 L1564.2,171.0 L1565.7,169.7 L1567.2,168.5 L1568.7,167.3 L1570.2,166.2 L1571.7,165.2 L1573.2,164.2 L1574.7,163.2 L1576.2,162.3 L1577.7,161.3 L1579.2,160.4 L1580.7,159.5 L1582.2,158.5 L1583.7,157.4 L1585.2,156.4 L1586.7,155.2 L1588.2,154.1 L1589.7,152.9 L1591.2,151.7 L1592.7,150.5 L1594.2,149.3 L1595.7,148.0 L1597.2,146.8 L1598.7,145.6 L1600.2,144.3 L1601.7,143.1 L1603.2,141.8 L1604.7,140.5 L1606.2,139.2 L1607.7,137.9 L1609.2,136.6 L1610.7,135.3 L1612.2,133.9 L1613.7,132.5 L1615.2,131.1 L1616.7,129.7 L1618.2,128.3 L1619.7,126.8 L1621.2,125.4 L1622.7,123.9 L1624.2,122.4 L1625.7,120.9 L1627.2,119.3 L1628.7,117.7 L1630.2,116.1 L1631.7,114.5 L1633.2,112.8 L1634.7,111.1 L1636.2,109.4 L1637.7,107.7 L1639.2,105.9 L1640.7,104.1 L1642.2,102.2 L1643.7,100.3 L1645.2,98.4 L1646.7,96.4 L1648.2,94.5 L1649.7,92.5 L1651.2,90.6 L1652.7,88.6 L1654.2,86.7 L1655.7,84.7 L1657.2,82.8 L1658.7,80.8 L1660.2,78.9 L1661.7,77.0 L1663.2,75.1 L1664.7,73.2 L1666.2,71.3 L1667.7,69.5 L1669.2,67.7 L1670.7,65.9 L1672.2,64.2 L1673.7,62.4 L1675.2,60.7 L1676.7,58.9 L1678.2,57.2 L1679.7,55.5 L1681.2,53.7 L1682.7,51.9 L1684.2,50.2 L1685.7,48.4 L1687.2,46.7 L1688.7,45.0 L1690.2,43.4 L1691.7,41.8 L1693.2,40.3 L1694.7,38.9 L1696.2,37.6 L1697.7,36.3 L1699.2,35.1 L1700.7,34.0 L1702.2,32.9 L1703.7,31.9 L1705.2,30.9 L1706.7,30.0 L1708.2,29.2 L1709.7,28.4 L1711.2,27.7 L1712.7,26.9 L1714.2,26.2 L1715.7,25.5" fill="none" stroke="#4472c4" stroke-width="4.5" stroke-linejoin="round"/>
<path d="M1322.7,333.6 L1324.2,333.0 L1325.7,332.4 L1327.2,331.8 L1328.7,331.2 L1330.2,330.5 L1331.7,329.9 L1333.2,329.2 L1334.7,328.5 L1336.2,327.7 L1337.7,326.8 L1339.2,325.9 L1340.7,324.9 L1342.2,323.8 L1343.7,322.7 L1345.2,321.5 L1346.7,320.3 L1348.2,319.1 L1349.7,317.8 L1351.2,316.5 L1352.7,315.2 L1354.2,313.9 L1355.7,312.6 L1357.2,311.3 L1358.7,310.0 L1360.2,308.7 L1361.7,307.4 L1363.2,306.2 L1364.7,304.9 L1366.2,303.7 L1367.7,302.6 L1369.2,301.4 L1370.7,300.2 L1372.2,299.0 L1373.7,297.8 L1375.2,296.6 L1376.7,295.3 L1378.2,294.0 L1379.7,292.6 L1381.2,291.2 L1382.7,289.7 L1384.2,288.2 L1385.7,286.7 L1387.2,285.1 L1388.7,283.5 L1390.2,281.9 L1391.7,280.2 L1393.2,278.6 L1394.7,276.9 L1396.2,275.2 L1397.7,273.6 L1399.2,272.0 L1400.7,270.5 L1402.2,269.0 L1403.7,267.5 L1405.2,266.1 L1406.7,264.7 L1408.2,263.3 L1409.7,261.9 L1411.2,260.6 L1412.7,259.2 L1414.2,257.9 L1415.7,256.6 L1417.2,255.3 L1418.7,254.1 L1420.2,252.9 L1421.7,251.8 L1423.2,250.7 L1424.7,249.7 L1426.2,248.6 L1427.7,247.6 L1429.2,246.6 L1430.7,245.6 L1432.2,244.6 L1433.7,243.6 L1435.2,242.6 L1436.7,241.6 L1438.2,240.6 L1439.7,239.7 L1441.2,238.7 L1442.7,237.8 L1444.2,236.9 L1445.7,236.0 L1447.2,235.0 L1448.7,234.1 L1450.2,233.2 L1451.7,232.3 L1453.2,231.4 L1454.7,230.5 L1456.2,229.6 L1457.7,228.8 L1459.2,227.9 L1460.7,227.1 L1462.2,226.2 L1463.7,225.4 L1465.2,224.6 L1466.7,223.8 L1468.2,223.0 L1469.7,222.2 L1471.2,221.4 L1472.7,220.7 L1474.2,220.0 L1475.7,219.4 L1477.2,218.7 L1478.7,218.1 L1480.2,217.5 L1481.7,216.9 L1483.2,216.3 L1484.7,215.7 L1486.2,215.1 L1487.7,214.5 L1489.2,213.9 L1490.7,213.3 L1492.2,212.7 L1493.7,212.1 L1495.2,211.5 L1496.7,210.8 L1498.2,210.2 L1499.7,209.5 L1501.2,208.7 L1502.7,207.9 L1504.2,207.1 L1505.7,206.2 L1507.2,205.2 L1508.7,204.3 L1510.2,203.3 L1511.7,202.3 L1513.2,201.4 L1514.7,200.5 L1516.2,199.6 L1517.7,198.9 L1519.2,198.2 L1520.7,197.5 L1522.2,196.9 L1523.7,196.3 L1525.2,195.8 L1526.7,195.2 L1528.2,194.7 L1529.7,194.2 L1531.2,193.6 L1532.7,193.0 L1534.2,192.4 L1535.7,191.8 L1537.2,191.1 L1538.7,190.3 L1540.2,189.5 L1541.7,188.6 L1543.2,187.7 L1544.7,186.8 L1546.2,185.8 L1547.7,184.8 L1549.2,183.8 L1550.7,182.8 L1552.2,181.8 L1553.7,180.7 L1555.2,179.7 L1556.7,178.5 L1558.2,177.4 L1559.7,176.1 L1561.2,174.9 L1562.7,173.7 L1564.2,172.4 L1565.7,171.2 L1567.2,169.9 L1568.7,168.8 L1570.2,167.7 L1571.7,166.6 L1573.2,165.6 L1574.7,164.7 L1576.2,163.7 L1577.7,162.8 L1579.2,161.9 L1580.7,160.9 L1582.2,159.9 L1583.7,158.9 L1585.2,157.8 L1586.7,156.7 L1588.2,155.6 L1589.7,154.4 L1591.2,153.2 L1592.7,152.0 L1594.2,150.8 L1595.7,149.6 L1597.2,148.3 L1598.7,147.1 L1600.2,145.8 L1601.7,144.6 L1603.2,143.3 L1604.7,142.0 L1606.2,140.8 L1607.7,139.5 L1609.2,138.2 L1610.7,136.8 L1612.2,135.5 L1613.7,134.1 L1615.2,132.7 L1616.7,131.3 L1618.2,129.9 L1619.7,128.4 L1621.2,127.0 L1622.7,125.5 L1624.2,124.0 L1625.7,122.5 L1627.2,120.9 L1628.7,119.3 L1630.2,117.7 L1631.7,116.1 L1633.2,114.4 L1634.7,112.8 L1636.2,111.1 L1637.7,109.4 L1639.2,107.6 L1640.7,105.8 L1642.2,103.9 L1643.7,102.0 L1645.2,100.1 L1646.7,98.1 L1648.2,96.2 L1649.7,94.2 L1651.2,92.3 L1652.7,90.3 L1654.2,88.4 L1655.7,86.4 L1657.2,84.5 L1658.7,82.6 L1660.2,80.6 L1661.7,78.7 L1663.2,76.8 L1664.7,74.9 L1666.2,73.0 L1667.7,71.2 L1669.2,69.4 L1670.7,67.6 L1672.2,65.8 L1673.7,64.1 L1675.2,62.4 L1676.7,60.6 L1678.2,58.9 L1679.7,57.1 L1681.2,55.4 L1682.7,53.6 L1684.2,51.9 L1685.7,50.1 L1687.2,48.4 L1688.7,46.7 L1690.2,45.0 L1691.7,43.4 L1693.2,41.9 L1694.7,40.5 L1696.2,39.2 L1697.7,37.9 L1699.2,36.6 L1700.7,35.5 L1702.2,34.4 L1703.7,33.3 L1705.2,32.4 L1706.7,31.5 L1708.2,30.6 L1709.7,29.8 L1711.2,29.1 L1712.7,28.3 L1714.2,27.6 L1715.7,26.9" fill="none" stroke="#ff0000" stroke-width="4.6" stroke-linejoin="round"/>
<line x1="1629.5" y1="201.2" x2="1670.3" y2="201.2" stroke="#4472c4" stroke-width="4.9" stroke-linecap="round"/>
<line x1="1629.5" y1="239.2" x2="1670.3" y2="239.2" stroke="#ff0000" stroke-width="4.9" stroke-linecap="round"/>
<line x1="1375.2" y1="930.4" x2="1660.2" y2="959.0" stroke="#000" stroke-width="3.5" stroke-linecap="round" stroke-dasharray="0 6.3"/>
<g font-family="'Liberation Sans', Arial, sans-serif" font-weight="bold" fill="#000" style="font-kerning:none;font-variant-ligatures:none;text-rendering:geometricPrecision">
<g stroke="#000" stroke-width="0.45">
<text x="5.91" y="23.60" font-size="25.29" textLength="17.12" lengthAdjust="spacingAndGlyphs">A</text>
<text x="7.26" y="318.30" font-size="25.29" textLength="14.45" lengthAdjust="spacingAndGlyphs">B</text>
<text x="6.50" y="752.50" font-size="25.29" textLength="14.14" lengthAdjust="spacingAndGlyphs">C</text>
<text x="1188.65" y="22.70" font-size="25.29" textLength="16.72" lengthAdjust="spacingAndGlyphs">D</text>
<text x="992.96" y="510.70" font-size="25.29" textLength="12.36" lengthAdjust="spacingAndGlyphs">E</text>
<text x="1536.86" y="510.50" font-size="25.29" textLength="11.32" lengthAdjust="spacingAndGlyphs">F</text>
<text x="1131.31" y="802.00" font-size="25.29" textLength="16.94" lengthAdjust="spacingAndGlyphs">G</text>
</g>
<text transform="translate(16.50,124.10) rotate(-90)" x="-0.02" y="0" font-size="17.44" textLength="77.10" lengthAdjust="spacingAndGlyphs">Wild-type</text>
<text transform="translate(16.50,218.40) rotate(-90)" x="-1.25" y="0" font-size="17.44" textLength="66.29" lengthAdjust="spacingAndGlyphs">Mbd2-/-</text>
<text x="1071.00" y="63.90" font-size="16.57" textLength="34.83" lengthAdjust="spacingAndGlyphs">Max</text>
<text x="1070.94" y="227.00" font-size="16.57" textLength="32.32" lengthAdjust="spacingAndGlyphs">Min</text>
<text x="52.77" y="322.00" font-size="16.86" textLength="254.54" lengthAdjust="spacingAndGlyphs">Neuron projection development</text>
<text x="119.62" y="389.80" font-size="16.86" textLength="188.25" lengthAdjust="spacingAndGlyphs">Trans-synaptic signaling</text>
<text x="237.00" y="457.80" font-size="16.86" textLength="70.35" lengthAdjust="spacingAndGlyphs">Behavior</text>
<text x="172.69" y="525.30" font-size="16.86" textLength="135.44" lengthAdjust="spacingAndGlyphs">Neuronal System</text>
<text x="12.72" y="593.10" font-size="16.86" textLength="294.38" lengthAdjust="spacingAndGlyphs">Central nervous system development</text>
<text x="212.50" y="750.50" font-size="16.86" textLength="79.26" lengthAdjust="spacingAndGlyphs">Ribosome</text>
<text x="81.41" y="817.70" font-size="16.86" textLength="210.82" lengthAdjust="spacingAndGlyphs">Oxidative phosphorylation</text>
<text x="68.03" y="885.40" font-size="16.86" textLength="223.85" lengthAdjust="spacingAndGlyphs">Oxidation-reduction process</text>
<text x="106.06" y="953.60" font-size="16.86" textLength="185.83" lengthAdjust="spacingAndGlyphs">Metabolism of proteins</text>
<text x="-0.33" y="1021.50" font-size="16.86" textLength="292.58" lengthAdjust="spacingAndGlyphs">Mitochondrial translation elongation</text>
<text x="320.04" y="651.90" font-size="15.84" textLength="10.35" lengthAdjust="spacingAndGlyphs">0</text>
<text x="372.34" y="651.90" font-size="15.84" textLength="19.86" lengthAdjust="spacingAndGlyphs">10</text>
<text x="430.12" y="651.90" font-size="15.84" textLength="19.31" lengthAdjust="spacingAndGlyphs">20</text>
<text x="487.59" y="651.90" font-size="15.84" textLength="19.10" lengthAdjust="spacingAndGlyphs">30</text>
<text x="544.98" y="651.90" font-size="15.84" textLength="18.96" lengthAdjust="spacingAndGlyphs">40</text>
<text x="601.97" y="651.90" font-size="15.84" textLength="19.24" lengthAdjust="spacingAndGlyphs">50</text>
<text x="659.12" y="651.90" font-size="15.84" textLength="19.35" lengthAdjust="spacingAndGlyphs">60</text>
<text x="716.27" y="651.90" font-size="15.84" textLength="19.47" lengthAdjust="spacingAndGlyphs">70</text>
<text x="486.58" y="683.50" font-size="18.90" textLength="78.53" lengthAdjust="spacingAndGlyphs">-log10(P)</text>
<text x="304.14" y="1079.50" font-size="15.84" textLength="10.35" lengthAdjust="spacingAndGlyphs">0</text>
<text x="356.88" y="1079.50" font-size="15.84" textLength="19.86" lengthAdjust="spacingAndGlyphs">10</text>
<text x="415.10" y="1079.50" font-size="15.84" textLength="19.31" lengthAdjust="spacingAndGlyphs">20</text>
<text x="473.01" y="1079.50" font-size="15.84" textLength="19.10" lengthAdjust="spacingAndGlyphs">30</text>
<text x="530.84" y="1079.50" font-size="15.84" textLength="18.96" lengthAdjust="spacingAndGlyphs">40</text>
<text x="588.27" y="1079.50" font-size="15.84" textLength="19.24" lengthAdjust="spacingAndGlyphs">50</text>
<text x="645.86" y="1079.50" font-size="15.84" textLength="19.35" lengthAdjust="spacingAndGlyphs">60</text>
<text x="703.45" y="1079.50" font-size="15.84" textLength="19.47" lengthAdjust="spacingAndGlyphs">70</text>
<text x="471.07" y="1110.80" font-size="18.90" textLength="79.65" lengthAdjust="spacingAndGlyphs">-log10(P)</text>
<text x="1268.51" y="30.30" font-size="15.41" textLength="38.08" lengthAdjust="spacingAndGlyphs">100%</text>
<text x="1278.15" y="97.76" font-size="15.41" textLength="28.43" lengthAdjust="spacingAndGlyphs">80%</text>
<text x="1278.08" y="165.22" font-size="15.41" textLength="28.50" lengthAdjust="spacingAndGlyphs">60%</text>
<text x="1278.39" y="232.68" font-size="15.41" textLength="28.18" lengthAdjust="spacingAndGlyphs">40%</text>
<text x="1278.11" y="300.14" font-size="15.41" textLength="28.47" lengthAdjust="spacingAndGlyphs">20%</text>
<text x="1287.22" y="367.60" font-size="15.41" textLength="19.33" lengthAdjust="spacingAndGlyphs">0%</text>
<text x="1317.44" y="389.80" font-size="15.41" textLength="10.35" lengthAdjust="spacingAndGlyphs">0</text>
<text x="1389.95" y="389.80" font-size="15.41" textLength="22.91" lengthAdjust="spacingAndGlyphs">0.2</text>
<text x="1468.76" y="389.80" font-size="15.41" textLength="22.32" lengthAdjust="spacingAndGlyphs">0.4</text>
<text x="1547.55" y="389.80" font-size="15.41" textLength="22.84" lengthAdjust="spacingAndGlyphs">0.6</text>
<text x="1626.35" y="389.80" font-size="15.41" textLength="22.75" lengthAdjust="spacingAndGlyphs">0.8</text>
<text x="1710.98" y="389.80" font-size="15.41" textLength="10.58" lengthAdjust="spacingAndGlyphs">1</text>
<text x="1437.54" y="416.50" font-size="17.15" textLength="148.61" lengthAdjust="spacingAndGlyphs">CpG methylation</text>
<text transform="translate(1269.80,289.80) rotate(-90)" x="-0.75" y="0" font-size="19.33" textLength="191.85" lengthAdjust="spacingAndGlyphs">Cumulative frequency</text>
<text x="1383.67" y="57.40" font-size="16.42" textLength="241.38" lengthAdjust="spacingAndGlyphs">Mbd2-bound CpG methylation</text>
<text x="1370.78" y="176.20" font-size="19.62" textLength="118.97" lengthAdjust="spacingAndGlyphs">P= 8.724e-11</text>
<text x="1675.18" y="206.90" font-size="19.04" textLength="85.77" lengthAdjust="spacingAndGlyphs">Wild-type</text>
<text x="1674.40" y="245.30" font-size="19.33" textLength="74.13" lengthAdjust="spacingAndGlyphs">Mbd2-/-</text>
<text x="983.96" y="601.60" font-size="17.44" textLength="138.57" lengthAdjust="spacingAndGlyphs">Hypo-methylated</text>
<text x="977.96" y="650.70" font-size="17.44" textLength="144.57" lengthAdjust="spacingAndGlyphs">Hyper-methylated</text>
<text x="1319.90" y="603.10" font-size="20.93" textLength="101.57" lengthAdjust="spacingAndGlyphs">P=0.00339</text>
<text x="1134.94" y="699.70" font-size="16.28" textLength="10.35" lengthAdjust="spacingAndGlyphs">0</text>
<text x="1184.03" y="699.70" font-size="16.28" textLength="19.24" lengthAdjust="spacingAndGlyphs">50</text>
<text x="1232.35" y="699.70" font-size="16.28" textLength="28.95" lengthAdjust="spacingAndGlyphs">100</text>
<text x="1285.81" y="699.70" font-size="16.28" textLength="28.95" lengthAdjust="spacingAndGlyphs">150</text>
<text x="1339.77" y="699.70" font-size="16.28" textLength="28.44" lengthAdjust="spacingAndGlyphs">200</text>
<text x="1393.23" y="699.70" font-size="16.28" textLength="28.44" lengthAdjust="spacingAndGlyphs">250</text>
<text x="1535.16" y="601.60" font-size="17.44" textLength="138.57" lengthAdjust="spacingAndGlyphs">Hypo-methylated</text>
<text x="1528.85" y="650.70" font-size="17.44" textLength="144.88" lengthAdjust="spacingAndGlyphs">Hyper-methylated</text>
<text x="1793.78" y="603.70" font-size="20.06" textLength="77.62" lengthAdjust="spacingAndGlyphs">P&lt;1E^-8</text>
<text x="1685.94" y="699.40" font-size="15.99" textLength="10.35" lengthAdjust="spacingAndGlyphs">0</text>
<text x="1726.10" y="699.40" font-size="15.99" textLength="19.31" lengthAdjust="spacingAndGlyphs">20</text>
<text x="1771.04" y="699.40" font-size="15.99" textLength="18.96" lengthAdjust="spacingAndGlyphs">40</text>
<text x="1815.26" y="699.40" font-size="15.99" textLength="19.35" lengthAdjust="spacingAndGlyphs">60</text>
<text x="1859.95" y="699.40" font-size="15.99" textLength="19.26" lengthAdjust="spacingAndGlyphs">80</text>
<text x="1899.43" y="699.40" font-size="15.99" textLength="28.95" lengthAdjust="spacingAndGlyphs">100</text>
<text x="1944.03" y="699.40" font-size="15.99" textLength="28.95" lengthAdjust="spacingAndGlyphs">120</text>
<text x="1480.85" y="812.90" font-size="16.42" textLength="23.11" lengthAdjust="spacingAndGlyphs">1.5</text>
<text x="1493.45" y="860.94" font-size="16.42" textLength="10.58" lengthAdjust="spacingAndGlyphs">1</text>
<text x="1481.25" y="908.98" font-size="16.42" textLength="22.70" lengthAdjust="spacingAndGlyphs">0.5</text>
<text x="1493.91" y="957.02" font-size="16.42" textLength="10.35" lengthAdjust="spacingAndGlyphs">0</text>
<text x="1474.74" y="1005.06" font-size="16.42" textLength="29.23" lengthAdjust="spacingAndGlyphs">-0.5</text>
<text x="1487.42" y="1053.10" font-size="16.42" textLength="16.60" lengthAdjust="spacingAndGlyphs">-1</text>
<text x="1274.79" y="981.90" font-size="16.72" textLength="35.05" lengthAdjust="spacingAndGlyphs">-100</text>
<text x="1393.95" y="981.90" font-size="16.72" textLength="25.94" lengthAdjust="spacingAndGlyphs">-50</text>
<text x="1516.34" y="981.90" font-size="16.72" textLength="10.35" lengthAdjust="spacingAndGlyphs">0</text>
<text x="1626.57" y="981.90" font-size="16.72" textLength="19.24" lengthAdjust="spacingAndGlyphs">50</text>
<text x="1736.03" y="981.90" font-size="16.72" textLength="28.95" lengthAdjust="spacingAndGlyphs">100</text>
<text x="1666.37" y="825.00" font-size="16.86" textLength="74.60" lengthAdjust="spacingAndGlyphs">r=-0.1971</text>
<text x="1666.37" y="847.60" font-size="16.86" textLength="73.16" lengthAdjust="spacingAndGlyphs">p=0.0428</text>
<text x="1374.73" y="1081.00" font-size="19.19" textLength="245.22" lengthAdjust="spacingAndGlyphs">Differential Methylation (%)</text>
<text transform="translate(1257.20,1064.10) rotate(-90)" x="-1.18" y="0" font-size="18.90" textLength="263.26" lengthAdjust="spacingAndGlyphs">Expression Fold change (Log2)</text>
</g>
<g fill="#ffc000" stroke="#000" stroke-width="1.9"><circle cx="1454.7" cy="831.8" r="3.05"/><circle cx="1451.7" cy="836.8" r="3.05"/><circle cx="1437" cy="866.9" r="3.05"/><circle cx="1436.7" cy="871.7" r="3.05"/><circle cx="1434.7" cy="877.7" r="3.05"/><circle cx="1429.1" cy="891.3" r="3.05"/><circle cx="1403.8" cy="897" r="3.05"/><circle cx="1454.6" cy="903" r="3.05"/><circle cx="1422.1" cy="906.9" r="3.05"/><circle cx="1434.2" cy="907.4" r="3.05"/><circle cx="1444.8" cy="908.5" r="3.05"/><circle cx="1406.6" cy="910.9" r="3.05"/><circle cx="1459.6" cy="910.6" r="3.05"/><circle cx="1414.2" cy="914.4" r="3.05"/><circle cx="1448.5" cy="912.8" r="3.05"/><circle cx="1454.4" cy="913.3" r="3.05"/><circle cx="1394.9" cy="917.8" r="3.05"/><circle cx="1423.1" cy="920.9" r="3.05"/><circle cx="1430.3" cy="917.3" r="3.05"/><circle cx="1437.6" cy="914.9" r="3.05"/><circle cx="1459.7" cy="916" r="3.05"/><circle cx="1406.6" cy="920.8" r="3.05"/><circle cx="1406.6" cy="924.9" r="3.05"/><circle cx="1426" cy="923" r="3.05"/><circle cx="1429.2" cy="924" r="3.05"/><circle cx="1437" cy="926.2" r="3.05"/><circle cx="1441.2" cy="923.8" r="3.05"/><circle cx="1441.5" cy="917.8" r="3.05"/><circle cx="1448.1" cy="925.1" r="3.05"/><circle cx="1456.5" cy="923.5" r="3.05"/><circle cx="1446.9" cy="916" r="3.05"/><circle cx="1452.2" cy="919.7" r="3.05"/><circle cx="1455.4" cy="925.6" r="3.05"/><circle cx="1444.7" cy="920.8" r="3.05"/><circle cx="1432.9" cy="919.7" r="3.05"/><circle cx="1593.1" cy="880.8" r="3.05"/><circle cx="1584.5" cy="894" r="3.05"/><circle cx="1606.1" cy="896.8" r="3.05"/><circle cx="1599.7" cy="899.7" r="3.05"/><circle cx="1659.1" cy="891.6" r="3.05"/><circle cx="1591.9" cy="910" r="3.05"/><circle cx="1596.3" cy="908.9" r="3.05"/><circle cx="1602.6" cy="909.4" r="3.05"/><circle cx="1599.4" cy="912.5" r="3.05"/><circle cx="1602.5" cy="915" r="3.05"/><circle cx="1609.7" cy="915.8" r="3.05"/><circle cx="1582.8" cy="918.5" r="3.05"/><circle cx="1581.6" cy="920" r="3.05"/><circle cx="1596.1" cy="919.1" r="3.05"/><circle cx="1602.5" cy="918.5" r="3.05"/><circle cx="1588.8" cy="924.7" r="3.05"/><circle cx="1610.3" cy="925" r="3.05"/><circle cx="1632.2" cy="922.2" r="3.05"/><circle cx="1375.5" cy="981.4" r="3.05"/><circle cx="1404.9" cy="980.6" r="3.05"/><circle cx="1404.9" cy="981.7" r="3.05"/><circle cx="1415.2" cy="983.4" r="3.05"/><circle cx="1419.6" cy="985.1" r="3.05"/><circle cx="1396.2" cy="989.5" r="3.05"/><circle cx="1399.8" cy="990.4" r="3.05"/><circle cx="1444.9" cy="978.1" r="3.05"/><circle cx="1453.1" cy="983.1" r="3.05"/><circle cx="1464" cy="979.8" r="3.05"/><circle cx="1464" cy="981.7" r="3.05"/><circle cx="1436.4" cy="986.5" r="3.05"/><circle cx="1433" cy="989.5" r="3.05"/><circle cx="1446.1" cy="987.2" r="3.05"/><circle cx="1450.9" cy="988.1" r="3.05"/><circle cx="1454.8" cy="989" r="3.05"/><circle cx="1440.3" cy="992.6" r="3.05"/><circle cx="1456.7" cy="994" r="3.05"/><circle cx="1456.7" cy="995.7" r="3.05"/><circle cx="1462.6" cy="990.9" r="3.05"/><circle cx="1393.7" cy="1011.7" r="3.05"/><circle cx="1426.9" cy="1015.6" r="3.05"/><circle cx="1581.7" cy="979.6" r="3.05"/><circle cx="1587.3" cy="980.9" r="3.05"/><circle cx="1594.5" cy="979.6" r="3.05"/><circle cx="1603.4" cy="983.6" r="3.05"/><circle cx="1609" cy="982.8" r="3.05"/><circle cx="1612.4" cy="981.7" r="3.05"/><circle cx="1614.5" cy="981.3" r="3.05"/><circle cx="1627.7" cy="978.4" r="3.05"/><circle cx="1662.8" cy="981.2" r="3.05"/><circle cx="1578.7" cy="989.6" r="3.05"/><circle cx="1585.6" cy="988.3" r="3.05"/><circle cx="1598.5" cy="993.9" r="3.05"/><circle cx="1603.5" cy="993.9" r="3.05"/><circle cx="1606.8" cy="999" r="3.05"/><circle cx="1606.8" cy="1001" r="3.05"/><circle cx="1619.9" cy="998.2" r="3.05"/><circle cx="1636.1" cy="994.3" r="3.05"/><circle cx="1644.2" cy="990.6" r="3.05"/><circle cx="1646.5" cy="989.5" r="3.05"/><circle cx="1584.1" cy="999.1" r="3.05"/><circle cx="1603.4" cy="1010.4" r="3.05"/><circle cx="1617.1" cy="1010.7" r="3.05"/></g>
</svg></body></html>
